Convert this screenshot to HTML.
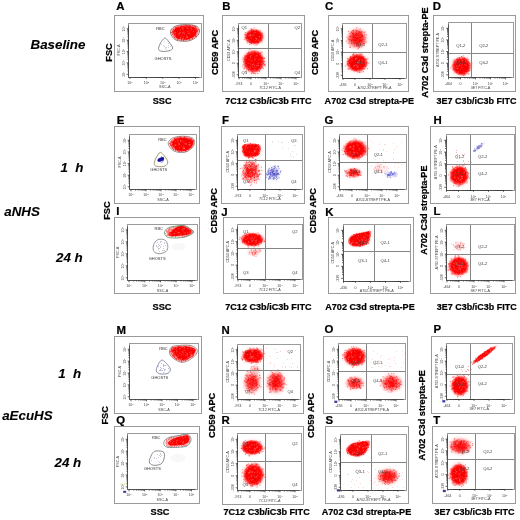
<!DOCTYPE html>
<html><head><meta charset="utf-8"><style>
html,body{margin:0;padding:0;background:#fff;width:520px;height:520px;overflow:hidden}
svg{display:block;font-family:"Liberation Sans",sans-serif;will-change:transform}
</style></head><body>
<svg width="520" height="520" viewBox="0 0 520 520">
<defs><radialGradient id="gr"><stop offset="0" stop-color="#f00"/><stop offset="0.66" stop-color="#f00"/><stop offset="0.82" stop-color="#f00" stop-opacity="0.6"/><stop offset="0.93" stop-color="#f00" stop-opacity="0.2"/><stop offset="1" stop-color="#f00" stop-opacity="0"/></radialGradient><radialGradient id="gs"><stop offset="0" stop-color="#f00"/><stop offset="0.35" stop-color="#f00" stop-opacity="0.95"/><stop offset="0.65" stop-color="#f00" stop-opacity="0.55"/><stop offset="0.85" stop-color="#f00" stop-opacity="0.2"/><stop offset="1" stop-color="#f00" stop-opacity="0"/></radialGradient><radialGradient id="gb"><stop offset="0" stop-color="#2a2ac0"/><stop offset="0.5" stop-color="#2a2ac0"/><stop offset="0.75" stop-color="#2a2ac0" stop-opacity="0.6"/><stop offset="1" stop-color="#2a2ac0" stop-opacity="0"/></radialGradient></defs>
<rect width="520" height="520" fill="#fff"/>
<rect x="114.5" y="15.5" width="89.0" height="76.0" fill="#fff" stroke="#9a9a9a" stroke-width="1"/>
<rect x="114.5" y="126.5" width="85.0" height="77.0" fill="#fff" stroke="#9a9a9a" stroke-width="1"/>
<rect x="114.5" y="217.5" width="85.0" height="76.0" fill="#fff" stroke="#9a9a9a" stroke-width="1"/>
<rect x="114.5" y="336.5" width="87.0" height="77.0" fill="#fff" stroke="#9a9a9a" stroke-width="1"/>
<rect x="114.5" y="426.5" width="85.0" height="77.0" fill="#fff" stroke="#9a9a9a" stroke-width="1"/>
<rect x="222.5" y="15.5" width="82.0" height="76.0" fill="#fff" stroke="#9a9a9a" stroke-width="1"/>
<rect x="328.5" y="15.5" width="80.0" height="76.0" fill="#fff" stroke="#9a9a9a" stroke-width="1"/>
<rect x="433.5" y="15.5" width="82.0" height="76.0" fill="#fff" stroke="#9a9a9a" stroke-width="1"/>
<rect x="221.5" y="126.5" width="83.0" height="77.0" fill="#fff" stroke="#9a9a9a" stroke-width="1"/>
<rect x="323.5" y="126.5" width="85.0" height="77.0" fill="#fff" stroke="#9a9a9a" stroke-width="1"/>
<rect x="430.5" y="126.5" width="85.0" height="77.0" fill="#fff" stroke="#9a9a9a" stroke-width="1"/>
<rect x="223.5" y="217.5" width="80.0" height="76.0" fill="#fff" stroke="#9a9a9a" stroke-width="1"/>
<rect x="328.5" y="217.5" width="85.0" height="76.0" fill="#fff" stroke="#9a9a9a" stroke-width="1"/>
<rect x="430.5" y="217.5" width="85.0" height="76.0" fill="#fff" stroke="#9a9a9a" stroke-width="1"/>
<rect x="222.5" y="336.5" width="81.0" height="77.0" fill="#fff" stroke="#9a9a9a" stroke-width="1"/>
<rect x="323.5" y="336.5" width="84.0" height="77.0" fill="#fff" stroke="#9a9a9a" stroke-width="1"/>
<rect x="431.5" y="336.5" width="83.0" height="77.0" fill="#fff" stroke="#9a9a9a" stroke-width="1"/>
<rect x="222.5" y="426.5" width="81.0" height="78.0" fill="#fff" stroke="#9a9a9a" stroke-width="1"/>
<rect x="325.5" y="426.5" width="83.0" height="77.0" fill="#fff" stroke="#9a9a9a" stroke-width="1"/>
<rect x="432.5" y="426.5" width="83.0" height="77.0" fill="#fff" stroke="#9a9a9a" stroke-width="1"/>
<ellipse cx="178.5" cy="246.8" rx="7" ry="3.8" fill="#f8f8f8"/>
<ellipse cx="178" cy="458" rx="8" ry="4" fill="#f8f8f8"/>
<rect x="123.2" y="490.8" width="3" height="2" fill="#24248c" fill-opacity="0.9"/>
<rect x="120" y="483.5" width="7" height="1.6" fill="#f0f0c8"/>
<g>
<path d="M171.4 32.97C171.09 31.09 172.26 29.05 173.75 27.8C175.24 26.55 177.67 25.87 180.33 25.45C182.99 25.03 187.07 25.04 189.73 25.27C192.39 25.50 194.82 25.89 196.31 26.86C197.80 27.83 198.66 29.52 198.66 31.09C198.66 32.66 197.80 34.77 196.31 36.26C194.82 37.75 191.92 39.28 189.73 40.02C187.54 40.76 185.50 40.84 183.15 40.68C180.80 40.52 177.59 40.36 175.63 39.08C173.67 37.80 171.71 34.85 171.4 32.97Z" fill="#f00" fill-opacity="0.50"/>
<path d="M173.5 32.91C173.23 31.31 174.23 29.58 175.5 28.51C176.77 27.44 178.83 26.87 181.1 26.51C183.37 26.15 186.83 26.15 189.1 26.35C191.37 26.55 193.43 26.88 194.7 27.71C195.97 28.54 196.70 29.98 196.7 31.31C196.70 32.64 195.97 34.44 194.7 35.71C193.43 36.98 190.97 38.28 189.1 38.91C187.23 39.54 185.50 39.60 183.5 39.47C181.50 39.34 178.77 39.20 177.1 38.11C175.43 37.02 173.77 34.51 173.5 32.91Z" fill="#f00" fill-opacity="1.0"/>
<path d="M169.46 144.0C169.15 142.20 170.56 140.46 172.09 139.3C173.62 138.14 176.16 137.43 178.67 137.04C181.18 136.65 184.78 136.65 187.13 136.95C189.48 137.25 191.58 137.89 192.77 138.83C193.96 139.77 194.36 141.18 194.28 142.59C194.20 144.00 193.49 145.88 192.3 147.29C191.11 148.70 188.93 150.25 187.13 151.05C185.33 151.85 183.68 152.24 181.49 152.08C179.30 151.92 175.97 151.46 173.97 150.11C171.97 148.76 169.77 145.80 169.46 144.0Z" fill="#f00" fill-opacity="0.50"/>
<path d="M171.87 143.98C171.60 142.45 172.80 140.97 174.11 139.98C175.42 138.99 177.58 138.39 179.71 138.06C181.84 137.73 184.91 137.73 186.91 137.98C188.91 138.23 190.70 138.78 191.71 139.58C192.72 140.38 193.06 141.58 192.99 142.78C192.92 143.98 192.32 145.58 191.31 146.78C190.30 147.98 188.44 149.30 186.91 149.98C185.38 150.66 183.98 150.99 182.11 150.86C180.24 150.73 177.42 150.33 175.71 149.18C174.00 148.03 172.14 145.51 171.87 143.98Z" fill="#f00" fill-opacity="1.0"/>
<ellipse cx="160.8" cy="159.4" rx="3.6" ry="1.9" fill="#1414a0" fill-opacity="1.0" transform="rotate(-25 160.8 159.4)"/>
<path d="M166.05 232.41C165.97 231.17 166.90 229.62 167.91 228.69C168.92 227.76 170.31 227.33 172.09 226.83C173.87 226.33 176.58 225.93 178.6 225.71C180.62 225.49 182.47 225.19 184.18 225.53C185.89 225.87 187.34 226.77 188.83 227.76C190.32 228.75 193.11 230.32 193.11 231.48C193.11 232.64 190.63 233.88 188.83 234.73C187.03 235.58 184.64 236.20 182.32 236.59C180.00 236.98 177.20 237.14 174.88 237.06C172.56 236.98 169.84 236.91 168.37 236.13C166.90 235.35 166.13 233.65 166.05 232.41Z" fill="#f00" fill-opacity="0.30"/>
<path d="M168.5 234C168.67 233.08 170.58 231.67 172 230.5C173.42 229.33 175.42 227.77 177 227C178.58 226.23 180.00 225.85 181.5 225.9C183.00 225.95 184.33 226.37 186 227.3C187.67 228.23 191.17 230.30 191.5 231.5C191.83 232.70 189.92 233.78 188 234.5C186.08 235.22 182.83 235.55 180 235.8C177.17 236.05 172.92 236.30 171 236C169.08 235.70 168.33 234.92 168.5 234Z" fill="#f00" fill-opacity="1.0"/>
<path d="M170.18 351.16C170.41 349.80 170.87 348.03 172.5 347.16C174.13 346.29 177.15 346.15 179.94 345.95C182.73 345.75 186.71 345.47 189.24 345.95C191.77 346.43 194.04 347.66 195.1 348.84C196.16 350.02 196.08 351.62 195.57 353.02C195.06 354.41 193.70 355.89 192.03 357.21C190.36 358.53 187.38 360.20 185.52 360.93C183.66 361.66 182.58 361.89 180.87 361.58C179.16 361.27 176.92 360.11 175.29 359.07C173.66 358.03 171.96 356.67 171.11 355.35C170.26 354.03 169.95 352.53 170.18 351.16Z" fill="#f00" fill-opacity="0.50"/>
<path d="M172 349.2C172.95 348.35 175.33 347.57 178 347.2C180.67 346.83 185.28 346.77 188 347C190.72 347.23 193.17 347.77 194.3 348.6C195.43 349.43 195.43 350.80 194.8 352C194.17 353.20 192.22 354.50 190.5 355.8C188.78 357.10 186.25 359.22 184.5 359.8C182.75 360.38 181.50 360.02 180 359.3C178.50 358.58 176.78 356.67 175.5 355.5C174.22 354.33 172.88 353.35 172.3 352.3C171.72 351.25 171.05 350.05 172 349.2Z" fill="#f00" fill-opacity="1.0"/>
<path d="M165.28 442.91C165.05 441.72 165.82 440.20 166.86 439.19C167.90 438.18 169.42 437.48 171.51 436.86C173.60 436.24 176.94 435.90 179.42 435.47C181.90 435.04 184.65 434.11 186.39 434.26C188.12 434.41 189.16 435.35 189.83 436.4C190.50 437.45 190.88 439.11 190.39 440.58C189.89 442.05 188.84 444.25 186.86 445.23C184.88 446.21 181.59 446.25 178.49 446.44C175.39 446.63 170.46 446.94 168.26 446.35C166.06 445.76 165.51 444.10 165.28 442.91Z" fill="#f00" fill-opacity="0.30"/>
<path d="M168 443C168.25 442.00 170.00 440.37 172 439.3C174.00 438.23 177.58 437.28 180 436.6C182.42 435.92 184.95 435.05 186.5 435.2C188.05 435.35 188.92 436.48 189.3 437.5C189.68 438.52 189.52 440.17 188.8 441.3C188.08 442.43 186.80 443.63 185 444.3C183.20 444.97 180.42 445.13 178 445.3C175.58 445.47 172.17 445.68 170.5 445.3C168.83 444.92 167.75 444.00 168 443Z" fill="#f00" fill-opacity="1.0"/>
<ellipse cx="254.2" cy="36.8" rx="12.48" ry="10.14" fill="url(#gs)" fill-opacity="0.28" transform="rotate(0.0 254.2 36.8)"/>
<ellipse cx="254.2" cy="36.8" rx="10.08" ry="8.19" fill="url(#gr)" fill-opacity="1.00" transform="rotate(0.0 254.2 36.8)"/>
<ellipse cx="253.8" cy="61.5" rx="14.04" ry="14.95" fill="url(#gs)" fill-opacity="0.28" transform="rotate(0.0 253.8 61.5)"/>
<ellipse cx="253.8" cy="61.5" rx="11.34" ry="12.08" fill="url(#gr)" fill-opacity="1.00" transform="rotate(0.0 253.8 61.5)"/>
<ellipse cx="357" cy="38.5" rx="13.0" ry="13.0" fill="url(#gs)" fill-opacity="0.28" transform="rotate(0.0 357 38.5)"/>
<ellipse cx="357" cy="38.5" rx="10.5" ry="10.5" fill="url(#gs)" fill-opacity="0.85" transform="rotate(0.0 357 38.5)"/>
<ellipse cx="357.2" cy="63" rx="13.91" ry="11.7" fill="url(#gs)" fill-opacity="0.28" transform="rotate(0.0 357.2 63)"/>
<ellipse cx="357.2" cy="63" rx="11.23" ry="9.45" fill="url(#gr)" fill-opacity="1.00" transform="rotate(0.0 357.2 63)"/>
<ellipse cx="461.5" cy="66.2" rx="12.48" ry="12.22" fill="url(#gs)" fill-opacity="0.28" transform="rotate(0.0 461.5 66.2)"/>
<ellipse cx="461.5" cy="66.2" rx="10.08" ry="9.87" fill="url(#gr)" fill-opacity="1.00" transform="rotate(0.0 461.5 66.2)"/>
<path d="M242.0 146.19C242.47 144.73 243.82 144.53 245.32 144.1C246.82 143.67 249.12 143.65 251.02 143.62C252.92 143.59 255.14 143.56 256.72 143.91C258.30 144.26 259.89 144.54 260.52 145.71C261.15 146.88 260.92 149.28 260.52 150.94C260.12 152.60 259.56 154.58 258.14 155.69C256.71 156.80 254.11 157.38 251.97 157.59C249.83 157.80 246.90 157.71 245.32 156.92C243.74 156.13 243.02 154.63 242.47 152.84C241.92 151.05 241.53 147.65 242.0 146.19Z" fill="#f00" fill-opacity="0.50"/>
<path d="M243.28 146.68C243.69 145.42 244.85 145.24 246.15 144.87C247.45 144.50 249.43 144.49 251.07 144.46C252.71 144.43 254.62 144.41 255.99 144.71C257.36 145.01 258.72 145.25 259.27 146.26C259.82 147.27 259.61 149.34 259.27 150.78C258.93 152.22 258.45 153.93 257.22 154.88C255.99 155.83 253.73 156.33 251.89 156.51C250.04 156.69 247.52 156.62 246.15 155.94C244.78 155.26 244.17 153.95 243.69 152.41C243.21 150.87 242.87 147.94 243.28 146.68Z" fill="#f00" fill-opacity="1.0"/>
<ellipse cx="251.3" cy="151" rx="13.0" ry="9.36" fill="url(#gs)" fill-opacity="0.18" transform="rotate(0.0 251.3 151)"/>
<ellipse cx="251" cy="171.5" rx="9.97" ry="12.6" fill="url(#gs)" fill-opacity="0.60" transform="rotate(0.0 251 171.5)"/>
<ellipse cx="273.5" cy="173.3" rx="7.88" ry="8.4" fill="url(#gb)" fill-opacity="0.18" transform="rotate(0.0 273.5 173.3)"/>
<ellipse cx="355.3" cy="149.5" rx="15.21" ry="12.35" fill="url(#gs)" fill-opacity="0.28" transform="rotate(0.0 355.3 149.5)"/>
<ellipse cx="355.3" cy="149.5" rx="12.29" ry="9.97" fill="url(#gr)" fill-opacity="1.00" transform="rotate(0.0 355.3 149.5)"/>
<ellipse cx="353.5" cy="172.8" rx="11.05" ry="6.76" fill="url(#gs)" fill-opacity="0.15" transform="rotate(0.0 353.5 172.8)"/>
<ellipse cx="353.5" cy="172.8" rx="8.93" ry="5.46" fill="url(#gs)" fill-opacity="0.70" transform="rotate(0.0 353.5 172.8)"/>
<ellipse cx="390.5" cy="174.5" rx="6.83" ry="3.68" fill="url(#gb)" fill-opacity="0.12" transform="rotate(0.0 390.5 174.5)"/>
<ellipse cx="380" cy="168" rx="9.45" ry="5.25" fill="url(#gs)" fill-opacity="0.06" transform="rotate(0.0 380 168)"/>
<ellipse cx="459.2" cy="175.7" rx="12.35" ry="13.0" fill="url(#gs)" fill-opacity="0.28" transform="rotate(0.0 459.2 175.7)"/>
<ellipse cx="459.2" cy="175.7" rx="9.97" ry="10.5" fill="url(#gr)" fill-opacity="1.00" transform="rotate(0.0 459.2 175.7)"/>
<ellipse cx="479" cy="147" rx="8.4" ry="2.1" fill="url(#gb)" fill-opacity="0.15" transform="rotate(-38 479 147)"/>
<ellipse cx="252.4" cy="239.6" rx="14.82" ry="8.97" fill="url(#gs)" fill-opacity="0.28" transform="rotate(0.0 252.4 239.6)"/>
<ellipse cx="252.4" cy="239.6" rx="11.97" ry="7.25" fill="url(#gr)" fill-opacity="1.00" transform="rotate(0.0 252.4 239.6)"/>
<ellipse cx="254" cy="252" rx="8.4" ry="5.25" fill="url(#gs)" fill-opacity="0.15" transform="rotate(0.0 254 252)"/>
<path d="M348.07 240.43C348.31 239.16 349.10 237.26 350.44 236.15C351.78 235.04 353.92 234.49 356.14 233.78C358.36 233.07 361.30 232.35 363.75 231.88C366.20 231.41 369.76 230.06 370.87 230.93C371.98 231.80 370.87 234.96 370.39 237.1C369.91 239.24 369.76 242.17 368.02 243.75C366.28 245.33 362.55 246.20 359.94 246.6C357.33 247.00 354.17 246.60 352.35 246.13C350.53 245.66 349.73 244.70 349.02 243.75C348.31 242.80 347.83 241.70 348.07 240.43Z" fill="#f00" fill-opacity="0.50"/>
<path d="M349.55 240.24C349.75 239.15 350.44 237.51 351.6 236.55C352.76 235.59 354.61 235.12 356.52 234.5C358.43 233.88 360.96 233.27 363.08 232.86C365.20 232.45 368.27 231.29 369.23 232.04C370.19 232.79 369.23 235.53 368.82 237.37C368.41 239.22 368.27 241.74 366.77 243.11C365.27 244.48 362.06 245.23 359.8 245.57C357.55 245.91 354.81 245.57 353.24 245.16C351.67 244.75 350.99 243.93 350.37 243.11C349.75 242.29 349.35 241.33 349.55 240.24Z" fill="#f00" fill-opacity="1.0"/>
<ellipse cx="359.5" cy="239.5" rx="14.3" ry="9.1" fill="url(#gs)" fill-opacity="0.20" transform="rotate(-15 359.5 239.5)"/>
<ellipse cx="458.7" cy="266.2" rx="13.0" ry="12.48" fill="url(#gs)" fill-opacity="0.28" transform="rotate(0.0 458.7 266.2)"/>
<ellipse cx="458.7" cy="266.2" rx="10.5" ry="10.08" fill="url(#gr)" fill-opacity="0.95" transform="rotate(0.0 458.7 266.2)"/>
<ellipse cx="459" cy="246" rx="7.35" ry="6.3" fill="url(#gs)" fill-opacity="0.08" transform="rotate(0.0 459 246)"/>
<ellipse cx="253" cy="355.7" rx="14.3" ry="9.49" fill="url(#gs)" fill-opacity="0.28" transform="rotate(0.0 253 355.7)"/>
<ellipse cx="253" cy="355.7" rx="11.55" ry="7.67" fill="url(#gr)" fill-opacity="1.00" transform="rotate(0.0 253 355.7)"/>
<ellipse cx="252" cy="382.3" rx="11.05" ry="14.04" fill="url(#gs)" fill-opacity="0.28" transform="rotate(0.0 252 382.3)"/>
<ellipse cx="252" cy="382.3" rx="8.93" ry="11.34" fill="url(#gs)" fill-opacity="0.60" transform="rotate(0.0 252 382.3)"/>
<ellipse cx="276" cy="382.3" rx="12.35" ry="14.04" fill="url(#gs)" fill-opacity="0.28" transform="rotate(0.0 276 382.3)"/>
<ellipse cx="276" cy="382.3" rx="9.97" ry="11.34" fill="url(#gs)" fill-opacity="0.80" transform="rotate(0.0 276 382.3)"/>
<ellipse cx="255" cy="369" rx="6.3" ry="5.25" fill="url(#gs)" fill-opacity="0.20" transform="rotate(0.0 255 369)"/>
<ellipse cx="354.8" cy="356.8" rx="14.56" ry="11.96" fill="url(#gs)" fill-opacity="0.28" transform="rotate(0.0 354.8 356.8)"/>
<ellipse cx="354.8" cy="356.8" rx="11.76" ry="9.66" fill="url(#gr)" fill-opacity="1.00" transform="rotate(0.0 354.8 356.8)"/>
<ellipse cx="354.7" cy="383" rx="11.7" ry="8.45" fill="url(#gs)" fill-opacity="0.28" transform="rotate(0.0 354.7 383)"/>
<ellipse cx="354.7" cy="383" rx="9.45" ry="6.83" fill="url(#gs)" fill-opacity="0.60" transform="rotate(0.0 354.7 383)"/>
<ellipse cx="391.6" cy="383" rx="13.65" ry="11.05" fill="url(#gs)" fill-opacity="0.28" transform="rotate(0.0 391.6 383)"/>
<ellipse cx="391.6" cy="383" rx="11.03" ry="8.93" fill="url(#gs)" fill-opacity="0.70" transform="rotate(0.0 391.6 383)"/>
<ellipse cx="459.8" cy="385.7" rx="11.44" ry="13.26" fill="url(#gs)" fill-opacity="0.28" transform="rotate(0.0 459.8 385.7)"/>
<ellipse cx="459.8" cy="385.7" rx="9.24" ry="10.71" fill="url(#gr)" fill-opacity="1.00" transform="rotate(0.0 459.8 385.7)"/>
<ellipse cx="484.3" cy="354.7" rx="19.5" ry="3.38" fill="url(#gs)" fill-opacity="0.15" transform="rotate(-36 484.3 354.7)"/>
<ellipse cx="484.3" cy="354.7" rx="15.75" ry="2.73" fill="url(#gr)" fill-opacity="0.85" transform="rotate(-36 484.3 354.7)"/>
<ellipse cx="252.2" cy="447.5" rx="14.04" ry="9.75" fill="url(#gs)" fill-opacity="0.28" transform="rotate(0.0 252.2 447.5)"/>
<ellipse cx="252.2" cy="447.5" rx="11.34" ry="7.88" fill="url(#gr)" fill-opacity="1.00" transform="rotate(0.0 252.2 447.5)"/>
<ellipse cx="253.5" cy="474.8" rx="13.65" ry="14.56" fill="url(#gs)" fill-opacity="0.28" transform="rotate(0.0 253.5 474.8)"/>
<ellipse cx="253.5" cy="474.8" rx="11.03" ry="11.76" fill="url(#gr)" fill-opacity="1.00" transform="rotate(0.0 253.5 474.8)"/>
<path d="M346.12 448.96C346.67 447.53 348.41 445.40 350.39 444.21C352.37 443.02 355.46 442.42 358.0 441.84C360.54 441.25 363.62 440.78 365.6 440.7C367.58 440.62 369.32 440.30 369.87 441.36C370.42 442.42 369.79 445.00 368.92 447.06C368.05 449.12 366.46 452.08 364.64 453.71C362.82 455.34 360.38 456.61 358.0 456.85C355.62 457.09 352.21 455.82 350.39 455.14C348.57 454.46 347.78 453.79 347.07 452.76C346.36 451.73 345.57 450.38 346.12 448.96Z" fill="#f00" fill-opacity="0.50"/>
<path d="M347.73 448.87C348.21 447.64 349.71 445.79 351.42 444.77C353.13 443.75 355.79 443.23 357.98 442.72C360.17 442.21 362.83 441.80 364.54 441.73C366.25 441.66 367.75 441.39 368.23 442.31C368.71 443.23 368.16 445.45 367.41 447.23C366.66 449.01 365.29 451.56 363.72 452.97C362.15 454.38 360.03 455.47 357.98 455.67C355.93 455.88 352.99 454.79 351.42 454.2C349.85 453.61 349.17 453.04 348.55 452.15C347.94 451.26 347.25 450.10 347.73 448.87Z" fill="#f00" fill-opacity="1.0"/>
<ellipse cx="358" cy="448.8" rx="14.95" ry="9.75" fill="url(#gs)" fill-opacity="0.20" transform="rotate(-15 358 448.8)"/>
<ellipse cx="388" cy="476.5" rx="13.65" ry="10.4" fill="url(#gs)" fill-opacity="0.28" transform="rotate(0.0 388 476.5)"/>
<ellipse cx="388" cy="476.5" rx="11.03" ry="8.4" fill="url(#gs)" fill-opacity="0.80" transform="rotate(0.0 388 476.5)"/>
<ellipse cx="460.3" cy="446.2" rx="14.3" ry="10.66" fill="url(#gs)" fill-opacity="0.28" transform="rotate(0.0 460.3 446.2)"/>
<ellipse cx="460.3" cy="446.2" rx="11.55" ry="8.61" fill="url(#gs)" fill-opacity="0.75" transform="rotate(0.0 460.3 446.2)"/>
<ellipse cx="458.8" cy="474.5" rx="11.96" ry="14.3" fill="url(#gs)" fill-opacity="0.28" transform="rotate(0.0 458.8 474.5)"/>
<ellipse cx="458.8" cy="474.5" rx="9.66" ry="11.55" fill="url(#gr)" fill-opacity="1.00" transform="rotate(0.0 458.8 474.5)"/>
<path d="M169 143h1M170 143h1M170 144h1M170 145h1M170 351h1M171 32h1M171 141h1M171 142h1M171 145h1M171 146h1M171 348h1M171 349h1M171 350h1M171 351h1M172 31h1M172 32h1M172 34h1M172 143h1M172 144h1M172 145h1M172 147h1M172 148h1M172 347h1M172 349h1M172 350h1M172 355h1M173 29h1M173 30h1M173 31h1M173 32h1M173 33h1M173 142h1M173 143h1M173 145h1M173 146h1M173 149h1M173 347h1M173 351h1M173 352h1M173 353h1M173 354h1M173 355h1M173 356h1M174 31h1M174 32h1M174 33h1M174 34h1M174 35h1M174 37h1M174 138h1M174 139h1M174 140h1M174 141h1M174 142h1M174 143h1M174 144h1M174 347h1M174 349h1M174 350h1M174 351h1M174 352h1M174 353h1M174 354h1M174 355h1M174 356h1M174 357h1M175 27h1M175 28h1M175 29h1M175 30h1M175 32h1M175 33h1M175 34h1M175 138h1M175 139h1M175 142h1M175 143h1M175 144h1M175 145h1M175 147h1M175 148h1M175 149h1M175 150h1M175 347h1M175 349h1M175 350h1M175 353h1M175 358h1M176 27h1M176 29h1M176 30h1M176 31h1M176 32h1M176 33h1M176 34h1M176 36h1M176 37h1M176 138h1M176 140h1M176 141h1M176 147h1M176 148h1M176 149h1M176 348h1M176 350h1M176 351h1M176 352h1M176 354h1M176 355h1M176 358h1M176 359h1M177 27h1M177 28h1M177 30h1M177 32h1M177 33h1M177 35h1M177 36h1M177 37h1M177 38h1M177 39h1M177 137h1M177 140h1M177 141h1M177 142h1M177 148h1M177 150h1M177 346h1M177 348h1M177 349h1M177 350h1M177 351h1M177 352h1M177 353h1M177 355h1M177 357h1M178 27h1M178 34h1M178 35h1M178 36h1M178 37h1M178 38h1M178 138h1M178 140h1M178 141h1M178 142h1M178 144h1M178 146h1M178 149h1M178 150h1M178 151h1M178 346h1M178 347h1M178 350h1M178 351h1M178 352h1M178 354h1M178 356h1M178 358h1M178 359h1M179 30h1M179 31h1M179 33h1M179 34h1M179 35h1M179 37h1M179 38h1M179 137h1M179 138h1M179 140h1M179 141h1M179 142h1M179 143h1M179 144h1M179 147h1M179 148h1M179 151h1M179 346h1M179 347h1M179 348h1M179 351h1M179 353h1M179 354h1M179 356h1M179 358h1M180 26h1M180 27h1M180 30h1M180 31h1M180 32h1M180 34h1M180 35h1M180 36h1M180 37h1M180 38h1M180 136h1M180 137h1M180 138h1M180 139h1M180 142h1M180 144h1M180 145h1M180 146h1M180 147h1M180 150h1M180 348h1M180 350h1M180 352h1M180 353h1M180 354h1M180 357h1M180 359h1M181 25h1M181 26h1M181 27h1M181 30h1M181 33h1M181 36h1M181 37h1M181 39h1M181 40h1M181 138h1M181 140h1M181 141h1M181 145h1M181 146h1M181 147h1M181 148h1M181 149h1M181 151h1M181 347h1M181 348h1M181 349h1M181 351h1M181 354h1M181 355h1M181 356h1M181 357h1M181 359h1M181 360h1M181 361h1M182 26h1M182 27h1M182 31h1M182 33h1M182 36h1M182 37h1M182 38h1M182 138h1M182 139h1M182 140h1M182 141h1M182 145h1M182 146h1M182 148h1M182 348h1M182 349h1M182 352h1M182 353h1M182 354h1M182 356h1M182 357h1M182 358h1M183 26h1M183 28h1M183 29h1M183 30h1M183 32h1M183 33h1M183 34h1M183 35h1M183 36h1M183 39h1M183 40h1M183 139h1M183 140h1M183 141h1M183 142h1M183 147h1M183 148h1M183 149h1M183 348h1M183 350h1M183 351h1M183 355h1M183 356h1M183 358h1M183 360h1M184 26h1M184 29h1M184 30h1M184 31h1M184 32h1M184 33h1M184 36h1M184 38h1M184 39h1M184 136h1M184 137h1M184 142h1M184 143h1M184 145h1M184 146h1M184 149h1M184 150h1M184 346h1M184 347h1M184 350h1M184 351h1M184 353h1M184 354h1M184 356h1M184 357h1M185 25h1M185 38h1M185 141h1M185 142h1M185 145h1M185 146h1M185 147h1M185 148h1M185 149h1M185 150h1M185 151h1M185 346h1M185 347h1M185 348h1M185 349h1M185 351h1M185 352h1M185 353h1M185 354h1M185 355h1M185 359h1M185 360h1M186 25h1M186 27h1M186 29h1M186 30h1M186 32h1M186 33h1M186 35h1M186 36h1M186 38h1M186 39h1M186 138h1M186 139h1M186 140h1M186 143h1M186 146h1M186 147h1M186 151h1M186 346h1M186 347h1M186 348h1M186 349h1M186 350h1M186 353h1M186 355h1M186 356h1M186 358h1M186 359h1M187 25h1M187 26h1M187 28h1M187 32h1M187 33h1M187 35h1M187 36h1M187 37h1M187 38h1M187 138h1M187 140h1M187 141h1M187 142h1M187 144h1M187 147h1M187 148h1M187 149h1M187 347h1M187 348h1M187 349h1M187 350h1M187 352h1M187 353h1M187 355h1M187 357h1M187 358h1M187 359h1M188 25h1M188 27h1M188 28h1M188 29h1M188 31h1M188 32h1M188 33h1M188 34h1M188 35h1M188 36h1M188 141h1M188 143h1M188 144h1M188 146h1M188 149h1M188 349h1M188 353h1M188 354h1M188 355h1M188 356h1M188 357h1M188 358h1M189 25h1M189 27h1M189 29h1M189 30h1M189 33h1M189 36h1M189 39h1M189 138h1M189 139h1M189 140h1M189 141h1M189 142h1M189 143h1M189 144h1M189 145h1M189 146h1M189 147h1M189 148h1M189 345h1M189 347h1M189 349h1M189 350h1M189 352h1M189 353h1M189 354h1M189 355h1M189 356h1M189 357h1M190 25h1M190 26h1M190 27h1M190 28h1M190 29h1M190 30h1M190 31h1M190 33h1M190 37h1M190 142h1M190 145h1M190 146h1M190 147h1M190 348h1M190 350h1M190 351h1M190 354h1M190 357h1M191 28h1M191 30h1M191 32h1M191 37h1M191 138h1M191 142h1M191 144h1M191 147h1M191 347h1M191 351h1M191 353h1M191 356h1M192 25h1M192 29h1M192 30h1M192 31h1M192 33h1M192 34h1M192 36h1M192 37h1M192 38h1M192 140h1M192 141h1M192 142h1M192 143h1M192 144h1M192 351h1M192 352h1M192 353h1M192 354h1M192 355h1M192 356h1M193 27h1M193 28h1M193 32h1M193 33h1M193 34h1M193 35h1M193 36h1M193 140h1M193 141h1M193 348h1M193 349h1M193 350h1M193 351h1M193 353h1M193 354h1M193 355h1M194 26h1M194 33h1M194 351h1M195 26h1M195 27h1M195 28h1M195 30h1M195 31h1M195 34h1M195 35h1M195 36h1M195 349h1M195 350h1M196 28h1M196 29h1M196 30h1M196 36h1M197 30h1M197 31h1M198 29h1M239.8 168.1h1M241.3 175.3h1M241.5 173.6h1M241.6 167.5h1M241.7 177.6h1M242 146h1M242 147h1M242 151h1M242.1 171.2h1M242.5 172.3h1M242.5 178.2h1M242.6 179.1h1M242.8 173.4h1M242.9 169.5h1M242.9 169.9h1M242.9 177.9h1M243 145h1M243 147h1M243 149h1M243 152h1M243.1 171.4h1M243.2 164.8h1M243.2 173.3h1M243.3 175.2h1M243.4 177.4h1M243.6 167.1h1M243.8 168.2h1M243.8 177.1h1M243.8 179.1h1M244 144h1M244 147h1M244 155h1M244 173.9h1M244.1 175.8h1M244.2 167.5h1M244.2 173.5h1M244.5 175.2h1M244.7 162.4h1M244.7 165.6h1M244.7 172.1h1M244.8 172.7h1M244.8 176.7h1M245 144h1M245 145h1M245 146h1M245 148h1M245 152h1M245 155h1M245 166.5h1M245 166.8h1M245 170.7h1M245 176.8h1M245.1 173h1M245.1 175.3h1M245.2 168.9h1M245.3 164h1M245.5 169.2h1M245.5 172.1h1M245.5 176.3h1M245.6 164.6h1M245.6 173.8h1M245.6 174h1M245.6 175h1M245.7 171.2h1M245.8 174.1h1M245.8 179h1M246 145h1M246 149h1M246 150h1M246 151h1M246 154h1M246 159.8h1M246 165.8h1M246 170.9h1M246.1 160.9h1M246.1 162.6h1M246.1 164.7h1M246.1 169.3h1M246.1 171h1M246.2 167.8h1M246.2 168.1h1M246.2 174.4h1M246.3 162.3h1M246.3 170.1h1M246.3 174.6h1M246.3 176.7h1M246.3 177.7h1M246.4 165.5h1M246.4 174h1M246.5 169.2h1M246.5 172.9h1M246.6 167h1M246.6 167.2h1M246.6 170.6h1M246.6 173h1M246.8 168.9h1M246.8 172h1M246.8 172.7h1M246.8 173.1h1M246.8 176.6h1M246.9 164.7h1M246.9 169.5h1M247 147h1M247 148h1M247 149h1M247 152h1M247 153h1M247 168.1h1M247 179h1M247.1 167h1M247.1 167.5h1M247.1 168.6h1M247.1 170h1M247.1 175.2h1M247.2 167.6h1M247.2 170.6h1M247.2 171.5h1M247.2 175.2h1M247.3 168.7h1M247.3 169.4h1M247.3 175.3h1M247.4 171.9h1M247.5 170.3h1M247.5 173.2h1M247.6 171.2h1M247.8 162.2h1M247.8 173.3h1M247.9 169.1h1M247.9 172.2h1M247.9 173.1h1M248 146h1M248 147h1M248 148h1M248 153h1M248 154h1M248 157h1M248 175.2h1M248 178.8h1M248.1 169.2h1M248.1 170h1M248.1 171.4h1M248.1 181.8h1M248.2 166.1h1M248.2 171h1M248.2 175.8h1M248.3 158.2h1M248.3 168.1h1M248.3 168.5h1M248.3 172.7h1M248.3 172.8h1M248.3 175.1h1M248.3 175.3h1M248.4 166h1M248.4 168.7h1M248.4 175.7h1M248.4 176.2h1M248.4 181.1h1M248.5 170.8h1M248.5 173.5h1M248.7 181h1M248.8 160.5h1M248.8 160.8h1M248.8 171.1h1M248.8 175.1h1M248.9 166.8h1M248.9 173.2h1M248.9 182.3h1M249 148h1M249 150h1M249 155h1M249 157h1M249 163.9h1M249 164.9h1M249 165.6h1M249 175.9h1M249 180.2h1M249.1 163.9h1M249.1 170.2h1M249.1 173.2h1M249.2 167.1h1M249.2 175.7h1M249.3 168h1M249.3 168.2h1M249.3 169.4h1M249.3 171.4h1M249.4 169.1h1M249.4 169.9h1M249.5 171.5h1M249.6 160.5h1M249.6 166.3h1M249.6 169.9h1M249.6 176.2h1M249.8 169.3h1M249.8 175.2h1M249.9 165.8h1M250 143h1M250 147h1M250 149h1M250 153h1M250 176.6h1M250.1 162.5h1M250.1 165.9h1M250.1 167.8h1M250.1 174.1h1M250.1 184.8h1M250.2 166.6h1M250.2 169.6h1M250.2 169.8h1M250.2 170.2h1M250.2 176.2h1M250.2 177.9h1M250.3 165.7h1M250.3 172.1h1M250.3 173.4h1M250.3 176.6h1M250.3 181.9h1M250.4 172.9h1M250.4 177.1h1M250.5 162.8h1M250.5 165.3h1M250.5 168.1h1M250.5 168.8h1M250.6 168.7h1M250.6 169h1M250.7 161.8h1M250.7 169.7h1M250.7 170.8h1M250.8 178.7h1M250.9 167.7h1M250.9 170.6h1M250.9 172.4h1M251 146h1M251 147h1M251 150h1M251 151h1M251 152h1M251 154h1M251 164.5h1M251 170.1h1M251 170.8h1M251 171.8h1M251 183.6h1M251.2 166.1h1M251.2 169.3h1M251.3 171.7h1M251.3 171.8h1M251.3 175.8h1M251.4 164.2h1M251.4 167.2h1M251.4 174.8h1M251.5 163h1M251.5 167.8h1M251.5 174.5h1M251.6 160.7h1M251.6 165h1M251.6 165.4h1M251.6 169h1M251.6 172.3h1M251.7 173.4h1M251.8 171.5h1M251.8 172h1M251.8 174.4h1M251.8 176.1h1M251.9 163.7h1M251.9 167.9h1M251.9 171.9h1M251.9 175h1M252 144h1M252 145h1M252 147h1M252 148h1M252 154h1M252 157h1M252 172.1h1M252 173.7h1M252.2 162.7h1M252.2 163.1h1M252.2 166.5h1M252.4 163.8h1M252.4 168.9h1M252.4 170.6h1M252.4 174.4h1M252.5 164.3h1M252.6 158h1M252.6 166.3h1M252.6 169.2h1M252.6 170.1h1M252.6 172.2h1M252.6 174.2h1M252.7 162.1h1M252.7 169.2h1M252.7 171.3h1M252.7 173.6h1M252.8 173.3h1M253 145h1M253 147h1M253 148h1M253 149h1M253 151h1M253 155h1M253.1 169.4h1M253.2 166.7h1M253.3 161.7h1M253.3 166.3h1M253.3 167.8h1M253.3 175.1h1M253.4 168.3h1M253.4 169.7h1M253.4 170.1h1M253.4 176.8h1M253.6 164.6h1M253.6 169.3h1M253.6 177h1M253.8 163.7h1M253.8 169.2h1M253.8 170.5h1M253.8 176.9h1M253.9 174.7h1M253.9 174.8h1M253.9 182.3h1M254 145h1M254 147h1M254 150h1M254 173.9h1M254 177.6h1M254.1 173.1h1M254.1 175.6h1M254.1 179.9h1M254.2 180.4h1M254.3 165.7h1M254.3 166.9h1M254.3 170.9h1M254.3 173h1M254.3 176.6h1M254.3 179.9h1M254.4 169.2h1M254.5 164.8h1M254.5 167.8h1M254.5 174.2h1M254.7 159.3h1M254.7 166.5h1M254.7 170.1h1M254.8 169h1M255 144h1M255 145h1M255 146h1M255 148h1M255 149h1M255 151h1M255 152h1M255 155h1M255 170.8h1M255.1 171.6h1M255.1 172h1M255.1 172.7h1M255.2 158.9h1M255.2 165.8h1M255.2 170.1h1M255.2 173.5h1M255.2 173.7h1M255.3 161h1M255.3 179.3h1M255.4 166.6h1M255.4 167.8h1M255.4 169.9h1M255.4 173.6h1M255.5 170.1h1M255.6 159.4h1M255.6 173.4h1M255.7 171.7h1M255.8 166.3h1M255.8 167.3h1M255.8 168.8h1M255.8 179.1h1M255.9 165.5h1M255.9 182.4h1M256 144h1M256 147h1M256 148h1M256 149h1M256 150h1M256 151h1M256 154h1M256 176.3h1M256.1 171.4h1M256.2 165.2h1M256.2 174.4h1M256.3 166.1h1M256.3 168h1M256.4 180.5h1M256.5 172.9h1M256.5 175.5h1M256.6 177h1M257 145h1M257 146h1M257 147h1M257 148h1M257 150h1M257 154h1M257 155h1M257.2 175.2h1M257.3 175.9h1M257.4 178.8h1M257.5 166.7h1M257.5 176.1h1M257.6 178h1M257.7 164.8h1M257.8 164.3h1M257.8 176.3h1M258 144h1M258 147h1M258 148h1M258 153h1M258 154h1M258.1 175.2h1M258.2 170h1M258.4 174.2h1M258.7 170.7h1M258.7 174.1h1M258.7 179.2h1M259 148h1M259 151h1M259 153h1M259.3 170.2h1M259.3 172.9h1M259.3 173.9h1M260 149h1M260.5 173.7h1M260.8 166.7h1M261.3 169.9h1M344.3 170.1h1M344.6 171h1M345.4 171.3h1M345.6 172.5h1M345.7 175.5h1M345.9 170.3h1M346.4 175h1M346.9 176.1h1M347 172.7h1M347 448h1M347 450h1M347 452h1M347 453h1M347.3 172.4h1M347.8 171.7h1M347.9 173.2h1M348 448h1M348 449h1M348 451h1M348.5 172.1h1M348.7 175.4h1M349 173h1M349 243h1M349 450h1M349 452h1M349.2 171.9h1M349.4 177.2h1M349.5 171.7h1M349.5 173.4h1M349.7 172.7h1M349.9 168.8h1M350 169.9h1M350 174.5h1M350 238h1M350 240h1M350 243h1M350 445h1M350 446h1M350 447h1M350 449h1M350 450h1M350 454h1M350.1 174.3h1M350.1 175h1M350.2 169.8h1M350.3 172.1h1M350.5 168.8h1M350.5 172.2h1M350.5 173h1M350.6 170.5h1M350.6 171.6h1M350.6 174.6h1M350.7 173.8h1M350.7 174.8h1M350.8 169.7h1M350.9 174.3h1M351 169.7h1M351 238h1M351 239h1M351 240h1M351 242h1M351 444h1M351 447h1M351 449h1M351 450h1M351 451h1M351 453h1M351 454h1M351.1 170.5h1M351.2 173.3h1M351.2 175.1h1M351.3 170.9h1M351.6 170.6h1M351.8 170.9h1M351.8 172.4h1M351.8 172.7h1M351.8 173.7h1M352 169.6h1M352 238h1M352 240h1M352 243h1M352 245h1M352 447h1M352 449h1M352 450h1M352 452h1M352.2 172.9h1M352.3 172.4h1M352.4 172h1M352.6 176.3h1M352.7 170.8h1M352.7 174.6h1M352.7 174.8h1M352.9 169.4h1M352.9 174.2h1M353 171.7h1M353 172.6h1M353 234h1M353 236h1M353 238h1M353 240h1M353 242h1M353 245h1M353 443h1M353 444h1M353 445h1M353 447h1M353 448h1M353 451h1M353 453h1M353 454h1M353 455h1M353.2 168.8h1M353.2 170.8h1M353.3 172.3h1M353.4 172h1M353.5 172.7h1M353.8 172.2h1M353.9 171.3h1M354 167.9h1M354 171.7h1M354 171.9h1M354 234h1M354 238h1M354 241h1M354 244h1M354 443h1M354 446h1M354 448h1M354 449h1M354 451h1M354 452h1M354.1 176.2h1M354.2 173.8h1M354.3 172.5h1M354.4 171.7h1M354.4 173.1h1M354.7 169.2h1M354.9 171.1h1M355 169.1h1M355 171.4h1M355 173h1M355 234h1M355 238h1M355 239h1M355 445h1M355 448h1M355 449h1M355 450h1M355 452h1M355 453h1M355 454h1M355 455h1M355.4 171.6h1M355.4 174.8h1M355.6 173.1h1M355.7 170.5h1M355.8 169.9h1M355.9 170.4h1M355.9 172.2h1M356 171.6h1M356 171.7h1M356 173.8h1M356 233h1M356 234h1M356 236h1M356 238h1M356 240h1M356 242h1M356 244h1M356 245h1M356 444h1M356 448h1M356 449h1M356 451h1M356 452h1M356 453h1M356.1 173.4h1M356.1 174.3h1M356.2 172.6h1M356.3 171.1h1M356.3 172.7h1M356.5 169.5h1M356.6 173h1M356.8 174.3h1M357 174.4h1M357 234h1M357 239h1M357 240h1M357 241h1M357 242h1M357 243h1M357 442h1M357 445h1M357 447h1M357 448h1M357 452h1M357 454h1M357 455h1M357.2 172h1M357.2 174.1h1M357.5 173.7h1M357.9 173.3h1M358 234h1M358 240h1M358 242h1M358 245h1M358 443h1M358 445h1M358 447h1M358 451h1M358 452h1M358 453h1M358 454h1M358 455h1M358.2 174.8h1M358.2 174.9h1M358.3 171.2h1M358.3 171.9h1M358.7 173.9h1M358.8 174.1h1M359 233h1M359 237h1M359 239h1M359 242h1M359 243h1M359 244h1M359 245h1M359 246h1M359 443h1M359 445h1M359 451h1M359 452h1M360 174.5h1M360 237h1M360 238h1M360 239h1M360 240h1M360 241h1M360 245h1M360 246h1M360 444h1M360 445h1M360 446h1M360 449h1M360 454h1M360.6 175h1M361 233h1M361 234h1M361 235h1M361 236h1M361 238h1M361 242h1M361 244h1M361 442h1M361 448h1M361 449h1M361 450h1M361 451h1M361 452h1M362 234h1M362 235h1M362 237h1M362 238h1M362 241h1M362 243h1M362 245h1M362 441h1M362 443h1M362 444h1M362 446h1M362 450h1M363 233h1M363 234h1M363 236h1M363 244h1M363 441h1M363 443h1M363 445h1M363 446h1M363 449h1M363 450h1M363 451h1M364 233h1M364 234h1M364 236h1M364 237h1M364 240h1M364 242h1M364 447h1M364 450h1M364 452h1M365 232h1M365 235h1M365 237h1M365 238h1M365 239h1M365 241h1M365 242h1M365 243h1M365 441h1M365 442h1M365 443h1M365 445h1M365 446h1M365 451h1M365 452h1M366 235h1M366 239h1M366 242h1M366 243h1M366 244h1M366 442h1M366 443h1M366 444h1M366 447h1M366 448h1M366 450h1M367 233h1M367 234h1M367 236h1M367 238h1M367 242h1M367 442h1M368 231h1M368 232h1M368 234h1M368 238h1M368 240h1M368 243h1M368 444h1M368 445h1M368 447h1M369 233h1M369 234h1M369 236h1M369 239h1M370 235h1" stroke="#f00" stroke-opacity="0.55" stroke-width="1" transform="translate(0,0.5)"/>
<path d="M168.3 233.8h1M168.3 443.2h1M169.5 233.1h1M169.6 233.3h1M169.7 441.1h1M169.7 442.5h1M170.6 233.9h1M170.9 234.3h1M171.3 231h1M171.6 143.1h1M171.6 442.9h1M171.7 350.6h1M171.7 439.6h1M171.9 442.3h1M172.3 348.7h1M172.8 351.9h1M173 440.9h1M173.4 233.7h1M173.5 229.3h1M173.7 32.3h1M173.7 351.1h1M173.7 352.9h1M173.8 146.2h1M174.1 233.1h1M174.1 439.2h1M174.4 33.7h1M174.4 144.9h1M174.5 348.6h1M174.8 31.3h1M174.9 32.1h1M174.9 144.3h1M175 141.2h1M175 230.8h1M175.1 34.8h1M175.3 144.8h1M175.9 350.4h1M175.9 441.8h1M176 440.6h1M176.1 348.4h1M176.2 442.5h1M176.3 351.3h1M176.4 231.5h1M176.6 140.2h1M176.9 439.5h1M176.9 439.8h1M177 444.4h1M177.4 139.4h1M177.5 232.4h1M177.5 356.1h1M177.6 141.8h1M177.6 354.6h1M177.8 228.3h1M178.2 33.7h1M178.2 143.7h1M178.4 34.5h1M178.5 232h1M178.5 232.1h1M178.6 143.2h1M178.8 233.6h1M179 147.2h1M179.1 143.5h1M179.2 27.1h1M179.4 33h1M179.4 348h1M179.4 352.8h1M179.6 437.4h1M179.7 32h1M179.7 348.5h1M180 37.3h1M180 234.4h1M180.1 29.4h1M180.1 140.8h1M180.3 140h1M180.4 37.4h1M180.4 140.9h1M180.4 358.4h1M180.5 440.7h1M180.6 355.5h1M180.9 34.8h1M181 353.7h1M181 358.3h1M181.2 145.3h1M181.3 233.9h1M181.4 27.2h1M181.5 350.9h1M181.6 436.6h1M181.6 443.3h1M181.7 32.9h1M181.8 441.8h1M182 435.7h1M182.1 27.5h1M182.1 38.2h1M182.1 347h1M182.2 139.8h1M182.2 228.6h1M182.3 229.1h1M182.3 352h1M182.4 27.4h1M182.4 36.2h1M182.4 230.4h1M182.5 32.5h1M182.6 148h1M182.6 438.1h1M182.6 443.5h1M182.7 29.3h1M182.7 38.2h1M182.7 228h1M182.8 441.1h1M183.1 442.5h1M183.2 141.6h1M183.2 146.2h1M183.2 350.3h1M183.2 353.7h1M183.4 31.8h1M183.4 147.2h1M183.4 148.1h1M183.6 147.8h1M183.6 232h1M183.6 347.6h1M183.7 227.9h1M184 33.5h1M184 148.2h1M184 228.3h1M184.2 347.1h1M184.3 143.4h1M184.4 226.7h1M184.4 349.6h1M184.4 435.5h1M184.6 233.4h1M184.6 437.2h1M185 436.7h1M185.1 37.9h1M185.1 232.4h1M185.2 443.2h1M185.3 354.9h1M185.4 352.3h1M185.6 143.3h1M185.6 439.4h1M185.8 26.2h1M185.8 143.6h1M186.2 34.6h1M186.5 36.5h1M186.5 36.7h1M186.6 138.1h1M186.7 36.6h1M186.7 353h1M186.7 354.5h1M186.8 27.3h1M186.9 353.8h1M187.1 31.3h1M187.1 356.3h1M187.3 348.1h1M187.4 228.9h1M187.5 27.9h1M187.5 232.1h1M187.6 33.1h1M188.2 138.6h1M188.3 144.2h1M188.4 437.1h1M188.6 138.4h1M188.7 142h1M188.8 31.5h1M188.8 33h1M189 351.9h1M189.2 231h1M189.4 144.2h1M189.4 145.4h1M189.4 232.2h1M189.5 143.8h1M190.4 27.5h1M190.4 347.5h1M190.4 348.5h1M190.5 28.2h1M190.5 354.1h1M190.6 351.6h1M190.7 29.5h1M190.7 139.6h1M190.7 353.7h1M192.8 349h1M193 31.2h1M194.6 28.7h1M243 237.3h1M243 447.7h1M243.2 168.7h1M243.7 353.6h1M244.1 149.4h1M244.1 166.7h1M244.2 236.3h1M244.5 168.9h1M244.5 352.5h1M244.6 242.6h1M244.7 146.5h1M244.8 170.8h1M244.9 444.6h1M245 472.3h1M245.1 148.4h1M245.2 145.3h1M245.2 146.5h1M245.3 239h1M245.3 450.9h1M245.5 172.5h1M245.6 57.9h1M245.6 443.6h1M245.7 64.1h1M246 145.1h1M246 179.2h1M246 443.4h1M246.3 151.1h1M246.3 447h1M246.3 448.9h1M246.3 451.2h1M246.7 67.6h1M246.8 66.5h1M246.8 388.3h1M246.9 243.2h1M246.9 354.2h1M246.9 374.9h1M246.9 468.2h1M247 147.4h1M247 234.6h1M247.2 237.5h1M247.5 38.9h1M247.5 147.3h1M247.6 62.8h1M247.6 179.1h1M247.6 358.2h1M247.6 467.1h1M247.6 479.4h1M247.7 36h1M247.8 477.7h1M248 67.9h1M248 242.1h1M248 472.3h1M248.1 40.4h1M248.1 241.1h1M248.2 35.2h1M248.2 162.9h1M248.2 167h1M248.3 235.4h1M248.3 443h1M248.4 163.6h1M248.5 388.2h1M248.6 376.5h1M248.6 452.4h1M248.7 59.3h1M248.7 163.2h1M248.7 472.7h1M248.8 161.1h1M248.8 167.6h1M248.8 168h1M248.8 378.4h1M248.8 479.8h1M248.9 165.8h1M248.9 177.6h1M248.9 374.7h1M248.9 446.4h1M249 34.6h1M249 151.5h1M249 470.2h1M249 480.4h1M249.1 379h1M249.1 450.2h1M249.2 40.5h1M249.2 68.6h1M249.3 67.2h1M249.3 178h1M249.3 179.3h1M249.3 180.7h1M249.3 373.1h1M249.3 376.6h1M249.3 384.8h1M249.3 471.9h1M249.3 476.7h1M249.4 69.6h1M249.4 178.2h1M249.5 40h1M249.5 357.5h1M249.5 446.7h1M249.6 381.1h1M249.7 63.6h1M249.7 65.9h1M249.7 384.4h1M249.7 390h1M249.8 145.5h1M249.8 162.8h1M249.8 352.3h1M249.8 355.6h1M249.9 55.3h1M249.9 55.9h1M249.9 354h1M250 31.5h1M250 34.5h1M250 67.3h1M250 481.8h1M250.1 35.3h1M250.1 57.8h1M250.1 167.3h1M250.1 388.6h1M250.1 467h1M250.2 33.7h1M250.2 166.3h1M250.2 238.2h1M250.2 471.2h1M250.3 30.5h1M250.3 53.2h1M250.3 356.3h1M250.5 170.4h1M250.5 470.6h1M250.6 36.8h1M250.6 357.5h1M250.6 450.8h1M250.6 475h1M250.7 154.9h1M250.7 372.8h1M250.7 378h1M250.7 387.4h1M250.7 444.3h1M250.8 38.1h1M250.8 60.4h1M250.8 161.1h1M250.8 356.2h1M250.8 357.5h1M250.9 162h1M251 476h1M251.1 480h1M251.2 52.6h1M251.2 55.2h1M251.2 240.5h1M251.3 471.9h1M251.4 238.5h1M251.4 479.3h1M251.5 65.5h1M251.5 167.1h1M251.5 235.5h1M251.6 60.3h1M251.6 152.1h1M251.6 349.9h1M251.6 350.8h1M251.7 52.7h1M251.7 356.1h1M251.8 42.7h1M251.8 169.7h1M251.9 164.9h1M251.9 351.4h1M251.9 444.4h1M252 63.8h1M252 237.1h1M252.1 390.6h1M252.1 471.4h1M252.2 240.9h1M252.2 356.9h1M252.3 35h1M252.3 154.2h1M252.3 180h1M252.3 351.1h1M252.3 388.2h1M252.3 474.7h1M252.4 177h1M252.4 244.5h1M252.4 383.7h1M252.4 388.1h1M252.5 166.3h1M252.5 239.8h1M252.5 240.1h1M252.5 386.9h1M252.5 478.8h1M252.6 67.2h1M252.6 169.3h1M252.7 63.9h1M252.7 162.3h1M252.7 349.2h1M252.7 450.2h1M252.8 389.4h1M252.9 152.8h1M252.9 171.4h1M252.9 359.4h1M253.1 53.6h1M253.2 238.7h1M253.2 355.6h1M253.2 358.5h1M253.4 33.7h1M253.4 63.5h1M253.4 69.3h1M253.4 147.3h1M253.4 234.3h1M253.4 481.1h1M253.6 70.4h1M253.6 174.9h1M253.6 176.1h1M253.7 150.5h1M253.7 170.5h1M253.7 176.8h1M253.7 373.7h1M253.9 379.2h1M253.9 444.4h1M253.9 467.9h1M254 65.4h1M254 390h1M254 448.4h1M254 451.5h1M254.1 452.7h1M254.1 472.1h1M254.1 476.5h1M254.2 69h1M254.2 69.4h1M254.2 237.1h1M254.2 357.5h1M254.3 30.1h1M254.3 31.9h1M254.3 150.4h1M254.3 167.4h1M254.3 375.3h1M254.3 449.9h1M254.3 451.8h1M254.3 476.3h1M254.4 56.4h1M254.4 150.6h1M254.4 151.5h1M254.5 58.7h1M254.5 59.6h1M254.5 382.3h1M254.6 52h1M254.6 162.5h1M254.6 389.2h1M254.7 31.9h1M254.7 242.4h1M254.8 447.9h1M254.9 37.8h1M254.9 40.1h1M254.9 174.3h1M254.9 448.8h1M255 178.7h1M255.1 68.2h1M255.1 381.2h1M255.2 482.6h1M255.3 67.1h1M255.3 148h1M255.3 240h1M255.3 240.7h1M255.4 173.5h1M255.4 235.4h1M255.4 360.2h1M255.4 467.9h1M255.4 476.9h1M255.5 150.2h1M255.5 358.7h1M255.5 468.2h1M255.6 170.7h1M255.7 176h1M255.7 387h1M255.8 242.2h1M255.8 351h1M255.8 388.7h1M255.9 65.2h1M256 444h1M256.1 38.2h1M256.1 447.4h1M256.2 38.5h1M256.2 55.3h1M256.2 239.5h1M256.2 380.6h1M256.2 476.3h1M256.3 172.5h1M256.4 147.3h1M256.4 442.9h1M256.6 381.4h1M256.6 446.2h1M256.6 471.8h1M256.7 167.5h1M256.7 376.9h1M256.7 377.5h1M256.8 54.6h1M256.8 377.1h1M257 146.4h1M257 176.3h1M257 234.2h1M257 355.1h1M257 474.8h1M257.1 65.7h1M257.1 471.4h1M257.2 384.9h1M257.2 446.6h1M257.3 376.9h1M257.4 40.3h1M257.4 352.7h1M257.5 39.7h1M257.5 63.1h1M257.5 151.2h1M257.5 350.3h1M257.5 383.9h1M257.5 470.1h1M257.6 167.3h1M257.7 64.9h1M257.7 380.7h1M257.9 62.5h1M257.9 166.9h1M258 39.5h1M258 449.9h1M258 480.9h1M258.1 64.9h1M258.2 148.1h1M258.2 351.5h1M258.2 468.4h1M258.3 359.9h1M258.3 444.8h1M258.5 443.4h1M258.6 59.2h1M258.7 36h1M258.7 40.6h1M258.7 356.6h1M258.7 445.1h1M258.8 240.8h1M258.9 36.6h1M258.9 242.6h1M258.9 352.7h1M258.9 449.2h1M259.1 31.4h1M259.1 475.6h1M259.2 472.2h1M259.2 478.9h1M259.4 446.2h1M259.4 472.9h1M259.5 58.3h1M259.5 238.8h1M259.5 242.8h1M259.6 479.2h1M259.8 468.2h1M259.9 39.7h1M260.2 65.8h1M260.3 353.1h1M260.4 236.4h1M260.4 477.2h1M260.5 469.1h1M260.5 475.7h1M260.7 58.7h1M260.7 354.8h1M260.7 473.6h1M260.8 237h1M260.9 63.3h1M261.1 36.1h1M261.1 56.2h1M261.1 60.9h1M261.3 354.2h1M261.3 474.5h1M261.6 63.1h1M261.7 473.3h1M268.1 381.8h1M268.4 378.8h1M268.7 380.9h1M269.1 383.1h1M269.9 386.6h1M270 380.8h1M270.6 383.7h1M271 387.4h1M271.1 375.6h1M271.3 376.9h1M271.5 383.3h1M271.5 387.6h1M271.7 381.5h1M271.9 379h1M272 389.2h1M272.5 385.3h1M272.6 378.8h1M272.8 384.8h1M272.8 389.1h1M272.9 383.9h1M272.9 388.7h1M273 376h1M273.2 387.3h1M273.6 385.3h1M273.8 382.1h1M274.5 383.6h1M275.4 374.8h1M275.7 372.9h1M275.7 373.6h1M276.3 387.1h1M277 382.4h1M277.1 377h1M277.5 381.9h1M277.8 381.4h1M277.8 384h1M277.9 389.1h1M279.3 387.9h1M279.6 386.6h1M279.8 387.8h1M280.1 375.8h1M280.1 376.4h1M280.1 381.4h1M280.9 380.9h1M281.6 385.9h1M282.3 378.6h1M282.8 381.8h1M345.2 354.9h1M346 354.4h1M346.1 151.5h1M346.3 152.3h1M346.5 170.6h1M346.5 174.2h1M346.8 148.2h1M346.8 358.1h1M347.1 170.6h1M347.5 170h1M347.6 150.2h1M347.6 153.1h1M347.7 447.9h1M347.8 172.4h1M348 356.8h1M348 359h1M348.1 361.6h1M348.2 147.2h1M348.2 152h1M348.2 173.4h1M348.3 170.2h1M348.3 175.2h1M348.5 174h1M348.8 35.4h1M348.8 350.5h1M348.9 64h1M349.1 356.6h1M349.2 66.5h1M349.2 151.4h1M349.3 40.2h1M349.3 64.9h1M349.3 240.3h1M349.5 146.2h1M349.6 153.5h1M349.8 41h1M349.8 146.7h1M349.8 173.6h1M349.8 350.9h1M349.9 40.8h1M350.1 350.3h1M350.1 446.2h1M350.2 151.5h1M350.3 61.2h1M350.3 146.5h1M350.3 362.9h1M350.4 153.5h1M350.4 154.7h1M350.5 38.2h1M350.5 361.9h1M350.5 379.2h1M350.7 32.2h1M350.7 351.9h1M350.8 57.4h1M350.8 146.2h1M350.8 352.6h1M350.8 387.1h1M350.9 355.2h1M350.9 377.7h1M351 142.2h1M351 242.4h1M351.1 243.2h1M351.1 351.2h1M351.1 356.3h1M351.1 383.5h1M351.2 59.5h1M351.3 67.6h1M351.3 143.3h1M351.4 57.9h1M351.4 379.3h1M351.6 59.6h1M351.6 171.4h1M351.8 148.3h1M351.8 173.9h1M351.8 349.5h1M351.8 378.8h1M351.9 242.1h1M351.9 386.7h1M352 33.5h1M352 141.3h1M352.1 380h1M352.1 451.5h1M352.1 453h1M352.2 37.3h1M352.2 156.4h1M352.2 356.5h1M352.3 240.5h1M352.4 44.5h1M352.4 56.2h1M352.4 379.4h1M352.5 154.1h1M352.5 361.4h1M352.6 151.8h1M352.7 357.1h1M352.8 242.2h1M352.9 146.3h1M353 145.6h1M353 149.2h1M353.1 37.8h1M353.1 360.4h1M353.2 65.8h1M353.3 147.8h1M353.3 452.1h1M353.6 145.3h1M353.7 43.9h1M353.8 64.9h1M353.8 152.2h1M353.8 154.1h1M354 452.2h1M354.1 69.6h1M354.1 350.8h1M354.2 37.7h1M354.2 65.7h1M354.2 151.9h1M354.2 362.8h1M354.3 444.4h1M354.4 32.1h1M354.4 355.5h1M354.6 30.8h1M354.6 354.7h1M354.6 386.8h1M354.6 443.9h1M354.7 44.1h1M354.7 377.2h1M354.8 30.2h1M354.8 377.5h1M354.8 444.4h1M355 361.1h1M355.1 58.6h1M355.1 141.2h1M355.2 36h1M355.2 44.3h1M355.2 58.3h1M355.3 383.3h1M355.5 64.5h1M355.5 175h1M355.5 359.6h1M355.5 377.8h1M355.6 34.6h1M355.6 39.7h1M355.6 360.9h1M355.7 242.3h1M355.7 380h1M355.7 451.9h1M355.8 45.7h1M355.8 69.5h1M355.9 242.9h1M355.9 363.2h1M356 173.4h1M356 381.2h1M356.1 58.3h1M356.2 37.2h1M356.2 443.7h1M356.3 57.5h1M356.3 64.8h1M356.4 40.6h1M356.4 169.6h1M356.4 445.1h1M356.4 453.3h1M356.6 384.9h1M356.7 143.6h1M356.7 448.3h1M356.7 453.1h1M356.8 42.9h1M356.8 66.8h1M356.8 151.9h1M356.9 175h1M356.9 378.9h1M357 237.6h1M357.1 36h1M357.1 69.8h1M357.1 175.7h1M357.2 62.2h1M357.2 380.4h1M357.2 446.3h1M357.3 145.1h1M357.3 153.3h1M357.3 449.4h1M357.4 61.9h1M357.4 65.6h1M357.4 66.8h1M357.4 242.8h1M357.4 450.7h1M357.5 448.8h1M357.8 60.6h1M357.8 68.9h1M357.8 172.7h1M357.9 442.2h1M358 34.4h1M358 235.1h1M358.2 62.8h1M358.2 445.9h1M358.3 149.6h1M358.5 32.5h1M358.6 147.8h1M358.7 42.7h1M358.7 244.5h1M358.8 61.7h1M358.9 361.7h1M359 60h1M359 244h1M359 446.9h1M359.1 240.2h1M359.1 356.4h1M359.1 445.8h1M359.2 384.2h1M359.3 32.6h1M359.3 148.7h1M359.3 361h1M359.5 44.7h1M359.5 155.1h1M359.5 155.4h1M359.5 451.4h1M359.6 35.8h1M359.6 171.3h1M359.6 356.4h1M359.6 381.2h1M359.7 380.3h1M359.7 385.5h1M359.7 445.7h1M359.8 38.2h1M359.8 154.5h1M359.8 236.9h1M359.8 357.5h1M359.9 234.7h1M359.9 353.2h1M359.9 383.5h1M360.1 34.8h1M360.1 356.3h1M360.2 155.4h1M360.3 44.2h1M360.3 381.1h1M360.4 69h1M360.4 443.9h1M360.5 66.5h1M360.5 384.5h1M360.6 353.8h1M360.7 354.9h1M361 155.2h1M361.1 32.7h1M361.1 36.5h1M361.2 31.9h1M361.2 239.6h1M361.4 62.6h1M361.4 242.9h1M361.5 239h1M361.6 353.1h1M361.8 59.2h1M361.8 240.8h1M361.8 445.3h1M361.9 144.2h1M361.9 358.2h1M361.9 359.5h1M362 238.3h1M362 352.2h1M362.1 60h1M362.1 152.7h1M362.1 447.3h1M362.2 36.8h1M362.4 42.9h1M362.4 146h1M362.4 240.3h1M362.5 239h1M362.5 353h1M362.5 447h1M362.6 42.4h1M362.6 356.2h1M362.7 451.1h1M362.8 67h1M362.8 449.4h1M363.1 33.8h1M363.1 35h1M363.1 65.2h1M363.1 152.8h1M363.2 235.9h1M363.3 33.8h1M363.3 149.4h1M363.3 237.2h1M363.3 443.4h1M363.4 41.1h1M363.4 357.9h1M363.5 63h1M363.6 447.3h1M363.8 39.5h1M363.8 443h1M363.9 60.8h1M364 66.9h1M364.1 242.1h1M364.2 148.3h1M364.3 237.5h1M364.7 61.7h1M364.8 239.7h1M365 233.8h1M365.2 446.8h1M365.3 242.6h1M365.3 446.1h1M365.4 236.5h1M365.6 240.4h1M365.7 239.4h1M365.7 239.8h1M365.9 242.2h1M365.9 446.1h1M366.2 239.2h1M366.7 446.3h1M367.3 441.8h1M367.4 234.8h1M380.2 473.3h1M381.4 477.9h1M381.6 478.9h1M381.6 480.6h1M382.2 472.2h1M383.5 481.1h1M384.1 378.4h1M384.3 385.9h1M384.4 381.5h1M384.9 475h1M385.2 379.7h1M385.2 381.1h1M385.3 378.7h1M385.3 476.5h1M385.6 377h1M385.7 470.4h1M385.9 385.8h1M385.9 480h1M386 471.6h1M386.3 478h1M386.7 470.1h1M386.8 474.2h1M386.9 388.2h1M386.9 473.4h1M386.9 473.6h1M387.4 379.7h1M387.9 385.9h1M388.4 383.1h1M388.7 469.5h1M389.4 378.3h1M389.4 381.5h1M389.5 481h1M389.8 380.3h1M389.9 382.5h1M390.2 379.9h1M390.5 480.7h1M390.6 378.3h1M390.7 376.9h1M390.9 470.5h1M391.2 473.1h1M391.3 476.9h1M391.5 379h1M391.5 471.1h1M391.7 477.5h1M392 475.7h1M392.3 470.3h1M392.6 472.1h1M392.7 471.9h1M393 471.7h1M393.1 387.7h1M393.1 471h1M393.2 472.7h1M393.3 386.8h1M393.4 478.3h1M393.6 378.3h1M393.9 479.3h1M394.3 384.4h1M394.4 378.7h1M394.4 388.1h1M394.8 474.7h1M394.9 474.5h1M395.3 384.6h1M395.6 386.3h1M396 377.8h1M396.1 476.9h1M396.2 384.4h1M396.3 388h1M396.3 475.6h1M396.6 387.4h1M396.8 377.6h1M396.9 385.3h1M397 379.3h1M397.6 382.3h1M397.7 378h1M398.1 380.6h1M399.3 380h1M399.6 383.5h1M450.5 267h1M450.7 269.2h1M451.1 475.8h1M451.4 475.9h1M451.5 264.6h1M451.5 474.4h1M451.6 177.2h1M452.3 174.5h1M452.4 386.1h1M452.7 447.7h1M452.9 266.9h1M453.2 380.8h1M453.2 475.2h1M453.3 263.1h1M453.3 266.1h1M453.4 380.1h1M453.4 471.9h1M453.4 478.9h1M453.5 66.7h1M453.5 385.8h1M453.5 478.5h1M453.7 66.4h1M453.7 181h1M453.8 68.9h1M453.8 169.2h1M453.8 268.6h1M453.9 450.7h1M454.2 174.4h1M454.2 176.5h1M454.3 65.3h1M454.3 171.2h1M454.4 177h1M454.5 62.6h1M454.7 62h1M454.7 448.6h1M454.8 261.4h1M454.9 67.7h1M454.9 469.9h1M454.9 472.6h1M455 168.3h1M455.1 172.7h1M455.1 468.4h1M455.2 62.4h1M455.2 270.1h1M455.2 477.9h1M455.3 390.1h1M455.4 60.6h1M455.5 263h1M455.6 182.5h1M455.6 439.7h1M455.6 441.7h1M455.7 392.4h1M455.7 449.9h1M455.7 472.5h1M455.7 478h1M455.8 167.9h1M455.8 168.6h1M455.8 263.7h1M455.9 62.9h1M456 60.5h1M456 65.5h1M456 452h1M456.1 68.1h1M456.1 441.3h1M456.1 471h1M456.3 179.8h1M456.4 442h1M456.5 262.1h1M456.5 381h1M456.5 391.9h1M456.6 182.4h1M456.6 182.8h1M456.6 443h1M456.6 447.5h1M456.6 466.8h1M456.7 379h1M456.8 68.1h1M456.8 264.6h1M456.8 446h1M456.8 478.6h1M456.9 258.6h1M456.9 263.9h1M456.9 382.2h1M456.9 442.8h1M457 71.7h1M457.1 177.1h1M457.2 66.2h1M457.2 393h1M457.2 441h1M457.3 68.1h1M457.3 270.2h1M457.4 442.8h1M457.5 482.8h1M457.6 450h1M457.7 443.2h1M457.7 447.8h1M457.8 171.7h1M457.8 384h1M457.8 466.8h1M457.9 182.8h1M458 71.3h1M458.1 178.2h1M458.2 177.6h1M458.2 265.5h1M458.4 65.4h1M458.4 268.6h1M458.4 377.8h1M458.4 473.3h1M458.4 477.3h1M458.5 61h1M458.6 181.4h1M458.6 452.3h1M458.6 469.7h1M458.7 260.3h1M458.8 170.3h1M458.8 478.2h1M458.9 257.9h1M458.9 266.7h1M458.9 467.9h1M458.9 473.8h1M459 387.2h1M459 480.2h1M459 480.5h1M459.1 265h1M459.2 180.5h1M459.2 442.4h1M459.2 479.1h1M459.4 64.7h1M459.5 268.7h1M459.5 381.8h1M459.5 447.4h1M459.5 479.5h1M459.6 439.8h1M459.7 469.2h1M459.8 270.6h1M459.8 377.2h1M459.9 268.4h1M459.9 465h1M459.9 475.5h1M460 69.3h1M460 179.4h1M460 448.2h1M460.1 175.6h1M460.2 272.6h1M460.2 385.4h1M460.2 392.6h1M460.2 480.8h1M460.2 481.9h1M460.3 63.1h1M460.3 264.4h1M460.3 379.1h1M460.3 472.7h1M460.4 179h1M460.4 271.8h1M460.4 389.6h1M460.6 58.1h1M460.6 58.3h1M460.8 265.3h1M460.8 383.4h1M460.8 478.3h1M460.9 182.5h1M461 66.3h1M461 439.4h1M461.1 176.1h1M461.1 267.2h1M461.1 448.8h1M461.2 180.9h1M461.3 177.5h1M461.4 58.2h1M461.4 64.2h1M461.4 388.8h1M461.5 441.2h1M461.5 476.8h1M461.6 59.6h1M461.6 445h1M461.7 178h1M461.7 381.3h1M461.8 67.5h1M461.8 469.5h1M461.9 446.1h1M462 176.2h1M462 263.3h1M462 386.7h1M462 391.3h1M462 442.6h1M462.1 60.1h1M462.2 262.1h1M462.2 264.6h1M462.2 384h1M462.2 444.1h1M462.3 377.9h1M462.3 378.3h1M462.4 266.4h1M462.4 470.7h1M462.5 470.9h1M462.6 382.1h1M462.6 452.1h1M462.8 172.3h1M462.9 270.2h1M463 380.9h1M463.1 449h1M463.2 71.7h1M463.2 444.7h1M463.4 271.6h1M463.5 169.2h1M463.5 172.2h1M463.5 386h1M463.6 477.7h1M463.8 171.5h1M463.8 389.3h1M463.9 267h1M463.9 451.8h1M464.1 479h1M464.2 268.2h1M464.2 381.9h1M464.3 64.3h1M464.3 266.4h1M464.3 379h1M464.5 387.1h1M464.6 384.7h1M464.6 450.3h1M464.6 474.1h1M464.7 72h1M464.8 388.2h1M464.8 477h1M464.9 386.8h1M464.9 475h1M465 262h1M465.1 61.1h1M465.1 477.7h1M465.3 60.2h1M465.3 170.5h1M465.3 175.7h1M465.3 265.5h1M465.5 59.3h1M465.5 448.6h1M465.6 64.9h1M465.8 175h1M466 262.5h1M466.2 173.2h1M466.3 383.4h1M466.4 173.6h1M466.4 383.6h1M466.6 264.9h1M466.6 446.7h1M466.9 444.9h1M467.6 443.8h1M468 443.3h1M468.4 66.6h1M468.7 66.6h1M477.1 359.1h1M477.5 360.3h1M479.5 357.7h1M481.6 353.7h1M483 357.2h1M483.2 356.8h1M483.8 351.7h1M485.6 352.5h1M487.2 351.6h1M489.3 348.5h1M489.7 350h1M490.3 349.5h1M490.5 351.3h1M491.1 348.1h1M492.4 348.1h1M493.3 346.8h1M493.4 348.6h1" stroke="#fff" stroke-opacity="0.3" stroke-width="1" transform="translate(0,0.5)"/>
<path d="M168.6 442.7h1M168.8 233.2h1M170 444.7h1M170.9 232.8h1M171 233.8h1M172 351.3h1M172.1 234.8h1M172.1 441.4h1M172.4 439.6h1M172.8 141.8h1M172.9 229.2h1M172.9 234h1M173.5 350h1M173.6 439.5h1M173.7 232.6h1M174 439.6h1M174.1 230.1h1M174.3 145.8h1M174.4 351.2h1M174.6 231.1h1M174.7 31.7h1M174.9 28.9h1M174.9 228.1h1M175 348h1M175.1 143.3h1M175.2 31h1M175.3 441h1M175.4 31h1M175.4 141.3h1M175.7 350.7h1M175.7 353.5h1M175.8 140.1h1M175.9 29.7h1M175.9 30.9h1M175.9 233.8h1M176.3 233.2h1M176.5 35.5h1M176.6 438.4h1M176.7 439.9h1M176.8 354.7h1M177.2 143.3h1M177.5 438h1M177.7 355.3h1M177.7 357h1M177.8 29.4h1M178.1 226.5h1M178.1 349.9h1M178.3 33.9h1M178.3 35h1M178.4 437.6h1M178.7 142.3h1M178.8 230.5h1M178.9 30.1h1M178.9 356.8h1M179.1 233.1h1M179.2 442.6h1M179.2 442.9h1M179.3 30.2h1M179.4 437.1h1M179.6 146.3h1M179.6 229.3h1M179.7 227.6h1M179.8 149.1h1M180 440.1h1M180.1 35.5h1M180.1 148.4h1M180.1 226.3h1M180.2 27.1h1M180.2 149.5h1M180.2 234.3h1M180.3 350.1h1M180.3 351.9h1M180.3 356.4h1M180.4 142.4h1M180.4 355.6h1M180.8 34.3h1M180.9 28.2h1M180.9 140.3h1M180.9 357.4h1M181 33.4h1M181 137.6h1M181 141.1h1M181 350.1h1M181.1 227.9h1M181.1 230.1h1M181.1 436.6h1M181.1 442.5h1M181.2 30h1M181.2 33.1h1M181.2 35.5h1M181.2 144.8h1M181.2 228h1M181.3 38.2h1M181.3 230.5h1M181.5 442.9h1M181.6 227.1h1M181.9 138.1h1M181.9 228.1h1M181.9 438.5h1M182.1 233.4h1M182.1 353.8h1M182.3 140h1M182.3 234.4h1M182.3 353.2h1M182.4 357.3h1M182.4 438.9h1M182.5 144.5h1M182.5 442.9h1M183.1 33.9h1M183.2 147.6h1M183.2 348.3h1M183.2 350.1h1M183.3 139h1M183.4 141.9h1M183.4 227.3h1M183.5 28.6h1M184.1 29.2h1M184.2 435.3h1M184.2 437.7h1M184.3 36.8h1M184.5 439.7h1M184.7 437.6h1M184.8 353.6h1M184.9 233.4h1M185 34.9h1M185 146.1h1M185.1 29.1h1M185.1 346.6h1M185.1 350.7h1M185.2 38.7h1M185.5 37.8h1M185.5 439.3h1M185.7 28.1h1M185.9 347.8h1M186 25.9h1M186 233.4h1M186.2 33.4h1M186.2 232.6h1M186.2 353.2h1M186.3 438.9h1M186.4 32.6h1M186.4 139h1M186.4 145.5h1M186.4 349h1M186.4 356.5h1M186.5 351.8h1M186.6 140.4h1M186.8 142.8h1M186.9 34.9h1M187.3 141.2h1M187.3 436.2h1M187.4 141.3h1M187.6 31.7h1M187.8 138.8h1M187.8 140.3h1M187.9 350.2h1M188 143h1M188 353.2h1M188.1 26.7h1M188.6 347.9h1M188.8 437h1M189.1 348.9h1M189.6 355.5h1M189.9 31.4h1M190 145.5h1M190.2 28.9h1M190.4 139.5h1M190.4 348.9h1M190.5 35.6h1M190.7 140.7h1M191.2 350.2h1M191.3 144.6h1M191.5 142.8h1M191.7 31.5h1M192.6 352.8h1M192.7 348.1h1M193.1 34.7h1M193.5 352h1M242.8 241h1M243.7 355.5h1M244 166h1M244.1 443.5h1M244.2 146.8h1M244.2 165h1M244.2 241.7h1M244.3 164.4h1M244.3 447.4h1M244.3 475.5h1M244.5 147.9h1M244.8 165.1h1M244.8 235.3h1M245 353.8h1M245 473.5h1M245 476.6h1M245.2 177.6h1M245.2 450.6h1M245.4 63.1h1M245.4 167.7h1M245.4 176h1M245.5 469.4h1M245.6 64.7h1M245.6 358.5h1M245.6 449.5h1M245.7 151.5h1M245.7 178.7h1M245.7 377.9h1M245.7 447.8h1M245.8 352.4h1M245.8 354.9h1M246.1 449.7h1M246.1 478.3h1M246.2 355.2h1M246.3 357.5h1M246.4 148.6h1M246.4 385h1M246.5 473.3h1M246.6 54.7h1M246.6 384.7h1M246.6 388.1h1M246.7 150.7h1M246.7 172h1M246.7 239.7h1M246.7 378.9h1M246.8 148h1M246.8 150.4h1M246.8 153.2h1M246.8 351.5h1M246.8 357.4h1M246.9 172.7h1M246.9 381.6h1M246.9 479.6h1M247 56.5h1M247 67.3h1M247 445.2h1M247.1 153.9h1M247.2 352.7h1M247.2 379.7h1M247.2 450.8h1M247.3 445.8h1M247.4 60.7h1M247.4 169.6h1M247.5 445.7h1M247.6 37h1M247.6 55.1h1M247.6 162.7h1M247.6 470.4h1M247.7 35.4h1M247.8 355.3h1M247.8 382.6h1M247.8 449.4h1M247.9 64.5h1M247.9 167.6h1M248 66.4h1M248 147.7h1M248 154.1h1M248 154.7h1M248 384.1h1M248.1 164.2h1M248.2 56.5h1M248.2 164.5h1M248.2 173.7h1M248.2 177h1M248.3 148.6h1M248.3 153.9h1M248.5 67.2h1M248.5 359.8h1M248.6 443.4h1M248.7 57.4h1M248.7 172.4h1M248.8 380.5h1M248.8 469.4h1M248.9 352.3h1M248.9 475.7h1M249 64.1h1M249 68.9h1M249 374.7h1M249 386.5h1M249.1 64.3h1M249.1 389h1M249.1 467.9h1M249.2 37.1h1M249.2 61.6h1M249.2 482.5h1M249.3 162.1h1M249.3 383.1h1M249.3 386.8h1M249.3 465.8h1M249.3 468.6h1M249.4 39.3h1M249.4 170.5h1M249.4 441.4h1M249.5 146h1M249.5 173.8h1M249.5 234h1M249.5 441.1h1M249.6 169.6h1M249.6 239.4h1M249.6 476.7h1M249.7 176.1h1M249.8 381.1h1M249.9 66.4h1M249.9 179h1M249.9 179.1h1M249.9 482.3h1M250 356.7h1M250.1 39.5h1M250.1 65.3h1M250.1 166h1M250.1 479.7h1M250.2 42h1M250.2 60h1M250.2 356.1h1M250.2 386.9h1M250.2 474.7h1M250.3 166.6h1M250.3 349.3h1M250.3 382.7h1M250.3 451.3h1M250.4 57.6h1M250.4 442.4h1M250.5 150.1h1M250.5 448.2h1M250.6 59.1h1M250.6 471h1M250.7 33h1M250.7 162.1h1M250.7 235h1M250.7 351.8h1M250.7 444.5h1M250.7 480.1h1M250.8 42.3h1M250.8 54h1M250.8 62.1h1M250.8 244.3h1M250.8 373.2h1M250.8 386.7h1M250.9 148.6h1M250.9 468.3h1M250.9 481.2h1M251 38.3h1M251 59.7h1M251 147.7h1M251 239.6h1M251.1 52.4h1M251.1 155.8h1M251.3 37.5h1M251.3 40h1M251.3 155.4h1M251.3 452.9h1M251.4 443.1h1M251.5 176.2h1M251.5 352.9h1M251.5 383.9h1M251.6 51.6h1M251.6 61.1h1M251.6 67.8h1M251.6 150.9h1M251.6 180.6h1M251.6 446.5h1M251.6 483.3h1M251.7 169.8h1M251.7 170.2h1M251.7 386.8h1M251.8 55.6h1M251.8 358.3h1M251.8 389.5h1M251.9 37h1M251.9 169.5h1M251.9 237h1M251.9 241.6h1M252 58.8h1M252 62.8h1M252 376.2h1M252.1 475.6h1M252.1 476h1M252.2 238.9h1M252.2 378.7h1M252.2 475.6h1M252.3 63.6h1M252.3 239.9h1M252.4 169.2h1M252.4 233.9h1M252.4 244.9h1M252.4 381.3h1M252.4 387.8h1M252.5 242.4h1M252.5 351.2h1M252.5 445.4h1M252.5 466.2h1M252.6 55.4h1M252.6 170h1M252.6 240.4h1M252.7 481.5h1M252.8 477.1h1M252.9 375.7h1M253 450.9h1M253.1 29.9h1M253.1 36.8h1M253.1 446.3h1M253.1 470.3h1M253.2 56.4h1M253.2 63.6h1M253.3 358.6h1M253.3 387.9h1M253.5 172.8h1M253.6 147.1h1M253.6 176.3h1M253.7 445.9h1M253.7 476.3h1M253.7 480.2h1M253.8 153.3h1M253.8 162.8h1M253.8 174.5h1M253.8 441.8h1M253.8 445.5h1M253.8 477.8h1M253.9 146.2h1M253.9 167.1h1M253.9 478.4h1M254 360.6h1M254.1 33.9h1M254.2 32.7h1M254.2 69.7h1M254.2 359.2h1M254.2 373.4h1M254.3 42.3h1M254.3 240.8h1M254.3 478.2h1M254.4 39.1h1M254.4 39.6h1M254.4 376.9h1M254.4 476.9h1M254.5 162.3h1M254.5 234.6h1M254.5 236.5h1M254.5 239.7h1M254.5 476.3h1M254.6 37.6h1M254.6 449.5h1M254.6 471h1M254.7 51.8h1M254.7 55.8h1M254.7 61.7h1M254.8 55.8h1M254.8 355.2h1M254.8 375h1M254.8 378.6h1M254.9 145.7h1M254.9 168h1M254.9 243.1h1M254.9 244.7h1M255 35.9h1M255 360.9h1M255 442.1h1M255 482.1h1M255.1 53.1h1M255.1 59.7h1M255.1 64h1M255.1 379.6h1M255.2 175.8h1M255.2 238.9h1M255.2 352.8h1M255.3 36.9h1M255.4 62.5h1M255.4 166h1M255.5 34h1M255.5 244.4h1M255.5 352.1h1M255.5 379.6h1M255.6 171.9h1M255.6 381.2h1M255.7 34h1M255.7 350.7h1M255.7 483.4h1M255.8 69h1M255.8 471.9h1M255.9 354.4h1M255.9 381.9h1M255.9 382h1M256 482.8h1M256.1 480.8h1M256.3 375.7h1M256.5 176.1h1M256.5 473.5h1M256.6 41.4h1M256.6 443.8h1M256.7 36.1h1M256.7 59.4h1M256.7 174.1h1M256.8 444.6h1M256.9 173.8h1M257 34.5h1M257.1 238.5h1M257.1 351.3h1M257.1 471.2h1M257.1 475.4h1M257.2 382h1M257.2 385.2h1M257.4 61.5h1M257.4 62.9h1M257.4 65.4h1M257.4 150.3h1M257.5 66.1h1M257.5 175.5h1M257.5 239.1h1M257.5 469.4h1M257.6 37h1M257.6 444.4h1M257.9 36.4h1M257.9 171h1M257.9 238.2h1M257.9 450.6h1M258.1 350.5h1M258.2 59.4h1M258.2 236h1M258.2 241.7h1M258.3 236h1M258.4 33.5h1M258.4 350.4h1M258.5 170h1M258.5 235.5h1M258.5 351h1M258.7 39.2h1M258.7 353.6h1M258.8 53.2h1M258.9 64.4h1M259 63.8h1M259.1 40.3h1M259.1 468.9h1M259.2 31.8h1M259.5 356h1M259.5 446h1M259.6 235.9h1M259.7 468.3h1M259.7 478.1h1M260.1 477.9h1M260.2 238.4h1M260.6 238.2h1M260.6 445.7h1M260.6 447.3h1M260.7 34.3h1M261.1 474.6h1M261.2 57.9h1M261.2 355.9h1M261.4 472.2h1M261.9 63.7h1M268.2 382.8h1M268.4 377.7h1M268.4 383.7h1M268.4 384.5h1M269.4 376h1M269.5 384.5h1M269.8 387.7h1M270.4 379.4h1M270.4 384.1h1M271.5 380.9h1M271.6 383.3h1M271.6 384.3h1M272.1 376.6h1M272.7 376.6h1M272.7 385.9h1M272.9 384.2h1M272.9 389h1M273 383.3h1M273.4 374.6h1M273.6 378.2h1M273.7 385.2h1M274 382.3h1M274.3 373.1h1M274.6 382.1h1M274.9 384.7h1M275 384.7h1M275.1 379.7h1M275.2 377.7h1M275.2 388.6h1M275.9 377h1M276 376h1M277.4 373.8h1M277.9 373.5h1M277.9 375.5h1M278.2 378.9h1M278.3 375.8h1M278.5 381.3h1M278.5 385.7h1M279.8 376.3h1M280.2 386h1M280.5 387.1h1M280.6 377.9h1M280.9 375.4h1M281.6 383.3h1M282.6 380.5h1M282.7 383.2h1M346 357.7h1M346.1 357.2h1M346.3 147.8h1M346.6 145.4h1M347.1 359.7h1M347.2 360.7h1M347.6 143.6h1M347.6 379.8h1M348 149.4h1M348 448.6h1M348.2 152.2h1M348.8 59.3h1M348.8 154.7h1M348.9 60.1h1M349 150.7h1M349 174.7h1M349 350.5h1M349.1 62.6h1M349.1 174.4h1M349.3 239.6h1M349.4 38.7h1M349.4 150.1h1M349.5 239.7h1M349.6 385.2h1M349.7 362.3h1M349.7 449h1M349.8 173.9h1M350.1 35.5h1M350.1 452.2h1M350.2 149.6h1M350.2 173.9h1M350.3 40.3h1M350.3 145.2h1M350.3 237.9h1M350.4 142.6h1M350.4 452.4h1M350.5 61.6h1M350.5 152.5h1M350.5 170.1h1M350.5 384.1h1M350.6 65.8h1M350.6 168.6h1M350.6 172.3h1M350.6 447.1h1M350.7 356.1h1M350.8 169.9h1M350.8 378.4h1M350.9 150.9h1M350.9 353.4h1M351 146.5h1M351 358.4h1M351.3 31.6h1M351.4 382.3h1M351.5 40.2h1M351.5 43.2h1M351.6 141.8h1M351.6 239.2h1M351.6 446.3h1M351.8 65.3h1M351.8 146.3h1M351.8 385.7h1M351.8 451.1h1M351.9 34.3h1M351.9 56.5h1M352 149.7h1M352 242.7h1M352.1 170.4h1M352.2 151.7h1M352.3 36.3h1M352.3 64h1M352.3 236.6h1M352.3 452.1h1M352.4 62.8h1M352.4 65h1M352.4 353h1M352.4 449.6h1M352.5 349.1h1M352.5 360.9h1M352.6 36.4h1M352.7 32.9h1M352.7 448.3h1M352.8 362.4h1M353.1 36.5h1M353.2 42.5h1M353.2 356.4h1M353.2 445h1M353.3 43.6h1M353.3 61.6h1M353.3 387.8h1M353.4 384.2h1M353.5 31.2h1M353.6 55.7h1M353.6 58h1M353.6 155.3h1M353.8 169.6h1M353.8 170.9h1M353.8 355.5h1M353.8 356.3h1M353.8 357.8h1M353.8 380.5h1M354 66.3h1M354 352.9h1M354.1 61.7h1M354.1 350.9h1M354.1 386h1M354.1 387.2h1M354.2 154.7h1M354.4 168.2h1M354.4 362.1h1M354.5 362.8h1M354.6 68.8h1M354.6 355.4h1M354.6 379.7h1M354.7 65h1M354.7 446.6h1M354.8 141.6h1M355 378.6h1M355.1 148.6h1M355.2 235.4h1M355.3 30.3h1M355.3 143.6h1M355.3 144.9h1M355.4 35.6h1M355.4 362.9h1M355.5 39.5h1M355.5 360.1h1M355.6 42.8h1M355.6 235.1h1M355.7 171.4h1M355.7 355.2h1M355.8 43.3h1M355.9 153.4h1M355.9 154h1M355.9 354.3h1M356 42.5h1M356.1 56.3h1M356.1 63.5h1M356.1 148.5h1M356.1 453.1h1M356.2 56h1M356.2 68.4h1M356.2 170.6h1M356.3 59.3h1M356.3 59.6h1M356.3 236.3h1M356.4 172.2h1M356.5 243.6h1M356.6 35.2h1M356.6 57.6h1M356.7 45.4h1M356.7 173.1h1M356.7 450.2h1M356.8 153.9h1M356.8 385.8h1M357 150.5h1M357 151.6h1M357 174.5h1M357 357.3h1M357 357.9h1M357.2 150.9h1M357.2 351.6h1M357.3 30.2h1M357.3 175.5h1M357.3 244.4h1M357.3 360.2h1M357.3 446.2h1M357.4 149h1M357.5 353.1h1M357.6 60.1h1M357.7 233.6h1M357.8 379.8h1M357.8 454.5h1M357.9 40.8h1M357.9 145.6h1M357.9 359h1M358 44.2h1M358 356.3h1M358 362h1M358 443h1M358.1 35h1M358.1 152.2h1M358.1 453.5h1M358.2 237.5h1M358.2 379h1M358.3 59.1h1M358.3 378.4h1M358.4 149.7h1M358.5 143h1M358.5 233.9h1M358.5 453.5h1M358.6 58.4h1M358.7 155.1h1M358.7 361.8h1M358.7 386.9h1M358.8 146.4h1M358.8 361h1M358.9 40.5h1M358.9 242.6h1M358.9 349.5h1M359 42.2h1M359 383.4h1M359 447.5h1M359 454h1M359.1 351.7h1M359.1 381.2h1M359.2 147.5h1M359.3 45.3h1M359.4 145.4h1M359.4 172.5h1M359.4 234.9h1M359.4 244.1h1M359.4 360.3h1M359.4 380.2h1M359.4 382.2h1M359.5 171h1M359.6 35.7h1M359.6 37.7h1M359.6 39.7h1M359.6 68.3h1M359.6 236.3h1M359.6 353.9h1M359.6 357.5h1M359.6 360.1h1M359.6 361.4h1M359.7 31.6h1M359.7 57.2h1M359.7 244.8h1M359.7 362.3h1M359.7 446.5h1M359.8 351.2h1M359.8 448.3h1M359.9 61.8h1M359.9 67.3h1M359.9 149.8h1M360 43.4h1M360 147.9h1M360.1 384.4h1M360.1 449.6h1M360.2 44.1h1M360.2 65.9h1M360.4 61.3h1M360.4 243.7h1M360.5 39.6h1M360.5 142.7h1M360.6 30.9h1M360.6 35.7h1M360.6 444h1M360.7 145.5h1M360.7 385.2h1M360.7 450.7h1M361 451.6h1M361.1 43.4h1M361.3 148.3h1M361.5 64.6h1M361.5 447.2h1M361.6 382.7h1M361.7 57.1h1M361.9 65.5h1M362 34.6h1M362 65.4h1M362 151.4h1M362.1 243.9h1M362.3 236.2h1M362.4 242.5h1M362.5 147.4h1M362.6 446.1h1M362.7 67h1M362.7 441.8h1M362.8 153.1h1M362.8 443.4h1M362.9 38.7h1M362.9 64.5h1M362.9 451h1M363.1 41h1M363.2 441.4h1M363.3 239.6h1M363.4 150.9h1M363.4 354h1M363.6 237.8h1M363.7 41.4h1M363.9 58.6h1M364 34.3h1M364.1 235.7h1M364.3 150.3h1M364.5 59.2h1M364.8 65.9h1M364.8 447.7h1M364.9 37.3h1M364.9 236.1h1M365.3 447h1M365.4 238.9h1M365.4 446h1M365.8 448h1M366.1 233.3h1M366.3 445h1M366.4 239.1h1M366.6 446.7h1M366.7 237h1M367 232.1h1M367.8 232.8h1M367.9 237.1h1M367.9 237.3h1M368.2 232.9h1M380 476.6h1M381.6 473.4h1M382.9 380h1M383.4 477.8h1M383.9 381h1M383.9 478.2h1M384.1 383.4h1M384.2 478.5h1M384.3 386.6h1M384.4 480.4h1M384.5 470.6h1M384.6 473.6h1M384.6 476.9h1M385.3 471.7h1M385.4 472.9h1M385.4 481.4h1M385.6 474.2h1M385.9 382.9h1M385.9 472.3h1M386.3 381h1M386.7 388.5h1M386.8 472h1M387 388.6h1M387 472.6h1M387.2 482.4h1M387.7 379.5h1M387.7 471.3h1M387.8 478.3h1M388.1 380.8h1M388.2 472.6h1M388.2 476.6h1M388.7 481.8h1M388.8 475.2h1M388.9 375.5h1M389 480.3h1M389.3 387.1h1M389.4 471.5h1M389.7 477.5h1M389.8 476.1h1M389.9 385.4h1M390 375.8h1M390.1 377.9h1M390.1 381.8h1M390.4 386.4h1M390.6 375.7h1M390.8 376.5h1M390.8 471.5h1M390.9 380.9h1M391.5 386.2h1M391.6 377.3h1M391.6 481.5h1M391.8 378.7h1M391.8 384.7h1M391.8 473.5h1M391.8 479.6h1M391.9 386.5h1M392.2 377.5h1M392.3 376.5h1M392.4 471.9h1M392.6 377h1M392.6 477.8h1M393 380.8h1M393.2 386.5h1M393.7 379.5h1M393.9 475.1h1M394.1 474.7h1M394.3 475.5h1M394.7 474.5h1M395.3 388.7h1M395.6 387.2h1M396 379.7h1M396.1 474.1h1M396.3 384.6h1M396.9 386.5h1M398.1 379.3h1M398.2 382.8h1M398.6 383.2h1M398.9 382.3h1M450.7 446.6h1M450.9 446.3h1M451.2 267.4h1M451.5 177.5h1M451.5 471h1M451.8 266.7h1M451.9 179h1M451.9 265.8h1M452.3 468.9h1M452.6 174.4h1M452.6 264h1M452.6 469.4h1M452.7 384.9h1M452.7 449.7h1M452.7 469.3h1M452.9 175.8h1M452.9 267.1h1M453 173.6h1M453 386.8h1M453.2 174.9h1M453.3 177.5h1M453.3 449.2h1M453.5 63.6h1M453.5 270.6h1M453.5 475.5h1M453.6 170.8h1M453.6 170.9h1M453.7 440.8h1M453.7 474.7h1M453.7 476.1h1M453.8 445.8h1M453.8 480h1M453.8 480.2h1M454 180.1h1M454 470.5h1M454.1 477.5h1M454.2 441.6h1M454.4 170.8h1M454.5 390.7h1M454.5 391.8h1M454.6 270.6h1M454.6 472h1M454.9 385.7h1M455 270h1M455 391h1M455.1 385.6h1M455.2 68.9h1M455.2 174.7h1M455.2 175.5h1M455.2 265.4h1M455.3 473.8h1M455.4 450.7h1M455.6 169.5h1M455.6 265.6h1M455.7 378.2h1M455.7 385.9h1M455.7 440.9h1M455.8 441.6h1M455.9 265h1M455.9 476.2h1M456.1 172.1h1M456.2 68.2h1M456.2 170.5h1M456.2 268.4h1M456.3 178h1M456.4 63.7h1M456.5 167.5h1M456.5 168.9h1M456.5 479.1h1M456.5 482.9h1M456.6 445.5h1M456.7 171.6h1M456.7 175.5h1M456.8 179.8h1M456.8 388.5h1M456.9 66.1h1M456.9 176.8h1M457 265.6h1M457 385h1M457.1 178.1h1M457.1 262.4h1M457.1 269.4h1M457.1 450.1h1M457.2 468.4h1M457.3 271.8h1M457.3 384.9h1M457.3 386.3h1M457.3 388.6h1M457.3 451.1h1M457.4 270h1M457.5 257.9h1M457.5 478.8h1M457.6 70.3h1M457.6 441.8h1M457.6 480.4h1M457.7 381.4h1M457.8 265.8h1M457.8 446.9h1M457.9 169.2h1M457.9 380.8h1M457.9 482.2h1M458 63.9h1M458 69.1h1M458 257.9h1M458 262.4h1M458.1 176.8h1M458.2 273.1h1M458.2 381.8h1M458.3 175.6h1M458.3 269.2h1M458.3 378.1h1M458.3 444.4h1M458.3 452.3h1M458.3 470h1M458.4 379h1M458.4 482.2h1M458.6 180.1h1M458.7 443.7h1M458.7 450h1M458.7 482.1h1M458.8 181.4h1M458.8 269.5h1M458.9 72.7h1M459 389h1M459.1 266.3h1M459.2 72.4h1M459.2 260.3h1M459.3 66.6h1M459.4 465.3h1M459.4 477.8h1M459.5 176.4h1M459.6 447.2h1M459.6 473.2h1M459.7 467h1M459.7 468.6h1M459.8 63h1M459.8 69.5h1M459.8 73.3h1M459.8 392.2h1M459.9 60.2h1M459.9 443h1M459.9 464.9h1M459.9 473.4h1M459.9 474.5h1M460 382.9h1M460 446.7h1M460.1 167.4h1M460.1 170.4h1M460.1 171.1h1M460.2 442.5h1M460.4 390.8h1M460.5 64.1h1M460.5 66.2h1M460.5 442.8h1M460.5 474.1h1M460.6 72h1M460.6 171.8h1M460.7 467.9h1M460.8 64.2h1M460.8 70h1M460.8 73.1h1M460.8 388.7h1M460.8 465.7h1M460.9 476.5h1M461 270.1h1M461.1 69.6h1M461.1 268.9h1M461.2 67.9h1M461.2 448.1h1M461.3 441.1h1M461.3 478.4h1M461.3 481.6h1M461.4 62.5h1M461.4 65.5h1M461.4 268.6h1M461.5 268.3h1M461.5 271.7h1M461.5 480.5h1M461.6 58.9h1M461.6 170.2h1M461.6 379.1h1M461.7 181.6h1M461.8 72.1h1M461.8 475.7h1M461.9 263.1h1M461.9 384.2h1M461.9 385h1M461.9 445.1h1M462 470h1M462.2 171.9h1M462.2 264h1M462.2 390.2h1M462.2 451.3h1M462.3 172.1h1M462.3 265.5h1M462.6 449.9h1M462.8 270.6h1M462.9 441.8h1M463 265.7h1M463 472.4h1M463.1 260.7h1M463.1 268h1M463.1 440.2h1M463.2 440.9h1M463.3 58.8h1M463.3 65.4h1M463.3 170.8h1M463.3 262.5h1M463.3 471.6h1M463.4 60.9h1M463.4 66.4h1M463.4 70.4h1M463.5 387.8h1M463.5 447.3h1M463.7 63h1M463.7 72.4h1M463.7 262.4h1M463.7 390.8h1M463.8 59.6h1M463.9 469.8h1M464 472.7h1M464.1 63.5h1M464.1 388.3h1M464.2 173.8h1M464.2 264.6h1M464.4 384.9h1M464.6 65.5h1M464.6 262.3h1M464.7 383.4h1M464.8 169.8h1M464.9 444.1h1M465 474.8h1M465.1 446.3h1M465.2 386.9h1M465.3 382h1M465.4 381.8h1M465.7 172h1M465.7 262.2h1M465.7 386.7h1M465.7 449.7h1M465.7 472h1M465.8 171.9h1M465.8 447.3h1M466.3 383.9h1M466.5 382.8h1M466.6 386.4h1M466.9 450.1h1M467.4 446.3h1M467.6 69.9h1M468.3 65.1h1M468.3 444.8h1M468.4 444.6h1M468.7 67.3h1M468.8 67.7h1M473.9 360.6h1M474.7 360.5h1M475.3 361.4h1M478.2 359.6h1M478.5 356h1M478.6 356.1h1M478.8 357.5h1M479.7 358.2h1M479.9 358.1h1M482.6 354.1h1M484.4 352.9h1M485.1 354.8h1M487.3 354.3h1M487.4 349.2h1M487.4 350.5h1M487.9 350.2h1M488.4 350.9h1M489.4 350.8h1" stroke="#b00" stroke-opacity="0.35" stroke-width="1" transform="translate(0,0.5)"/>
<path d="M161 44h1M163 45h1M164 41h1M164 46h1M165 47h1M165 48h1M166 47h1M166 49h1M168 43h1M168 45h1M168 47h1M170 46h1" stroke="#aab" stroke-opacity="0.5" stroke-width="1" transform="translate(0,0.5)"/>
<path d="M158.3 158.6h1M159 160.5h1M159.2 160.4h1M159.7 159.4h1M159.8 160.5h1M160.1 158.8h1M160.1 160.1h1M160.2 158.4h1M160.2 159.8h1M160.7 161.8h1M161 158.5h1M161 159.7h1M161.1 156.1h1M161.1 159.3h1M161.2 159.2h1M161.2 159.7h1M161.5 159.3h1M161.5 161.6h1M161.8 159.8h1M161.9 158.9h1M162.1 157h1M162.3 160.6h1M162.5 157.8h1M162.8 157.8h1M162.9 160.1h1" stroke="#1a1aa8" stroke-opacity="0.5" stroke-width="1" transform="translate(0,0.5)"/>
<path d="M165 233h1M166 230h1M166 231h1M166 235h1M166 439h1M166 440h1M166 441h1M166 443h1M166 445h1M167 231h1M167 232h1M167 234h1M167 235h1M167 442h1M167 446h1M168 229h1M168 230h1M168 231h1M168 232h1M168 233h1M168 234h1M168 235h1M168 439h1M168 442h1M168 443h1M168 446h1M169 228h1M169 229h1M169 230h1M169 231h1M169 232h1M169 234h1M169 235h1M169 438h1M169 439h1M169 441h1M169 442h1M169 443h1M169 446h1M170 229h1M170 232h1M170 437h1M170 442h1M170 443h1M170 444h1M170 445h1M170 446h1M171 229h1M171 230h1M171 232h1M171 233h1M171 234h1M171 235h1M171 236h1M171 437h1M171 438h1M171 442h1M171 443h1M171 445h1M171 446h1M172 229h1M172 230h1M172 236h1M172 439h1M172 441h1M172 443h1M172 444h1M172 446h1M173 226h1M173 227h1M173 229h1M173 234h1M173 437h1M173 438h1M173 439h1M173 440h1M173 441h1M173 442h1M174 229h1M174 230h1M174 231h1M174 232h1M174 438h1M174 442h1M174 443h1M174 445h1M174 446h1M175 227h1M175 230h1M175 231h1M175 234h1M175 235h1M175 236h1M175 237h1M175 440h1M175 443h1M176 231h1M176 232h1M176 233h1M176 234h1M176 437h1M176 439h1M176 441h1M176 442h1M176 444h1M176 446h1M177 226h1M177 228h1M177 229h1M177 231h1M177 232h1M177 234h1M177 437h1M177 438h1M177 439h1M177 440h1M177 441h1M177 442h1M177 443h1M177 445h1M178 226h1M178 231h1M178 234h1M178 235h1M178 237h1M178 440h1M178 443h1M178 446h1M179 226h1M179 227h1M179 233h1M179 234h1M179 235h1M179 437h1M179 438h1M179 441h1M179 442h1M179 445h1M180 227h1M180 229h1M180 230h1M180 234h1M180 436h1M180 438h1M180 439h1M180 440h1M180 441h1M180 442h1M181 226h1M181 228h1M181 229h1M181 230h1M181 233h1M181 235h1M181 435h1M181 438h1M181 439h1M181 441h1M181 442h1M181 445h1M181 446h1M182 227h1M182 230h1M182 232h1M182 234h1M182 235h1M182 236h1M182 437h1M182 438h1M182 439h1M182 440h1M182 441h1M182 444h1M182 446h1M183 227h1M183 228h1M183 229h1M183 232h1M183 234h1M183 436h1M183 437h1M183 439h1M183 443h1M183 444h1M183 445h1M184 226h1M184 228h1M184 230h1M184 232h1M184 234h1M184 236h1M184 437h1M184 439h1M184 445h1M185 229h1M185 230h1M185 232h1M185 236h1M185 435h1M185 437h1M185 439h1M185 441h1M185 443h1M185 445h1M186 231h1M186 233h1M186 235h1M186 434h1M186 435h1M186 436h1M186 439h1M186 445h1M187 228h1M187 229h1M187 230h1M187 435h1M187 436h1M187 437h1M187 439h1M187 441h1M188 228h1M188 229h1M188 232h1M188 233h1M188 234h1M188 439h1M188 442h1M189 231h1M189 232h1M189 233h1M189 436h1M189 441h1M189 442h1M190 229h1M190 230h1M190 233h1M191 230h1M191 232h1" stroke="#f00" stroke-opacity="0.33" stroke-width="1" transform="translate(0,0.5)"/>
<path d="M151 460h1M154 457h1M154 458h1M156 245h1M156 246h1M156 458h1M157 242h1M157 247h1M157 454h1M158 244h1M158 246h1M158 248h1M158 249h1M158 457h1M158 461h1M159 245h1M159 248h1M159 251h1M159 455h1M159 462h1M160 241h1M160 242h1M160 246h1M160 247h1M160 453h1M160 454h1M160 456h1M161 241h1M161 244h1M161 455h1M162 250h1M163 246h1M163 248h1M163 250h1M164 242h1M164 243h1M164 250h1M165 245h1" stroke="#99b" stroke-opacity="0.5" stroke-width="1" transform="translate(0,0.5)"/>
<path d="M158 366h1M159 370h1M160 367h1M160 369h1M160 370h1M161 363h1M161 368h1M161 370h1M162 370h1M163 364h1M163 365h1M163 366h1M163 368h1M163 372h1M164 365h1M164 369h1M164 370h1M165 365h1M165 369h1M168 368h1" stroke="#88c" stroke-opacity="0.55" stroke-width="1" transform="translate(0,0.5)"/>
<path d="M238.8 238.9h1M239.3 236.9h1M240.6 236.6h1M240.6 238.4h1M240.8 448h1M240.9 358.1h1M241 238.1h1M241.3 445.2h1M241.3 475.7h1M241.4 356.4h1M241.5 447.5h1M241.5 448.2h1M241.7 472.7h1M241.8 359.4h1M241.8 471.6h1M241.9 242.3h1M242 241.3h1M242.1 236.4h1M242.1 239.8h1M242.1 358.4h1M242.1 359.4h1M242.2 65.8h1M242.2 351.5h1M242.2 469.2h1M242.3 59.2h1M242.3 358.9h1M242.4 235.4h1M242.4 239.4h1M242.6 57.1h1M242.6 442.6h1M242.7 447.2h1M242.8 63.9h1M242.8 441.9h1M242.8 445.2h1M242.8 449.1h1M242.9 61.2h1M242.9 450.3h1M243 239.3h1M243 445.2h1M243 447.5h1M243.1 351.7h1M243.1 443.7h1M243.1 447.8h1M243.2 240.4h1M243.2 446.3h1M243.3 479.2h1M243.3 481.4h1M243.4 57.7h1M243.4 240.6h1M243.4 357.1h1M243.5 239.5h1M243.5 240.1h1M243.6 68.6h1M243.6 234.2h1M243.6 441.1h1M243.7 67.3h1M243.7 236.5h1M243.7 441.7h1M243.7 447.9h1M243.7 448.5h1M243.8 242.3h1M243.8 357.1h1M243.8 448.7h1M243.9 67.6h1M243.9 447.8h1M243.9 476.1h1M244 59.1h1M244.1 38.8h1M244.1 58.5h1M244.1 58.7h1M244.1 380.4h1M244.1 445.3h1M244.1 449.3h1M244.2 447.3h1M244.3 33.8h1M244.3 55.1h1M244.3 353.9h1M244.3 380.5h1M244.4 60.8h1M244.4 353.2h1M244.4 448.3h1M244.4 479.5h1M244.5 56.7h1M244.5 233.1h1M244.5 356.9h1M244.5 470.8h1M244.6 37.1h1M244.6 55.7h1M244.6 65.4h1M244.6 239.9h1M244.6 352h1M244.6 354.9h1M244.6 356.6h1M244.7 56.1h1M244.7 237.8h1M244.7 238.3h1M244.7 351h1M244.7 450.8h1M244.7 451.1h1M244.8 33.8h1M244.8 35h1M244.8 62.1h1M244.8 235h1M244.8 358.6h1M244.8 377.2h1M244.8 390.1h1M244.8 481.5h1M244.9 58.4h1M244.9 60.6h1M244.9 238.2h1M244.9 240h1M244.9 439.9h1M244.9 448h1M244.9 474.7h1M245 32h1M245 360.1h1M245 446.2h1M245 453.8h1M245 472.7h1M245.1 64.4h1M245.1 449.8h1M245.2 353.9h1M245.2 357.2h1M245.3 37.6h1M245.3 241h1M245.3 374.8h1M245.3 378.7h1M245.3 469.4h1M245.4 57.6h1M245.4 66.1h1M245.4 70.7h1M245.4 352.5h1M245.4 353.1h1M245.4 353.9h1M245.4 374.8h1M245.4 381.6h1M245.4 442.3h1M245.4 483.4h1M245.5 355.4h1M245.5 452.7h1M245.6 59.1h1M245.6 60.2h1M245.6 237.4h1M245.6 241h1M245.6 355.8h1M245.6 357.7h1M245.6 361.4h1M245.7 358.8h1M245.7 381.8h1M245.7 450.1h1M245.8 56.8h1M245.8 233.3h1M245.8 351.5h1M245.8 354.7h1M245.8 354.9h1M245.9 37.3h1M245.9 58.8h1M245.9 64.4h1M245.9 444.8h1M245.9 450.9h1M246 354.4h1M246 381.1h1M246 452.2h1M246 464.7h1M246 464.9h1M246 475.6h1M246.1 37.7h1M246.1 55.7h1M246.1 242h1M246.1 352.3h1M246.2 55.3h1M246.2 68.5h1M246.2 442.7h1M246.2 450.1h1M246.2 474.6h1M246.2 475.4h1M246.3 236.6h1M246.3 353.1h1M246.3 471.6h1M246.4 243.9h1M246.4 381.7h1M246.4 465.2h1M246.4 469.8h1M246.5 55.3h1M246.5 234.1h1M246.5 242h1M246.5 358h1M246.5 373.6h1M246.5 441.4h1M246.5 450.4h1M246.6 66.9h1M246.6 375.5h1M246.6 467.6h1M246.6 472h1M246.7 42.2h1M246.7 59.7h1M246.7 243.1h1M246.7 358.2h1M246.7 375.6h1M246.7 442h1M246.7 478.8h1M246.8 40.2h1M246.8 53h1M246.8 62.4h1M246.8 360.4h1M246.8 360.9h1M246.8 371h1M246.8 375.4h1M246.8 472.8h1M246.9 33.9h1M246.9 34.2h1M246.9 58.1h1M246.9 65.9h1M246.9 379.4h1M246.9 380.6h1M246.9 466.8h1M246.9 473h1M247 32.8h1M247 35.4h1M247 441.8h1M247 464.1h1M247.1 62.7h1M247.1 64.9h1M247.1 382.7h1M247.1 470.5h1M247.1 479.1h1M247.2 36.1h1M247.2 389.9h1M247.2 478.1h1M247.3 477.7h1M247.4 36.4h1M247.4 380h1M247.4 383.6h1M247.4 385.2h1M247.4 452.3h1M247.5 36.2h1M247.5 53.3h1M247.5 244.2h1M247.5 352.1h1M247.5 386.4h1M247.5 441.7h1M247.5 451.7h1M247.5 477.8h1M247.6 36.4h1M247.6 245.3h1M247.6 245.5h1M247.6 379.9h1M247.6 388h1M247.7 37h1M247.7 244.1h1M247.7 371.5h1M247.7 386h1M247.7 466.9h1M247.7 470.4h1M247.7 482.3h1M247.8 36h1M247.8 37.8h1M247.8 40.5h1M247.8 56.4h1M247.8 442.9h1M247.9 37.9h1M247.9 65.6h1M247.9 68.4h1M247.9 70.1h1M247.9 243.3h1M247.9 377h1M247.9 467.6h1M247.9 478.6h1M248 36.8h1M248 52.9h1M248 234.7h1M248 242.7h1M248 379.1h1M248 387.6h1M248.1 37.6h1M248.1 51.6h1M248.1 361.1h1M248.1 377.6h1M248.1 378.7h1M248.1 379.6h1M248.1 463.5h1M248.1 466.5h1M248.1 478.7h1M248.2 358.9h1M248.2 390.6h1M248.2 480.2h1M248.3 65.6h1M248.3 350.2h1M248.3 379h1M248.3 380.5h1M248.3 385.4h1M248.3 442.5h1M248.4 38.4h1M248.4 66.7h1M248.4 351.6h1M248.4 360.8h1M248.4 379.4h1M248.5 40.1h1M248.5 52.3h1M248.5 56.1h1M248.5 389.4h1M248.5 464.7h1M248.6 232.8h1M248.6 375.1h1M248.6 379h1M248.6 393.5h1M248.6 469.4h1M248.6 479.4h1M248.7 31.8h1M248.7 68.9h1M248.7 360.6h1M248.7 378.7h1M248.7 382.2h1M248.7 455.1h1M248.8 376.2h1M248.8 382.9h1M248.8 389.6h1M248.8 451.6h1M248.8 455.4h1M248.8 467.1h1M248.9 41.9h1M248.9 55.8h1M248.9 234.3h1M248.9 235.3h1M248.9 347.7h1M248.9 387h1M248.9 468.8h1M249 451h1M249 466.4h1M249.1 69.5h1M249.1 360h1M249.1 386.7h1M249.1 451.4h1M249.1 481.7h1M249.2 53.7h1M249.2 235h1M249.2 351.2h1M249.2 384.5h1M249.2 468.5h1M249.3 49.1h1M249.3 234.3h1M249.3 442.5h1M249.3 465.7h1M249.3 480.5h1M249.4 41.3h1M249.4 41.6h1M249.4 44h1M249.4 54.9h1M249.4 67.5h1M249.4 234h1M249.4 360.7h1M249.4 378.1h1M249.5 32.8h1M249.5 243.3h1M249.5 378.4h1M249.5 482.8h1M249.6 29.9h1M249.6 379h1M249.6 381.3h1M249.6 383.5h1M249.7 350h1M249.7 377.5h1M249.7 377.9h1M249.7 384.6h1M249.7 483h1M249.8 39.8h1M249.8 67.6h1M249.8 371.2h1M249.8 382.1h1M249.8 383.6h1M249.8 388.7h1M249.8 464.7h1M249.8 482.5h1M249.9 68.2h1M249.9 347.8h1M249.9 375.1h1M250 54.7h1M250 243.6h1M250 243.8h1M250 379.7h1M250 380.3h1M250 465.5h1M250 468.1h1M250.1 31.4h1M250.1 32.6h1M250.1 382.3h1M250.1 383.3h1M250.1 387h1M250.1 452.4h1M250.2 32.3h1M250.2 32.4h1M250.2 481.4h1M250.3 371.8h1M250.3 388.6h1M250.3 441.6h1M250.3 466.9h1M250.3 485.2h1M250.4 383.4h1M250.4 384.1h1M250.4 385.2h1M250.4 465.7h1M250.5 383.6h1M250.5 442h1M250.5 485h1M250.6 30.1h1M250.6 53.3h1M250.6 363h1M250.6 440.1h1M250.6 452.7h1M250.7 28h1M250.7 52.9h1M250.7 378.9h1M250.7 379.5h1M250.7 380.1h1M250.7 386.7h1M250.7 387.5h1M250.7 442h1M250.7 467.7h1M250.7 485.8h1M250.8 30.4h1M250.8 243.9h1M250.8 466.8h1M250.9 53.7h1M250.9 73.1h1M250.9 244h1M250.9 376.8h1M250.9 468h1M251 28.9h1M251 42.6h1M251 381.4h1M251 384.7h1M251.1 31h1M251.1 42.7h1M251.1 234.6h1M251.1 378.5h1M251.1 391.8h1M251.1 463.3h1M251.1 480.8h1M251.2 69.6h1M251.2 376.8h1M251.2 392.8h1M251.2 451.5h1M251.3 68.3h1M251.3 362.1h1M251.3 375.8h1M251.3 379.2h1M251.3 464.5h1M251.3 465.1h1M251.3 482.2h1M251.4 234.2h1M251.4 384.2h1M251.4 388.3h1M251.4 388.5h1M251.5 381.6h1M251.5 386.8h1M251.5 466.4h1M251.6 29h1M251.6 40.6h1M251.6 69h1M251.6 71h1M251.6 72.4h1M251.6 244.6h1M251.6 374h1M251.7 30.1h1M251.7 41.3h1M251.7 378.7h1M251.7 381.2h1M251.7 463.8h1M251.8 31.6h1M251.8 51.8h1M251.8 234.7h1M251.8 384.6h1M251.8 388.5h1M251.8 453h1M251.8 484.6h1M251.8 485.4h1M251.9 53.8h1M251.9 377.9h1M251.9 380.4h1M251.9 382.7h1M252 378.7h1M252 384.3h1M252 384.9h1M252 386.5h1M252 441.1h1M252 467.5h1M252.1 31.3h1M252.1 234h1M252.1 377.9h1M252.2 41.3h1M252.2 68.1h1M252.2 233.7h1M252.2 380.1h1M252.2 383.1h1M252.2 466.3h1M252.2 467.6h1M252.2 485.7h1M252.3 31.5h1M252.3 68.5h1M252.4 71.2h1M252.4 384h1M252.5 71.7h1M252.5 375.4h1M252.5 379.5h1M252.5 382.2h1M252.5 391.9h1M252.6 41h1M252.6 362.2h1M252.6 376.9h1M252.6 378h1M252.6 381.9h1M252.6 385h1M252.7 233.9h1M252.7 382.2h1M252.7 390.2h1M252.7 482.3h1M252.8 31.1h1M252.8 68h1M252.8 68.9h1M252.8 234.7h1M252.8 347.8h1M252.8 384.2h1M252.8 467.2h1M253 31.4h1M253 377.9h1M253 481.8h1M253.1 40.9h1M253.1 53.7h1M253.1 73h1M253.1 243.3h1M253.1 376.1h1M253.1 378.5h1M253.1 387.6h1M253.1 441.7h1M253.2 359.8h1M253.2 360.2h1M253.2 381.7h1M253.3 31.7h1M253.3 378.1h1M253.3 379.8h1M253.3 380.1h1M253.3 382.7h1M253.3 385.2h1M253.3 466.1h1M253.4 53h1M253.4 377.9h1M253.4 379.7h1M253.4 379.9h1M253.4 380.6h1M253.4 381.3h1M253.4 385.3h1M253.4 463.2h1M253.5 70.2h1M253.5 379h1M253.5 382.6h1M253.6 27.5h1M253.6 68h1M253.6 234.8h1M253.6 359.9h1M253.6 481.6h1M253.7 31.7h1M253.7 69.2h1M253.7 441.5h1M253.7 483.5h1M253.8 73h1M253.8 246.2h1M253.8 380.6h1M253.8 385.7h1M253.8 451.2h1M253.9 53h1M253.9 53.3h1M253.9 234.8h1M253.9 390h1M253.9 467.7h1M254 51.9h1M254 53.2h1M254 380.3h1M254 393.5h1M254.1 50.9h1M254.1 375.9h1M254.1 376.3h1M254.1 383.5h1M254.2 52.3h1M254.2 233.8h1M254.2 243.5h1M254.2 359.9h1M254.2 382.4h1M254.2 453.3h1M254.3 349.5h1M254.3 386.9h1M254.4 233.9h1M254.4 376.4h1M254.4 466.5h1M254.4 481.3h1M254.4 481.7h1M254.5 31.4h1M254.5 40.9h1M254.5 381.5h1M254.5 384.3h1M254.6 234.1h1M254.6 350.3h1M254.6 383h1M254.6 386.1h1M254.7 52h1M254.7 375.9h1M254.7 379.6h1M254.7 452h1M254.7 452.2h1M254.8 70.5h1M254.8 244.3h1M254.8 441.2h1M254.8 451.2h1M254.8 453h1M254.8 462.5h1M254.9 53.8h1M254.9 73.3h1M254.9 451.4h1M254.9 464.6h1M255 359.2h1M255 379.8h1M255 381.4h1M255.1 67.6h1M255.1 68.4h1M255.1 389h1M255.1 451.1h1M255.1 482.6h1M255.2 52.6h1M255.2 67.8h1M255.2 67.9h1M255.2 379.9h1M255.2 382.7h1M255.2 384.8h1M255.2 442.2h1M255.2 443h1M255.3 443.2h1M255.3 480.6h1M255.4 31.7h1M255.4 41.9h1M255.4 53.1h1M255.4 361.7h1M255.4 361.8h1M255.4 483.3h1M255.5 40.9h1M255.5 244.8h1M255.5 350.3h1M255.5 360.9h1M255.5 377.1h1M255.5 379.4h1M255.5 381.7h1M255.5 383.6h1M255.5 383.9h1M255.5 465.7h1M255.6 44.5h1M255.6 382.7h1M255.6 383h1M255.6 383.7h1M255.6 450.5h1M255.6 464.2h1M255.6 480.6h1M255.6 482.7h1M255.7 347.6h1M255.7 350.5h1M255.8 29.7h1M255.8 360.6h1M255.8 389.6h1M255.8 442.2h1M255.8 463.5h1M255.8 467.1h1M255.9 68h1M255.9 234.8h1M255.9 350.4h1M255.9 359.2h1M255.9 380.7h1M255.9 385.2h1M255.9 386.2h1M255.9 388.1h1M256 30.5h1M256 68.9h1M256 69.8h1M256 235h1M256 383.7h1M256 384.3h1M256 480.9h1M256.1 359.1h1M256.1 384.8h1M256.1 481.3h1M256.1 483.7h1M256.2 31.8h1M256.2 243h1M256.2 362h1M256.2 379.8h1M256.2 451.4h1M256.2 464.4h1M256.2 481.1h1M256.3 41.2h1M256.3 375.4h1M256.3 380.2h1M256.3 381.5h1M256.3 440.7h1M256.3 464.6h1M256.4 347.6h1M256.4 349h1M256.4 468h1M256.5 31h1M256.5 70.2h1M256.5 382h1M256.5 384h1M256.5 451.1h1M256.5 463.3h1M256.5 486.6h1M256.6 360.3h1M256.6 373.1h1M256.7 30.9h1M256.7 44.4h1M256.7 54.8h1M256.7 378.7h1M256.7 387.2h1M256.7 449.9h1M256.7 463.6h1M256.8 349.1h1M256.8 484.7h1M256.9 30.3h1M256.9 40.2h1M256.9 66.6h1M256.9 67h1M256.9 350.5h1M256.9 483.3h1M257 31.9h1M257 236.1h1M257 236.2h1M257 241.9h1M257 348.1h1M257 361.7h1M257 383.4h1M257 442.8h1M257 449.7h1M257.1 52h1M257.1 358.8h1M257.1 359.3h1M257.1 361.1h1M257.2 55.1h1M257.2 66.6h1M257.2 236.1h1M257.2 241.9h1M257.2 386.9h1M257.2 480.9h1M257.2 483.4h1M257.3 40.7h1M257.3 41.5h1M257.3 42.9h1M257.3 54h1M257.3 68.8h1M257.3 69.9h1M257.3 73h1M257.3 377.8h1M257.3 380.6h1M257.3 449.2h1M257.4 384.1h1M257.5 53.5h1M257.5 232.4h1M257.5 351.3h1M257.5 444.1h1M257.5 450.4h1M257.6 30.7h1M257.6 42h1M257.6 53.2h1M257.6 361.6h1M257.6 444.5h1M257.7 40.7h1M257.7 51.4h1M257.7 349.2h1M257.7 387.3h1M257.7 452h1M257.8 468.3h1M257.8 468.9h1M257.8 481.4h1M257.9 33h1M257.9 352h1M257.9 467.1h1M257.9 483h1M258 245.5h1M258.1 39.4h1M258.1 41h1M258.1 52.8h1M258.1 53.2h1M258.1 54.4h1M258.1 351.7h1M258.1 362.2h1M258.1 448.2h1M258.1 470h1M258.2 41.6h1M258.2 42.6h1M258.2 242h1M258.2 352.2h1M258.2 358.4h1M258.2 466h1M258.2 467.6h1M258.2 468.4h1M258.3 31.5h1M258.3 237.5h1M258.3 357.4h1M258.3 357.5h1M258.3 378.3h1M258.3 445.5h1M258.3 448.7h1M258.3 464.1h1M258.4 39.2h1M258.4 67.4h1M258.4 244.1h1M258.4 348.7h1M258.4 451.4h1M258.4 479h1M258.5 40.2h1M258.5 445.3h1M258.5 467.5h1M258.5 467.6h1M258.6 66.5h1M258.6 238.2h1M258.6 471.1h1M258.7 55.7h1M258.7 234.7h1M258.7 351.9h1M258.7 447.2h1M258.8 70.2h1M258.8 235.5h1M258.8 359.4h1M258.8 442.9h1M258.8 444.5h1M258.8 452.3h1M258.9 38.5h1M258.9 234.5h1M258.9 239.5h1M258.9 239.9h1M258.9 375.1h1M258.9 446.4h1M259 55.8h1M259 66.1h1M259 238.4h1M259 357.5h1M259 384.8h1M259 450.1h1M259 452.8h1M259.1 33.9h1M259.1 71.1h1M259.1 354.6h1M259.1 466.2h1M259.1 471.5h1M259.2 52.8h1M259.2 242.1h1M259.2 355.4h1M259.2 445.4h1M259.2 475.3h1M259.2 479.3h1M259.3 37.2h1M259.3 37.4h1M259.3 38h1M259.3 57.7h1M259.3 66h1M259.3 350.1h1M259.3 357.9h1M259.3 374.8h1M259.3 377h1M259.3 468.8h1M259.3 474.6h1M259.3 475.1h1M259.3 477.4h1M259.3 478.7h1M259.3 480.5h1M259.4 31.8h1M259.4 66.4h1M259.4 239.6h1M259.4 385.7h1M259.4 468.9h1M259.4 476.5h1M259.4 477h1M259.4 477.7h1M259.5 33.4h1M259.5 63h1M259.5 64.1h1M259.5 238.8h1M259.5 238.9h1M259.5 472.5h1M259.5 484.5h1M259.6 63.3h1M259.6 236.7h1M259.6 240.3h1M259.6 240.6h1M259.6 470.8h1M259.6 471h1M259.7 61.6h1M259.7 441h1M259.7 477.8h1M259.8 38.2h1M259.8 52.5h1M259.8 53h1M259.8 55.4h1M259.8 65.4h1M259.8 67.8h1M259.8 67.9h1M259.8 234.7h1M259.8 237.2h1M259.8 354.1h1M259.8 446h1M259.8 449.8h1M259.8 475.3h1M259.8 476.4h1M259.9 30.4h1M259.9 55.3h1M259.9 350.6h1M259.9 357.3h1M259.9 479.8h1M260 239.5h1M260 361.1h1M260 446.1h1M260 474.5h1M260.1 39.6h1M260.1 57.6h1M260.1 58.1h1M260.1 64.6h1M260.1 377.4h1M260.1 474.5h1M260.1 475.2h1M260.1 481.4h1M260.2 57.5h1M260.2 62.2h1M260.2 62.3h1M260.2 448.5h1M260.2 448.7h1M260.3 60.5h1M260.3 446.9h1M260.3 447.5h1M260.3 478.9h1M260.3 482.1h1M260.4 64h1M260.4 236h1M260.4 241.2h1M260.4 241.6h1M260.4 445.6h1M260.4 473h1M260.4 473.7h1M260.5 40.1h1M260.5 66.8h1M260.5 354.1h1M260.5 355.6h1M260.5 386.4h1M260.6 38.8h1M260.6 51.6h1M260.6 61.1h1M260.6 348.7h1M260.7 238.4h1M260.7 354.4h1M260.7 359.1h1M260.7 447.6h1M260.7 451.5h1M260.8 37h1M260.8 469.2h1M260.9 35.4h1M260.9 66.3h1M260.9 242.6h1M261 56h1M261 61.4h1M261 65.2h1M261 240.2h1M261 241.1h1M261 472.7h1M261.1 36.6h1M261.1 61.5h1M261.1 354.2h1M261.2 40h1M261.2 59.3h1M261.2 62.1h1M261.2 241h1M261.3 57.3h1M261.3 240.3h1M261.3 358h1M261.4 61.2h1M261.4 355.5h1M261.4 470.9h1M261.5 33.3h1M261.5 41.6h1M261.5 58h1M261.5 355.4h1M261.6 34.6h1M261.6 349.6h1M261.6 353.5h1M261.6 474.1h1M261.6 474.9h1M261.7 449.2h1M261.8 32.7h1M261.8 51.8h1M261.8 446.3h1M261.8 474.1h1M261.9 448.2h1M261.9 475h1M262 57h1M262 66.9h1M262 239.1h1M262.1 475.6h1M262.2 58.1h1M262.2 63.2h1M262.2 468.3h1M262.2 475h1M262.5 451h1M262.5 468.9h1M262.7 473.3h1M262.9 67.8h1M262.9 474.9h1M263 60.9h1M263 63.2h1M263.3 351.2h1M263.3 448.3h1M263.4 63.2h1M263.6 57.7h1M263.6 58.3h1M263.6 473.9h1M263.7 240.7h1M263.8 353h1M263.9 64.6h1M263.9 241.2h1M264.1 61h1M264.1 447.4h1M264.1 476.6h1M264.2 64.2h1M264.2 64.3h1M264.3 57.4h1M264.3 240.5h1M264.7 239h1M264.8 63.7h1M265 65.5h1M266.7 385.8h1M267.1 377.2h1M267.1 380.8h1M267.2 383h1M268.7 379.6h1M268.8 384.4h1M268.8 388.5h1M268.9 384.3h1M269 382.9h1M269 391.7h1M269.1 379.3h1M269.5 382.3h1M269.5 383.6h1M269.5 383.7h1M269.5 389.6h1M269.6 392.2h1M269.7 382h1M269.7 385.5h1M269.8 387.1h1M269.8 390.9h1M269.9 389h1M270 376.6h1M270.4 375.5h1M270.4 385.5h1M270.6 381.8h1M270.7 371.2h1M271 376.5h1M271.1 375.2h1M271.1 391.5h1M271.7 382h1M271.7 388.3h1M271.8 386.9h1M271.9 373.5h1M271.9 374.3h1M271.9 388.6h1M271.9 389.2h1M272 372h1M272 381.7h1M272.1 382.5h1M272.2 376.7h1M272.2 377.7h1M272.2 382.9h1M272.2 387.1h1M272.3 382.7h1M272.3 385.8h1M272.4 378.4h1M272.4 383h1M272.5 375h1M272.5 382.9h1M272.6 385.2h1M272.7 376.9h1M272.7 384.5h1M272.7 384.8h1M272.8 385.3h1M272.8 387.5h1M272.9 373.8h1M272.9 375.9h1M272.9 384.5h1M273 380.8h1M273 381h1M273.2 377.9h1M273.2 380.4h1M273.4 373.5h1M273.4 376.5h1M273.4 379.3h1M273.4 385.9h1M273.5 383.6h1M273.5 384.4h1M273.5 386.5h1M273.6 375.3h1M273.6 380.4h1M273.6 386.1h1M273.7 379.2h1M273.8 385.1h1M273.9 380.4h1M273.9 384.2h1M273.9 385.3h1M273.9 386.6h1M274 380.9h1M274 382.8h1M274.1 382.3h1M274.1 385.3h1M274.2 376h1M274.2 380.5h1M274.2 384.2h1M274.2 384.9h1M274.3 379.4h1M274.4 382.6h1M274.5 374.3h1M274.6 380.2h1M274.6 383.7h1M274.7 376.2h1M274.7 382.6h1M274.7 383.9h1M274.8 377.9h1M274.9 377.4h1M274.9 379.9h1M274.9 386h1M275 375.7h1M275 380h1M275 380.6h1M275 381.3h1M275 382.1h1M275.1 386.8h1M275.1 388.4h1M275.1 391.5h1M275.2 388.2h1M275.3 377.8h1M275.3 378.4h1M275.3 389.1h1M275.4 375.6h1M275.4 383.9h1M275.4 384h1M275.4 384.4h1M275.6 376.5h1M275.6 384.1h1M275.7 380.8h1M275.7 388.2h1M275.8 377.9h1M275.8 380.3h1M275.8 381.5h1M275.8 384.8h1M275.9 381h1M275.9 381.1h1M275.9 385.7h1M275.9 389.8h1M276.1 381.5h1M276.1 385.4h1M276.2 384.5h1M276.3 377.7h1M276.3 386.3h1M276.4 373.7h1M276.4 379.3h1M276.4 381.8h1M276.4 384.3h1M276.6 378.2h1M276.6 382.1h1M276.6 382.5h1M276.6 383.9h1M276.6 385.5h1M276.8 376.2h1M276.8 376.4h1M276.8 379.7h1M276.8 387.8h1M276.9 374.7h1M276.9 376.3h1M276.9 378.6h1M276.9 379.7h1M277 377.2h1M277 378.1h1M277 383.3h1M277 385.6h1M277.1 378.7h1M277.2 386h1M277.3 369.5h1M277.3 377.2h1M277.3 379.3h1M277.3 380.9h1M277.3 383.3h1M277.4 379.4h1M277.4 384.4h1M277.5 382.6h1M277.5 384.7h1M277.6 370.5h1M277.6 378.7h1M277.7 379.6h1M277.7 380.3h1M277.8 382.9h1M278 379.4h1M278.1 374.9h1M278.1 385.3h1M278.3 381.5h1M278.3 381.6h1M278.4 375.1h1M278.5 374.9h1M278.6 382.5h1M278.7 386.2h1M278.8 381.8h1M278.9 378.9h1M279 383.9h1M279.1 381.2h1M279.2 371.9h1M279.2 384.2h1M279.3 376.2h1M279.3 381h1M279.3 381.9h1M279.4 373.7h1M279.4 379h1M279.4 381.2h1M279.4 387.6h1M279.5 377.3h1M279.5 389.1h1M279.7 382.4h1M279.7 389.2h1M279.8 375.8h1M279.9 377.3h1M280 385.9h1M280.2 382.6h1M280.2 384.8h1M280.2 390.2h1M280.4 372.7h1M280.4 374.6h1M280.4 389.3h1M280.5 375.2h1M280.6 382.3h1M280.7 381.4h1M280.9 386.2h1M281.1 380.3h1M281.1 384h1M281.1 385h1M281.2 380.4h1M281.6 390.4h1M281.7 375.7h1M281.7 387.7h1M281.8 386.9h1M282.2 384h1M282.6 386.6h1M283.1 387.3h1M283.4 378.2h1M283.4 383.3h1M283.8 376.9h1M283.9 378.7h1M284.3 383.4h1M285.6 384.2h1M341.7 149.6h1M342 354.6h1M342 358.1h1M342.7 154h1M342.8 353.8h1M342.9 147.5h1M343.3 355.4h1M343.5 145.6h1M343.8 151h1M344 352.1h1M344 356.7h1M344.1 150.5h1M344.1 353.7h1M344.2 151.1h1M344.6 152.8h1M344.6 349.9h1M344.9 65.5h1M344.9 147.7h1M345 151.7h1M345.2 153.8h1M345.2 356.7h1M345.4 146.7h1M345.5 149.1h1M345.6 149.2h1M345.6 153.4h1M345.7 151.8h1M345.7 352h1M345.8 356h1M345.9 40.7h1M346 352.1h1M346 354.6h1M346.1 355.4h1M346.3 151.1h1M346.4 151h1M346.4 350.2h1M346.5 63.7h1M346.5 143.3h1M346.6 147.7h1M346.6 151.2h1M346.6 153.9h1M346.7 36.8h1M346.7 355.7h1M346.8 145.4h1M346.8 146.4h1M346.8 146.6h1M346.8 386.2h1M346.9 358.8h1M347 57.9h1M347 63.3h1M347 148.6h1M347 149.2h1M347 359.2h1M347.1 152.8h1M347.2 61.1h1M347.2 146.5h1M347.2 150.2h1M347.2 354.4h1M347.2 359.5h1M347.3 144.8h1M347.3 145.8h1M347.3 146.5h1M347.3 153.8h1M347.4 146h1M347.4 148h1M347.4 353.3h1M347.5 42.4h1M347.5 60.6h1M347.5 155.6h1M347.5 351.1h1M347.5 379.8h1M347.6 64.5h1M347.6 68.6h1M347.6 355.1h1M347.6 359.5h1M347.7 147.2h1M347.7 379.9h1M347.8 39.2h1M347.8 143.2h1M347.8 149.3h1M347.8 150.9h1M347.8 152.8h1M347.9 64.7h1M347.9 68.3h1M347.9 145.7h1M347.9 146.8h1M347.9 152.5h1M347.9 354h1M348 61.1h1M348.1 31h1M348.1 38.3h1M348.1 144.1h1M348.1 146.7h1M348.1 353.7h1M348.2 153.1h1M348.2 353.4h1M348.2 379.1h1M348.3 381h1M348.3 381.7h1M348.5 348.5h1M348.5 380.2h1M348.6 43.1h1M348.6 143.9h1M348.6 350.9h1M348.6 352.6h1M348.6 353.1h1M348.7 62.4h1M348.7 64.5h1M348.7 141.2h1M348.7 145.7h1M348.7 383.4h1M348.7 384.1h1M348.8 36.2h1M348.8 59h1M348.8 63h1M348.8 152.9h1M348.8 383h1M348.9 39.7h1M348.9 60.2h1M348.9 143.5h1M348.9 143.9h1M349 352.7h1M349 362.5h1M349.1 68.2h1M349.1 351.7h1M349.2 142.7h1M349.2 360.2h1M349.2 363h1M349.2 363.2h1M349.3 41.2h1M349.3 143.5h1M349.3 377.5h1M349.3 382.8h1M349.4 153.8h1M349.5 33h1M349.5 39.2h1M349.5 144h1M349.6 45.5h1M349.6 46.6h1M349.6 61.7h1M349.6 62.9h1M349.6 141.7h1M349.6 155.8h1M349.6 351.5h1M349.6 352.2h1M349.6 362h1M349.6 381.2h1M349.7 35.7h1M349.7 154h1M349.8 36.7h1M349.8 47h1M349.9 56.3h1M349.9 62.1h1M349.9 63.8h1M349.9 64.4h1M349.9 377.5h1M349.9 385h1M350 380.9h1M350 388.3h1M350.1 56.7h1M350.1 154.2h1M350.1 383.7h1M350.2 57.7h1M350.2 60.1h1M350.2 360.7h1M350.3 35.7h1M350.3 140.5h1M350.3 362h1M350.3 389.2h1M350.4 57.2h1M350.4 58.3h1M350.4 144.1h1M350.4 144.6h1M350.4 350.9h1M350.4 386.2h1M350.5 38.7h1M350.5 349.4h1M350.5 385.2h1M350.6 31.7h1M350.6 41.5h1M350.6 58.1h1M350.6 154.5h1M350.6 155.2h1M350.6 380.8h1M350.7 59.1h1M350.7 66h1M350.7 155.4h1M350.7 350.1h1M350.7 361.7h1M350.7 386.7h1M350.8 39.8h1M350.8 376.8h1M350.9 40.1h1M350.9 60h1M350.9 67.1h1M350.9 380.5h1M351 383.2h1M351.1 42.9h1M351.1 346.5h1M351.1 363h1M351.2 31.6h1M351.2 40.8h1M351.2 143.3h1M351.3 57.9h1M351.3 58.5h1M351.3 69.2h1M351.3 361.4h1M351.3 362.2h1M351.4 32.4h1M351.4 350.9h1M351.4 365h1M351.4 382.4h1M351.5 380.9h1M351.6 379.1h1M351.7 143.8h1M351.7 156.9h1M351.7 378.7h1M351.8 58.7h1M351.8 158.2h1M351.8 361.5h1M351.8 385.1h1M351.8 386.8h1M351.9 33h1M351.9 38.4h1M351.9 58.9h1M351.9 379.2h1M351.9 382h1M351.9 385.7h1M352 30.3h1M352 54.1h1M352 67.4h1M352 156.2h1M352 347.9h1M352 350.9h1M352 366.8h1M352 383.3h1M352.1 33.4h1M352.1 363.4h1M352.1 381.6h1M352.2 156.6h1M352.2 388h1M352.3 32.6h1M352.3 58.6h1M352.3 66.5h1M352.3 68.3h1M352.3 349.9h1M352.4 38.7h1M352.4 68.6h1M352.4 143.4h1M352.4 157h1M352.4 350.9h1M352.4 361.5h1M352.4 383h1M352.5 58.4h1M352.6 36.3h1M352.6 143.5h1M352.6 155.9h1M352.6 381.2h1M352.6 382.2h1M352.6 384.2h1M352.6 384.5h1M352.7 33.5h1M352.7 36.3h1M352.7 54.2h1M352.7 348.8h1M352.8 30.4h1M352.8 32.9h1M352.8 36.7h1M352.8 38.4h1M352.8 39.7h1M352.8 139.5h1M352.8 158h1M352.8 348.2h1M352.8 365h1M352.8 387.3h1M352.9 34h1M352.9 365.8h1M352.9 383.3h1M353 34.9h1M353 57.4h1M353 346.4h1M353 363.8h1M353.1 29.7h1M353.1 36.8h1M353.1 385.3h1M353.2 40.6h1M353.2 53.5h1M353.2 362h1M353.2 380.8h1M353.3 32.8h1M353.3 53.1h1M353.3 57.6h1M353.3 379h1M353.3 380.7h1M353.3 382h1M353.4 70.3h1M353.4 381.8h1M353.4 382.2h1M353.4 385.5h1M353.5 55.5h1M353.5 382.9h1M353.5 383.4h1M353.5 385.5h1M353.6 56.2h1M353.6 157.5h1M353.6 383.3h1M353.7 38.4h1M353.7 45.6h1M353.7 156.7h1M353.8 55.4h1M353.8 364.5h1M353.8 364.6h1M353.9 37.8h1M353.9 68.8h1M353.9 347.8h1M353.9 363.8h1M354 39.7h1M354 67.6h1M354 141.7h1M354 156.1h1M354 362.3h1M354 380.3h1M354 380.5h1M354 382.4h1M354.1 379h1M354.2 37.2h1M354.2 40h1M354.2 69.9h1M354.3 34.3h1M354.3 37.3h1M354.3 37.4h1M354.3 40.8h1M354.3 42.7h1M354.3 68.6h1M354.3 138.2h1M354.3 155.4h1M354.3 364.1h1M354.3 379h1M354.4 43.4h1M354.4 154.9h1M354.4 382.1h1M354.4 386.3h1M354.5 43.9h1M354.5 158.4h1M354.5 381h1M354.6 143.3h1M354.6 155.2h1M354.6 376.5h1M354.6 378.2h1M354.6 385.1h1M354.7 41h1M354.7 143.3h1M354.8 34h1M354.8 39.7h1M354.8 381.1h1M354.8 381.9h1M354.9 35h1M354.9 39.7h1M354.9 384.5h1M355 32h1M355 57.3h1M355 69.2h1M355 69.6h1M355 141.2h1M355 349.7h1M355.1 40.2h1M355.1 41.8h1M355.1 68.1h1M355.1 382.2h1M355.2 68.1h1M355.2 142.4h1M355.3 33.9h1M355.3 37h1M355.3 37.1h1M355.3 39.6h1M355.3 361.8h1M355.3 378.8h1M355.3 382.9h1M355.4 33.6h1M355.4 57.1h1M355.5 29.8h1M355.5 30.3h1M355.5 40.2h1M355.5 54.9h1M355.5 362.9h1M355.6 35.8h1M355.6 36.8h1M355.6 39.8h1M355.6 139.1h1M355.6 139.9h1M355.6 155.9h1M355.6 378.3h1M355.6 383.2h1M355.6 384.7h1M355.6 388.1h1M355.7 37.1h1M355.7 38.1h1M355.7 38.4h1M355.7 378.2h1M355.7 380.1h1M355.8 346.8h1M355.8 362.5h1M355.9 33.7h1M355.9 36.1h1M355.9 41h1M355.9 52.5h1M355.9 55.7h1M355.9 141.3h1M355.9 350.6h1M355.9 383.8h1M356 39h1M356 39.9h1M356 54.4h1M356 143.2h1M356 362.4h1M356 364.9h1M356 385.3h1M356.1 33.3h1M356.1 45.6h1M356.1 68.7h1M356.1 70.3h1M356.1 378.4h1M356.1 386.8h1M356.2 27.2h1M356.2 37.6h1M356.2 43.6h1M356.2 45h1M356.2 143.4h1M356.2 362.1h1M356.2 384.2h1M356.3 32.6h1M356.3 37.9h1M356.3 68.2h1M356.3 154.5h1M356.3 154.9h1M356.3 382.3h1M356.3 383.9h1M356.3 384.8h1M356.4 30.8h1M356.4 38.2h1M356.4 70.1h1M356.4 155.9h1M356.4 362.3h1M356.4 385.6h1M356.5 34.8h1M356.5 38h1M356.5 68.9h1M356.5 361.5h1M356.5 380.8h1M356.6 34.6h1M356.6 70.2h1M356.6 156.2h1M356.6 382h1M356.7 155.8h1M356.7 156.4h1M356.7 381.3h1M356.8 37h1M356.8 37.1h1M356.8 42.7h1M356.8 382.4h1M356.8 383.5h1M356.9 39.6h1M356.9 41.5h1M356.9 157.7h1M356.9 387.3h1M357 349.9h1M357 351.2h1M357 363h1M357.1 42.6h1M357.1 55.1h1M357.1 379.2h1M357.2 37.9h1M357.2 39.6h1M357.2 349.6h1M357.3 37.3h1M357.3 68.8h1M357.3 143.4h1M357.3 351.4h1M357.3 361.5h1M357.3 379.1h1M357.3 381.5h1M357.4 42.6h1M357.4 43.7h1M357.4 43.8h1M357.5 33h1M357.5 33.4h1M357.5 34h1M357.5 45.6h1M357.5 48.3h1M357.5 68.2h1M357.5 71.9h1M357.5 155.6h1M357.5 158.8h1M357.5 350.4h1M357.6 54.1h1M357.6 349.1h1M357.6 363.4h1M357.7 347.9h1M357.7 350.1h1M357.7 381.2h1M357.7 384.2h1M357.8 142.4h1M357.8 383.8h1M357.9 33.2h1M357.9 39.8h1M357.9 68.4h1M357.9 364.6h1M357.9 385.5h1M358 47.5h1M358.1 31.3h1M358.1 32.8h1M358.1 40.9h1M358.1 154.1h1M358.1 361.9h1M358.2 44.5h1M358.2 155.6h1M358.2 361.5h1M358.2 362h1M358.2 384.5h1M358.3 32.6h1M358.3 35h1M358.3 142.5h1M358.3 361.4h1M358.4 35.8h1M358.4 42.6h1M358.5 41.8h1M358.5 44h1M358.5 46.3h1M358.5 57h1M358.5 362.2h1M358.5 385.9h1M358.6 32.2h1M358.6 37.7h1M358.6 158.6h1M358.6 363.1h1M358.6 387.4h1M358.7 381.2h1M358.8 32h1M358.8 37h1M358.8 45.5h1M358.8 380.3h1M358.8 385.4h1M358.8 386.1h1M358.9 39.7h1M358.9 42h1M358.9 47h1M358.9 53.5h1M358.9 348.8h1M358.9 360.9h1M358.9 381.4h1M358.9 386.9h1M359 34.2h1M359 381h1M359 384.3h1M359 384.8h1M359 385.1h1M359.1 31.5h1M359.1 39.2h1M359.1 71.5h1M359.1 385.1h1M359.2 31h1M359.2 360.4h1M359.3 55.5h1M359.3 56.6h1M359.3 57.2h1M359.3 71.8h1M359.3 157.2h1M359.4 386h1M359.5 37.1h1M359.5 44.5h1M359.5 45.3h1M359.5 140.4h1M359.6 33.3h1M359.6 33.8h1M359.6 34.7h1M359.6 55.5h1M359.6 71.6h1M359.6 154h1M359.7 28.4h1M359.7 33.8h1M359.7 40.4h1M359.7 54.3h1M359.7 381.7h1M359.8 143.9h1M359.8 348.7h1M359.8 349.9h1M359.8 387.2h1M359.9 32.9h1M359.9 348.9h1M360 37.7h1M360 40.4h1M360 387.9h1M360.1 40.3h1M360.1 153h1M360.1 362.1h1M360.1 380.8h1M360.2 35.3h1M360.2 37h1M360.2 38.7h1M360.2 43.7h1M360.2 145.1h1M360.2 362.1h1M360.3 359.7h1M360.3 383.1h1M360.4 39.9h1M360.4 68.8h1M360.4 157h1M360.4 353h1M360.4 361.3h1M360.4 378.7h1M360.5 32.2h1M360.5 40.1h1M360.5 52.9h1M360.5 54.1h1M360.5 56.1h1M360.5 352.3h1M360.6 145.2h1M360.6 153.7h1M360.6 387.3h1M360.7 32.2h1M360.7 33.9h1M360.7 36.7h1M360.7 41h1M360.8 33.3h1M360.8 56.9h1M360.8 145.7h1M360.9 41.6h1M360.9 351.9h1M361 35.3h1M361 40h1M361 67.2h1M361 69.6h1M361 145.6h1M361 145.7h1M361 146h1M361.1 46.3h1M361.1 57.2h1M361.1 152.2h1M361.1 354.8h1M361.1 357.2h1M361.1 359.1h1M361.2 32.1h1M361.2 35.2h1M361.2 54.2h1M361.2 56.1h1M361.2 351.2h1M361.2 351.5h1M361.2 354.2h1M361.2 356.5h1M361.3 35.8h1M361.3 142.5h1M361.3 155.4h1M361.3 360.6h1M361.4 35h1M361.4 40.3h1M361.4 58.1h1M361.4 141.5h1M361.4 363.9h1M361.5 31.2h1M361.5 34.5h1M361.5 35.5h1M361.5 36h1M361.5 39h1M361.5 151.1h1M361.5 154.9h1M361.5 356.6h1M361.5 359.7h1M361.5 360.5h1M361.5 364.3h1M361.5 383h1M361.6 57.8h1M361.6 66.4h1M361.6 146.7h1M361.6 362.8h1M361.7 66.2h1M361.7 71.4h1M361.7 143.4h1M361.7 152h1M361.7 355.5h1M361.8 35.7h1M361.8 37.1h1M361.8 40.7h1M361.8 42.5h1M361.8 56.4h1M361.8 58.5h1M361.9 35.3h1M361.9 54.3h1M361.9 141.6h1M361.9 151.1h1M361.9 151.9h1M361.9 355.7h1M361.9 356h1M361.9 357.7h1M362 35.9h1M362 57.7h1M362 147h1M362 155.4h1M362 352.9h1M362 360.4h1M362.1 68.3h1M362.1 146.4h1M362.1 361.7h1M362.2 43.6h1M362.2 144.5h1M362.2 147.4h1M362.2 358.1h1M362.3 59.1h1M362.4 146.6h1M362.4 153h1M362.4 357.6h1M362.5 350.5h1M362.5 362.5h1M362.6 35.6h1M362.6 42.7h1M362.6 58.3h1M362.6 59.3h1M362.6 354.6h1M362.7 36.5h1M362.7 38.9h1M362.7 56.7h1M362.7 355.3h1M362.7 358.3h1M362.8 56.4h1M362.8 147.3h1M362.8 354.4h1M362.8 361.4h1M362.9 57.4h1M362.9 58.3h1M362.9 60.9h1M362.9 64.2h1M363 71.2h1M363 149.8h1M363 352.4h1M363 384.9h1M363.1 66h1M363.1 149.4h1M363.1 382.5h1M363.2 62.4h1M363.3 60.2h1M363.3 62.9h1M363.3 149.9h1M363.4 66.1h1M363.4 356h1M363.5 64.3h1M363.5 150h1M363.5 361.8h1M363.6 43.5h1M363.7 60.6h1M363.7 64.2h1M363.7 153.9h1M363.8 39.6h1M363.8 61.2h1M363.8 68.5h1M363.8 149.6h1M364 31.8h1M364 150.7h1M364 360.1h1M364.1 59.8h1M364.1 60.3h1M364.1 351.7h1M364.2 42.6h1M364.2 147h1M364.2 350h1M364.4 64.9h1M364.4 360.5h1M364.5 142.1h1M364.6 31.5h1M364.7 147.2h1M364.8 65.6h1M364.8 150.6h1M364.8 152.4h1M365.2 151h1M365.2 352.7h1M365.4 58.7h1M365.4 145.4h1M365.4 148.7h1M365.4 151.7h1M365.5 41.6h1M365.5 355.7h1M365.6 62.8h1M365.8 34.2h1M365.8 154.2h1M365.9 58.7h1M365.9 62h1M366.3 63.4h1M366.5 61.7h1M367 68.2h1M367.4 57.9h1M368 148.1h1M368.2 62.8h1M377.9 475.4h1M378.1 477.9h1M378.6 480.9h1M378.9 479h1M379.2 473.6h1M379.7 479.1h1M379.9 385.2h1M379.9 475.4h1M380.2 379.3h1M380.2 380.3h1M380.2 475.5h1M380.2 475.9h1M380.2 478.5h1M380.4 380.5h1M381.3 381.4h1M381.3 474.5h1M381.3 475.6h1M381.7 478h1M381.7 478.2h1M381.8 472h1M381.9 479.4h1M382.4 476.5h1M382.5 383.4h1M382.5 475.2h1M382.6 376.3h1M382.6 471.9h1M382.7 382.3h1M382.7 471.8h1M382.7 475h1M382.8 479.5h1M382.9 475.6h1M382.9 480.1h1M383 385.5h1M383.1 380.9h1M383.1 479h1M383.1 479.8h1M383.2 472.9h1M383.2 474.6h1M383.2 477.5h1M383.5 472.8h1M383.6 389.3h1M383.6 476.6h1M383.7 387.1h1M383.7 477.9h1M383.8 386.7h1M383.8 475.7h1M384 473.4h1M384 483.2h1M384.1 469.9h1M384.1 471.2h1M384.1 475.6h1M384.1 478.4h1M384.2 382.8h1M384.3 472.7h1M384.3 474.5h1M384.3 481.2h1M384.4 382.8h1M384.4 475.7h1M384.4 480.1h1M384.5 384.3h1M384.5 387.5h1M384.5 476.2h1M384.5 476.3h1M384.7 478.6h1M384.8 382.4h1M384.8 382.8h1M384.8 471.6h1M384.8 475.3h1M384.8 476.4h1M384.9 472.1h1M384.9 481.2h1M385 380.7h1M385 383.3h1M385 474.7h1M385 475.1h1M385.1 474.6h1M385.1 475.3h1M385.1 483.8h1M385.2 384h1M385.3 378h1M385.3 474.4h1M385.4 474.6h1M385.4 477h1M385.5 379.8h1M385.5 389.9h1M385.5 471.2h1M385.5 472.7h1M385.5 473.2h1M385.6 383.9h1M385.6 477.7h1M385.6 478.9h1M385.6 482.4h1M385.7 380.1h1M385.7 472.4h1M385.8 475.6h1M385.8 477.9h1M385.8 478.6h1M385.9 384.2h1M385.9 385.7h1M385.9 386.2h1M385.9 476.6h1M386 379.5h1M386 379.6h1M386 386.6h1M386 475.2h1M386.1 382.7h1M386.1 472.4h1M386.1 478h1M386.2 474.9h1M386.2 479.2h1M386.3 382.2h1M386.4 475h1M386.5 469h1M386.5 475.3h1M386.5 479.1h1M386.6 376.6h1M386.7 472.8h1M386.7 473h1M386.9 473.9h1M386.9 479.4h1M387 471.5h1M387.2 380h1M387.2 481.1h1M387.3 382.4h1M387.3 476.5h1M387.4 474h1M387.4 475h1M387.5 471h1M387.5 476.7h1M387.6 379.4h1M387.6 477.5h1M387.7 377.9h1M387.7 386h1M387.7 480.1h1M387.8 382.4h1M387.8 484h1M387.9 373.2h1M388.1 380.8h1M388.1 385.6h1M388.1 478.4h1M388.2 385.7h1M388.2 476.4h1M388.2 478.2h1M388.3 380.2h1M388.3 391.5h1M388.3 474.1h1M388.3 475.7h1M388.3 479.4h1M388.4 381.2h1M388.4 381.4h1M388.4 473.5h1M388.5 472.7h1M388.6 380.8h1M388.6 382.9h1M388.6 472h1M388.6 472.8h1M388.7 386.2h1M388.7 387.6h1M388.8 374.6h1M388.8 482.3h1M388.9 377.8h1M388.9 383h1M388.9 472.2h1M388.9 472.7h1M389 473.9h1M389 474h1M389 476.6h1M389.1 379.6h1M389.2 377.7h1M389.2 471.2h1M389.3 378.3h1M389.3 381.3h1M389.3 383.1h1M389.3 383.6h1M389.3 386.4h1M389.4 382h1M389.4 385.7h1M389.4 473.9h1M389.4 475.4h1M389.5 381.8h1M389.5 382.8h1M389.5 476.7h1M389.6 469.2h1M389.6 477.6h1M389.6 477.9h1M389.7 376.8h1M389.7 379.4h1M389.8 380.5h1M389.8 382h1M389.8 386.5h1M389.8 389.2h1M389.8 476.2h1M389.9 382.4h1M389.9 384h1M389.9 385.3h1M389.9 472.9h1M389.9 476.9h1M390 380.5h1M390 382.5h1M390 477.9h1M390.1 377.6h1M390.1 382.7h1M390.1 383.5h1M390.1 384.8h1M390.1 385.2h1M390.1 471.5h1M390.2 380.4h1M390.2 383.9h1M390.2 384.3h1M390.2 481.6h1M390.3 377.2h1M390.3 382.1h1M390.4 385.3h1M390.5 376.2h1M390.5 380.6h1M390.5 381.9h1M390.5 382.5h1M390.5 474.9h1M390.5 478.9h1M390.6 378.2h1M390.6 391.5h1M390.6 470.7h1M390.7 382.2h1M390.7 385.6h1M390.7 475.9h1M390.7 480.5h1M390.8 472.7h1M390.9 382h1M390.9 382.9h1M391 375.9h1M391 379.2h1M391 388.7h1M391 474.3h1M391 478.1h1M391.1 373.1h1M391.1 382.6h1M391.1 390.1h1M391.1 479.1h1M391.2 378.4h1M391.2 384.8h1M391.2 473.9h1M391.2 476.3h1M391.3 381.9h1M391.3 383h1M391.3 383.9h1M391.3 475.7h1M391.4 475.9h1M391.4 478.1h1M391.4 480h1M391.4 480.6h1M391.5 475.5h1M391.6 382.3h1M391.6 476.4h1M391.6 476.6h1M391.7 382.6h1M391.7 383h1M391.7 390.6h1M391.8 378.2h1M391.8 382.5h1M391.8 384.8h1M391.9 381.3h1M391.9 381.7h1M391.9 387.3h1M392 377.5h1M392 378.9h1M392 383.7h1M392 385.4h1M392 481.7h1M392.1 385.5h1M392.2 479.6h1M392.3 379.8h1M392.3 382.8h1M392.3 471.2h1M392.3 476.4h1M392.4 378.4h1M392.4 378.8h1M392.4 384.7h1M392.4 385.7h1M392.4 388.3h1M392.4 473.7h1M392.4 475.7h1M392.5 383.2h1M392.5 472.8h1M392.6 474.3h1M392.6 476.4h1M392.7 477.4h1M392.8 378.8h1M392.8 383.5h1M392.8 383.7h1M392.8 384.7h1M392.8 470.2h1M392.9 381.6h1M392.9 474.8h1M393 385.6h1M393.1 382.6h1M393.1 388.6h1M393.2 373.2h1M393.2 382.3h1M393.2 385.2h1M393.2 385.4h1M393.2 469.1h1M393.2 472.6h1M393.2 479.6h1M393.3 385.4h1M393.4 380.4h1M393.5 377.9h1M393.5 477.2h1M393.6 379.8h1M393.6 383.5h1M393.6 384.7h1M393.6 385h1M393.7 473.5h1M393.8 477.5h1M393.9 471.8h1M393.9 476.3h1M393.9 477.1h1M394 383.7h1M394 384.5h1M394 473.2h1M394 479.5h1M394.1 472.4h1M394.3 376.9h1M394.4 380.8h1M394.4 470h1M394.4 473h1M394.5 383h1M394.5 383.8h1M394.6 379.3h1M394.7 386.1h1M394.8 385.5h1M394.8 474.2h1M394.8 475.4h1M394.9 388.9h1M395 479.9h1M395.3 383.2h1M395.3 475.2h1M395.4 470.7h1M395.5 383.1h1M395.5 472.5h1M395.6 385.8h1M395.6 476h1M395.6 479.7h1M395.7 385.7h1M395.7 471.5h1M395.8 379.8h1M395.8 381.7h1M395.9 381.6h1M396 379.1h1M396 380.6h1M396 386h1M396 387.7h1M396.1 376.2h1M396.2 384.6h1M396.3 383.2h1M396.4 386.6h1M396.4 477h1M396.5 377.4h1M396.9 383.7h1M396.9 386.5h1M397.1 478h1M397.4 378.6h1M397.6 382.2h1M398.4 476h1M398.5 385.5h1M398.6 386.3h1M398.6 388.2h1M398.6 475.4h1M398.7 383.4h1M398.7 473.2h1M398.8 385.8h1M398.9 384.4h1M399.9 380.5h1M400.1 383.9h1M400.4 381.4h1M400.4 383.9h1M400.6 383.6h1M447.6 268.6h1M447.6 270h1M447.7 266.4h1M447.8 174.4h1M447.9 474.7h1M448.1 263h1M448.1 264h1M448.6 265.5h1M448.6 269.3h1M448.6 478h1M448.9 264.6h1M449.1 263.1h1M449.1 263.3h1M449.1 473.2h1M449.2 266.7h1M449.2 477.5h1M449.5 260.8h1M449.5 261.6h1M449.6 268.2h1M449.6 385.5h1M449.6 476.6h1M449.7 264.6h1M449.7 441.4h1M449.8 172.5h1M449.8 179.5h1M449.8 269h1M449.9 381.1h1M449.9 469.4h1M450 262.9h1M450 269.6h1M450.1 171.1h1M450.2 67.4h1M450.2 446.6h1M450.2 473.3h1M450.3 266.1h1M450.3 268.7h1M450.3 468.2h1M450.5 176.4h1M450.5 177.9h1M450.5 180.8h1M450.5 445.7h1M450.6 257.9h1M450.6 264.4h1M450.6 266.4h1M450.6 474.3h1M450.7 172.8h1M450.7 177.2h1M450.7 272.8h1M450.8 177.2h1M450.9 259.3h1M450.9 263h1M450.9 444.2h1M451 177.4h1M451 266.9h1M451 269.7h1M451 388.8h1M451.1 173h1M451.1 264.2h1M451.1 265.4h1M451.1 266.1h1M451.1 267.1h1M451.1 451.6h1M451.2 261.7h1M451.2 264.1h1M451.2 443.7h1M451.2 469.1h1M451.2 479.1h1M451.3 266.2h1M451.3 268.5h1M451.3 473.1h1M451.4 172h1M451.4 172.8h1M451.4 178.9h1M451.4 273.6h1M451.4 441.6h1M451.4 471.1h1M451.4 471.9h1M451.5 174.6h1M451.5 177h1M451.5 447.3h1M451.5 447.7h1M451.5 471.8h1M451.6 65.6h1M451.6 169.2h1M451.6 171.8h1M451.6 266.7h1M451.6 268.7h1M451.6 383.5h1M451.6 477.2h1M451.7 177.3h1M451.7 388.4h1M451.7 446.3h1M451.7 482.8h1M451.8 266.3h1M451.8 446.4h1M451.8 449.1h1M451.9 166.1h1M451.9 175.8h1M451.9 263.2h1M451.9 265.8h1M451.9 267.4h1M451.9 470h1M452 270.4h1M452 271.8h1M452 470.9h1M452 476.3h1M452 477.8h1M452.1 171.7h1M452.1 177.2h1M452.1 263.2h1M452.1 264.5h1M452.1 273.9h1M452.1 388.2h1M452.1 474.4h1M452.1 476.6h1M452.2 64.5h1M452.2 166.8h1M452.2 449.1h1M452.2 479.4h1M452.2 481.3h1M452.3 69.6h1M452.3 177.7h1M452.3 270.2h1M452.3 376.7h1M452.3 385.3h1M452.3 471.1h1M452.4 172h1M452.4 172.9h1M452.4 263.7h1M452.4 380.8h1M452.4 383h1M452.5 60.7h1M452.5 267.4h1M452.5 448h1M452.5 472.2h1M452.5 475.7h1M452.5 482.6h1M452.6 174.6h1M452.6 177.9h1M452.6 376.9h1M452.6 387.1h1M452.6 470.8h1M452.6 474.3h1M452.7 67.9h1M452.7 167.9h1M452.7 168.8h1M452.7 469.5h1M452.7 470.3h1M452.8 176.4h1M452.8 273.4h1M452.8 444.2h1M452.9 172.6h1M452.9 269.6h1M452.9 469.7h1M453 67.6h1M453 171.7h1M453 171.8h1M453 176.8h1M453 177.3h1M453 442.8h1M453.1 69.2h1M453.1 185.1h1M453.1 442.8h1M453.1 469.9h1M453.1 476.4h1M453.2 171.7h1M453.2 176.8h1M453.2 260h1M453.2 261.1h1M453.2 382.2h1M453.2 383.6h1M453.2 471.5h1M453.2 476.5h1M453.3 173.3h1M453.3 260.4h1M453.3 387.6h1M453.3 440.9h1M453.3 479.1h1M453.3 482.5h1M453.4 59.2h1M453.4 260.2h1M453.4 385h1M453.4 469.4h1M453.5 66h1M453.5 169.2h1M453.5 172.8h1M453.5 441.7h1M453.5 445.9h1M453.5 470h1M453.5 481.3h1M453.5 484.1h1M453.5 484.6h1M453.6 65.2h1M453.6 182.2h1M453.6 375.9h1M453.7 66.1h1M453.7 170h1M453.7 385.1h1M453.7 446.3h1M453.7 447.5h1M453.8 168.5h1M453.8 182.8h1M453.8 383.4h1M453.8 438.7h1M453.8 479.4h1M453.9 62h1M453.9 179.5h1M453.9 257.4h1M453.9 390.7h1M453.9 468h1M454 68.5h1M454 385.6h1M454 390.4h1M454 441.4h1M454 443.4h1M454 446h1M454 446.8h1M454.1 66.9h1M454.1 169.1h1M454.1 180.5h1M454.1 259.2h1M454.1 270.8h1M454.1 272.1h1M454.1 273.3h1M454.2 64h1M454.2 71.4h1M454.2 180.5h1M454.2 182.7h1M454.2 259.3h1M454.2 448.1h1M454.3 63.4h1M454.3 67h1M454.3 69.1h1M454.3 261.1h1M454.3 389h1M454.3 393.6h1M454.3 444.2h1M454.4 64.1h1M454.4 260.7h1M454.4 271.1h1M454.4 381.1h1M454.4 390.3h1M454.4 390.4h1M454.4 391.9h1M454.4 437.8h1M454.5 60.5h1M454.5 61.3h1M454.5 63.7h1M454.5 259.4h1M454.5 260.9h1M454.5 391.5h1M454.6 69.1h1M454.6 169.5h1M454.6 170.5h1M454.6 449.9h1M454.6 467.3h1M454.7 63.6h1M454.7 255.7h1M454.7 274.4h1M454.7 440.6h1M454.7 445.9h1M454.8 62h1M454.8 169.7h1M454.8 390.3h1M454.8 484.9h1M454.9 271.9h1M454.9 272.5h1M454.9 442.8h1M455 166.9h1M455 179.9h1M455 255.5h1M455 379.7h1M455 443.3h1M455 446.3h1M455 468.1h1M455.1 64.9h1M455.1 68.2h1M455.1 443.7h1M455.1 447.7h1M455.1 480.3h1M455.2 61.9h1M455.2 65.9h1M455.2 70.2h1M455.2 258.6h1M455.2 270.7h1M455.2 271.3h1M455.2 442.2h1M455.2 445.9h1M455.2 465.1h1M455.3 68.1h1M455.3 181.7h1M455.3 182.7h1M455.3 257.4h1M455.3 272.3h1M455.3 377.5h1M455.3 392.6h1M455.3 441.7h1M455.3 481.5h1M455.4 169.9h1M455.4 444h1M455.4 445h1M455.4 480.5h1M455.5 61.1h1M455.5 259h1M455.5 259.7h1M455.5 441.8h1M455.5 443.6h1M455.6 377.9h1M455.6 379h1M455.6 440.1h1M455.7 59.3h1M455.7 169.8h1M455.7 271.7h1M455.7 380.8h1M455.7 391.2h1M455.7 480.4h1M455.7 483.9h1M455.8 272h1M455.8 448.6h1M455.8 450.2h1M455.9 62.9h1M455.9 170h1M455.9 181.1h1M456 63h1M456 379.5h1M456 445.4h1M456.1 165.3h1M456.1 271.3h1M456.1 390.3h1M456.2 72.1h1M456.2 466.5h1M456.2 481.3h1M456.3 167.7h1M456.3 168.8h1M456.3 181h1M456.3 182.7h1M456.3 274.5h1M456.3 448.9h1M456.4 390.7h1M456.4 440.4h1M456.4 446.9h1M456.4 465.3h1M456.5 59.2h1M456.5 59.3h1M456.5 60.4h1M456.5 447.6h1M456.5 481.5h1M456.6 71.5h1M456.6 168.7h1M456.6 182.4h1M456.6 185.7h1M456.6 439.5h1M456.6 440.6h1M456.6 444.5h1M456.6 448h1M456.6 450.2h1M456.6 467.1h1M456.7 71.9h1M456.7 391.6h1M456.7 446.1h1M456.7 446.2h1M456.7 467h1M456.8 57.9h1M456.8 59.5h1M456.8 374.9h1M456.8 378.2h1M456.8 465.8h1M456.9 166.3h1M456.9 258.5h1M456.9 259.7h1M456.9 445.3h1M457 61.4h1M457 169.3h1M457 181.7h1M457 271.7h1M457 276.8h1M457 390.7h1M457 440.8h1M457 444.4h1M457 445.9h1M457.1 258.6h1M457.1 259.7h1M457.1 395.8h1M457.2 396.5h1M457.3 168.9h1M457.3 169.3h1M457.3 271.8h1M457.3 272.7h1M457.3 446.1h1M457.3 448.5h1M457.3 466h1M457.3 466.8h1M457.3 482.6h1M457.4 59.1h1M457.4 391.6h1M457.4 393.2h1M457.4 465.3h1M457.5 258.1h1M457.5 275.9h1M457.5 392.4h1M457.6 59.3h1M457.6 443.3h1M457.7 61h1M457.7 377h1M457.7 391.2h1M457.7 442.4h1M457.8 168.8h1M457.8 255.1h1M457.8 272.4h1M457.8 376.8h1M457.8 444.6h1M457.8 444.7h1M457.8 449.3h1M457.8 481.2h1M457.8 481.4h1M457.9 257.9h1M457.9 273.5h1M457.9 391.6h1M457.9 444.9h1M457.9 450.2h1M458 71h1M458 446.9h1M458 448.5h1M458 467.4h1M458 480.5h1M458.1 258.4h1M458.1 377h1M458.1 378.5h1M458.1 391.4h1M458.1 394.1h1M458.1 446.1h1M458.1 447h1M458.1 483.1h1M458.2 73.6h1M458.2 258.2h1M458.2 439.4h1M458.2 451.7h1M458.3 379.1h1M458.3 443.4h1M458.3 449.4h1M458.3 464.5h1M458.4 256.1h1M458.4 258.5h1M458.4 259.8h1M458.4 442.4h1M458.4 445.6h1M458.4 447h1M458.5 185.3h1M458.5 185.9h1M458.5 258.1h1M458.5 271.9h1M458.5 442.6h1M458.5 447.3h1M458.6 257.7h1M458.6 257.8h1M458.6 258.5h1M458.6 444.8h1M458.6 466.7h1M458.6 480.5h1M458.7 257.8h1M458.7 273.5h1M458.7 447.1h1M458.7 462.2h1M458.8 441h1M458.8 443.6h1M458.8 447.8h1M458.8 465.5h1M458.8 482.2h1M458.9 57h1M458.9 446.3h1M458.9 448.4h1M458.9 449.7h1M458.9 451.5h1M459 444.1h1M459.1 71.9h1M459.1 166.4h1M459.1 257.8h1M459.1 259.7h1M459.1 271.3h1M459.1 272.8h1M459.1 393h1M459.1 446.3h1M459.2 58.4h1M459.2 181.1h1M459.2 181.2h1M459.2 272.3h1M459.2 481.5h1M459.3 164.8h1M459.3 184.6h1M459.3 377.7h1M459.3 447.8h1M459.3 465.6h1M459.3 484.7h1M459.4 441.6h1M459.4 442.9h1M459.4 448h1M459.5 57.8h1M459.5 168.8h1M459.5 392.5h1M459.5 467.6h1M459.6 443.1h1M459.6 446h1M459.7 72.4h1M459.7 182h1M459.7 467.2h1M459.7 481.7h1M459.8 259.3h1M459.8 445.2h1M459.8 449.7h1M459.8 464.4h1M459.9 59.6h1M459.9 271.7h1M459.9 272.1h1M459.9 378.8h1M459.9 440.8h1M459.9 441.7h1M459.9 445.4h1M460 444.5h1M460.1 271.8h1M460.1 276.2h1M460.1 378.2h1M460.1 441.9h1M460.1 442.5h1M460.1 447.4h1M460.2 444.2h1M460.2 447.8h1M460.2 467.5h1M460.3 59.8h1M460.3 59.9h1M460.3 258h1M460.3 447.1h1M460.4 59.9h1M460.4 184.2h1M460.4 271.2h1M460.4 392.7h1M460.4 394.4h1M460.4 449.4h1M460.4 466.3h1M460.5 167.6h1M460.5 181.6h1M460.5 259.1h1M460.5 443.3h1M460.5 465.7h1M460.6 71.4h1M460.6 393h1M460.6 440.3h1M460.6 448.5h1M460.7 441.4h1M460.7 442.8h1M460.7 445.3h1M460.7 448.3h1M460.7 467.8h1M460.8 167.5h1M460.8 259.2h1M460.8 463.8h1M460.9 270.8h1M460.9 394h1M461 377.9h1M461 379.4h1M461 446.7h1M461 447.6h1M461 448.8h1M461 467.8h1M461.1 56.3h1M461.1 72h1M461.1 440.6h1M461.1 442.6h1M461.1 444.2h1M461.1 485.9h1M461.2 56h1M461.2 180.6h1M461.2 270.9h1M461.2 273h1M461.2 391.9h1M461.2 440.6h1M461.2 440.8h1M461.2 446.7h1M461.3 378.7h1M461.3 379.2h1M461.3 444.3h1M461.3 481h1M461.3 481.1h1M461.4 167.5h1M461.4 378.8h1M461.4 392.4h1M461.4 447.1h1M461.5 442.9h1M461.5 480h1M461.6 168.9h1M461.6 391.4h1M461.6 446.7h1M461.7 73.8h1M461.7 167.7h1M461.7 379h1M461.7 441.6h1M461.7 445.1h1M461.7 449.4h1M461.8 57.3h1M461.8 270.7h1M461.8 391.1h1M461.8 443.6h1M461.8 445.8h1M461.8 450.8h1M461.8 452h1M461.8 479.7h1M461.9 59h1M461.9 273.7h1M461.9 449.3h1M461.9 480.5h1M462 271.5h1M462 444.5h1M462 448.6h1M462 451.1h1M462.1 164.8h1M462.1 258.8h1M462.1 270.1h1M462.1 379.7h1M462.1 446.1h1M462.2 58.3h1M462.2 446.8h1M462.2 483.8h1M462.3 180.9h1M462.3 378.3h1M462.3 445.9h1M462.3 447.9h1M462.3 453.4h1M462.3 480.2h1M462.4 73.1h1M462.4 167.9h1M462.4 467.4h1M462.5 168h1M462.5 271.9h1M462.5 390.6h1M462.5 390.9h1M462.5 393.6h1M462.5 450.1h1M462.6 180.1h1M462.6 269.7h1M462.6 272.5h1M462.6 378h1M462.6 379.7h1M462.6 451.6h1M462.6 452.4h1M462.6 468.7h1M462.6 469.1h1M462.7 376.7h1M462.7 445.8h1M462.7 447.4h1M462.7 450.1h1M462.8 58.7h1M462.8 258.1h1M462.8 259.4h1M462.8 377.7h1M462.8 380.3h1M462.8 444.5h1M462.9 74.8h1M462.9 271.4h1M462.9 390.4h1M462.9 391.2h1M462.9 391.6h1M462.9 395.1h1M462.9 448.7h1M462.9 465.4h1M462.9 480.3h1M462.9 484.7h1M463 269.6h1M463 444.4h1M463 470.5h1M463 480.8h1M463.1 55.5h1M463.1 379.7h1M463.1 389.6h1M463.1 442.3h1M463.1 447.4h1M463.1 479.4h1M463.1 481.9h1M463.2 60.4h1M463.2 74.3h1M463.2 447.5h1M463.2 467.7h1M463.2 468.9h1M463.3 72.3h1M463.3 179.6h1M463.3 268.7h1M463.3 375h1M463.3 379.4h1M463.3 389.4h1M463.3 443.5h1M463.3 444.6h1M463.3 465.3h1M463.3 469.7h1M463.4 165.1h1M463.4 261h1M463.4 389.3h1M463.4 448.7h1M463.4 449h1M463.4 469.5h1M463.4 477.3h1M463.5 168.6h1M463.5 169.8h1M463.5 259.6h1M463.5 379.4h1M463.5 444.8h1M463.5 467h1M463.5 477.6h1M463.6 58.4h1M463.6 74.5h1M463.6 268.2h1M463.6 269.7h1M463.6 447.1h1M463.6 470.2h1M463.6 475.7h1M463.6 481.2h1M463.7 57.7h1M463.7 70.7h1M463.7 268.2h1M463.7 388.7h1M463.7 443.7h1M463.7 444h1M463.7 446.9h1M463.8 170.4h1M463.8 260.6h1M463.8 262.9h1M463.8 376.4h1M463.8 388.4h1M463.8 443.5h1M463.9 57.2h1M463.9 179.8h1M463.9 446.5h1M463.9 447.6h1M463.9 449h1M463.9 475.3h1M463.9 475.7h1M463.9 476.4h1M464 267.6h1M464 269.2h1M464 376.1h1M464 467.4h1M464 479.5h1M464.1 72.9h1M464.1 181.1h1M464.1 267.9h1M464.1 269.9h1M464.1 380.2h1M464.1 446.4h1M464.1 466.3h1M464.1 471.2h1M464.1 477.7h1M464.2 71.2h1M464.2 73.2h1M464.2 168.7h1M464.2 264.4h1M464.2 264.9h1M464.2 267.2h1M464.2 270.1h1M464.2 390.2h1M464.2 440.7h1M464.2 448.3h1M464.2 470.7h1M464.3 71.1h1M464.3 74.4h1M464.3 173h1M464.3 173.2h1M464.3 263.3h1M464.3 266.5h1M464.3 388.6h1M464.3 390.9h1M464.3 440.4h1M464.3 468.3h1M464.4 58.1h1M464.4 59.7h1M464.4 271.5h1M464.4 271.7h1M464.4 379.2h1M464.4 382.8h1M464.4 390.4h1M464.4 475.2h1M464.5 170.1h1M464.5 176.7h1M464.5 262h1M464.5 263.2h1M464.5 264.2h1M464.5 269.6h1M464.5 387.5h1M464.5 442.8h1M464.5 478.3h1M464.6 73.5h1M464.6 383.2h1M464.6 445.3h1M464.6 467.7h1M464.6 472.4h1M464.7 70.8h1M464.7 167.5h1M464.7 174.5h1M464.7 176.7h1M464.7 264.6h1M464.7 384h1M464.7 384.8h1M464.7 479.3h1M464.8 259.4h1M464.8 260.5h1M464.8 264.9h1M464.8 268.5h1M464.8 269.7h1M464.8 270.2h1M464.8 385.5h1M464.8 472.5h1M464.8 476.5h1M464.8 482.8h1M464.9 70.2h1M464.9 167.8h1M464.9 263.8h1M464.9 266.8h1M464.9 386.2h1M464.9 464.5h1M465 58.7h1M465 167.2h1M465 171h1M465 258.7h1M465.1 174.9h1M465.1 178.1h1M465.1 268.3h1M465.1 377.1h1M465.1 447.3h1M465.1 448.6h1M465.2 60.5h1M465.2 173.4h1M465.2 267h1M465.2 478h1M465.2 478.5h1M465.3 178.8h1M465.3 381.4h1M465.4 58.5h1M465.4 59.3h1M465.4 69.4h1M465.4 171.5h1M465.4 383.1h1M465.4 442.6h1M465.5 390.1h1M465.5 445.5h1M465.5 448.1h1M465.6 378.8h1M465.6 382.9h1M465.6 443h1M465.6 444.8h1M465.6 445.3h1M465.6 474.4h1M465.7 71.7h1M465.7 176.4h1M465.7 177.9h1M465.7 265.6h1M465.7 270.5h1M465.8 59.6h1M465.8 71h1M465.8 175.3h1M465.8 176.5h1M465.8 263h1M465.8 265.7h1M465.8 267.9h1M465.8 476h1M465.9 177.8h1M465.9 264.3h1M465.9 474.6h1M465.9 480.6h1M466 168.9h1M466 271.9h1M466 447h1M466 476.1h1M466.1 60.1h1M466.1 267.8h1M466.1 378.7h1M466.1 383.7h1M466.1 441.7h1M466.1 447.7h1M466.1 482.2h1M466.2 68.6h1M466.3 182.4h1M466.3 262.4h1M466.3 263.6h1M466.3 385.7h1M466.3 445.2h1M466.3 471.8h1M466.4 60.6h1M466.4 61.6h1M466.4 177.8h1M466.4 377.8h1M466.4 449h1M466.5 63.3h1M466.5 63.9h1M466.5 67.8h1M466.5 271.2h1M466.6 59.3h1M466.6 67.1h1M466.6 181.5h1M466.6 265.3h1M466.6 391h1M466.7 63.5h1M466.7 68.9h1M466.7 174.5h1M466.7 387h1M466.7 471.4h1M466.8 57.5h1M466.8 447.7h1M466.9 171.8h1M466.9 269.2h1M466.9 387.1h1M467 66.8h1M467 67.7h1M467 475.7h1M467.1 65h1M467.2 70.8h1M467.2 262.2h1M467.2 390.4h1M467.2 440.9h1M467.2 444.5h1M467.3 269.4h1M467.3 443.3h1M467.3 478.6h1M467.4 64.5h1M467.4 67.8h1M467.4 70.7h1M467.4 177.1h1M467.4 265.4h1M467.5 64.5h1M467.5 172.6h1M467.5 175.8h1M467.5 450.6h1M467.6 66.3h1M467.6 73.1h1M467.6 265.2h1M467.7 385.1h1M467.7 444.5h1M467.7 449.5h1M467.8 59h1M467.8 65.7h1M467.9 380.9h1M468 64.9h1M468.1 61.5h1M468.2 66.8h1M468.2 441.6h1M468.3 68.3h1M468.3 70.4h1M468.3 172.8h1M468.3 445.7h1M468.4 67.6h1M468.5 73.6h1M468.6 381.6h1M468.8 70.1h1M468.8 450.9h1M468.9 447.5h1M469 62.7h1M469.1 177.6h1M469.3 384.4h1M469.3 445.4h1M469.6 69.5h1M469.7 63.3h1M469.8 65.6h1M470.1 447.1h1M470.2 441.6h1M471 361.7h1M471.3 62.8h1M471.9 443.1h1M472 363.9h1M472 444.9h1M473.4 360.6h1M473.5 362.7h1M473.5 363.1h1M474.9 360.8h1M475.1 357.7h1M475.2 360.9h1M475.4 360.2h1M476.3 359h1M476.3 360.1h1M476.7 361.1h1M476.9 359.5h1M477.1 357.5h1M477.2 361.6h1M477.5 356.6h1M477.6 360.6h1M477.9 358.1h1M478.5 356.3h1M478.5 359.5h1M478.7 355.1h1M478.8 355.8h1M478.8 356.4h1M479 360h1M479.1 356h1M479.3 356.5h1M479.4 356.3h1M479.6 356.1h1M479.6 358.6h1M479.7 354.6h1M479.8 357h1M480 355h1M480.1 358.1h1M480.3 354.2h1M481.1 354.6h1M481.1 355.7h1M481.1 357.3h1M481.3 356.5h1M481.3 356.6h1M481.4 355.3h1M481.6 355.6h1M481.7 353.6h1M481.7 355.2h1M481.8 356.3h1M482 355h1M482.2 353.2h1M482.2 355.8h1M482.2 357.9h1M482.3 355.5h1M482.3 358.6h1M482.4 356.1h1M482.7 353.3h1M482.8 354.1h1M483 355.4h1M483.2 354.1h1M483.2 354.9h1M483.3 353.8h1M483.4 356h1M483.5 354.7h1M483.6 355h1M483.7 353h1M483.8 352.9h1M483.8 354.3h1M483.9 351.5h1M484 353.4h1M484 354h1M484.1 351.1h1M484.1 353.8h1M484.1 353.9h1M484.2 354.1h1M484.2 355.7h1M484.4 352.2h1M484.7 355.7h1M485.1 352.4h1M485.1 354.2h1M485.2 351.1h1M485.3 351.1h1M485.3 354.1h1M485.4 354.5h1M485.8 355.2h1M486.1 353.8h1M486.2 353h1M486.4 354h1M486.6 354.5h1M486.7 351.3h1M486.9 351.5h1M486.9 352h1M487 351.6h1M487.2 350.7h1M487.4 350.6h1M487.6 351.3h1M487.6 351.7h1M488.3 350.3h1M488.3 351.6h1M488.4 351.2h1M488.5 349.9h1M488.6 352.1h1M488.9 349.6h1M489 348.5h1M489.2 351.2h1M490 348.3h1M490.1 349.9h1M490.2 347.4h1M490.3 347.1h1M490.5 348.1h1M490.8 348.6h1M491 351.3h1M491.1 348.6h1M491.5 349.2h1M491.7 348.2h1M492.4 349.2h1M492.6 348.3h1M493 347.9h1M493.2 347.5h1M494 348.3h1M494.2 347.8h1M494.3 346.9h1" stroke="#f00" stroke-opacity="0.5" stroke-width="1" transform="translate(0,0.5)"/>
<path d="M242.9 150.5h1M244.4 148.4h1M244.4 150.5h1M244.7 153.4h1M245.2 149.5h1M245.7 146.5h1M245.7 154h1M246 155.2h1M246.1 146.3h1M246.1 149.2h1M246.1 151.2h1M246.3 148h1M246.5 147.2h1M246.6 149.4h1M246.7 153.4h1M247 147.6h1M247.2 149.8h1M247.5 151.2h1M248.4 150.2h1M248.7 148.2h1M248.8 148.9h1M249 146.3h1M249 148h1M249.4 150.1h1M249.4 152.6h1M249.6 153.2h1M249.7 150h1M249.7 151.1h1M249.8 144.4h1M250 150.2h1M250 151.7h1M250.1 148.3h1M250.1 149.8h1M251.3 145.2h1M251.3 148.3h1M251.3 153.8h1M251.4 153.7h1M251.7 151.5h1M252 149.9h1M252 153h1M252.1 151.4h1M252.7 144.8h1M252.8 148.2h1M252.8 153.6h1M253 153.7h1M253.2 154.4h1M253.3 147.1h1M253.5 147.3h1M253.5 148.8h1M255.1 148.1h1M255.2 152.3h1M255.3 153.1h1M255.5 152.5h1M256.5 151.2h1M256.9 148.3h1M257.6 148.7h1M258.4 149.2h1M349 449.7h1M349.5 448.7h1M350 452.3h1M350.4 446.2h1M350.6 444.8h1M350.9 451.6h1M351 445.8h1M351 454.5h1M351.1 451h1M351.9 241.6h1M352.3 443.4h1M352.3 445h1M352.4 454.5h1M352.6 241h1M352.9 447.7h1M353 446.4h1M353.2 237.8h1M353.5 446.3h1M353.5 446.8h1M353.5 453.7h1M353.6 240.9h1M353.9 450.9h1M354 240.7h1M354 450h1M354.1 445.4h1M354.2 450h1M354.2 450.6h1M354.2 453.8h1M354.3 449.6h1M354.3 451.7h1M354.5 451.3h1M354.7 244.7h1M354.7 443.6h1M354.7 447.9h1M354.9 445h1M354.9 446.9h1M354.9 449.5h1M355 443.6h1M355 446.7h1M355.1 237.2h1M355.1 449.8h1M355.2 445.5h1M355.6 450.9h1M355.7 235.9h1M356.3 240.3h1M356.4 237.5h1M356.4 244.4h1M356.5 238.2h1M356.6 452.5h1M356.7 236.6h1M356.7 240.4h1M356.8 234h1M356.8 235.8h1M356.9 445.9h1M356.9 446.7h1M357 445.1h1M357.1 238.5h1M357.1 442.6h1M357.2 447.1h1M357.2 450.7h1M357.2 451.9h1M357.5 233.7h1M357.8 239.1h1M357.9 237.3h1M357.9 239.7h1M357.9 443.7h1M357.9 444.6h1M357.9 448h1M358 446.4h1M358.1 239.8h1M358.1 451.8h1M358.2 239.2h1M358.3 235.4h1M358.3 237.8h1M358.3 441.5h1M358.4 236.4h1M358.4 243.9h1M358.4 446.5h1M358.4 449.8h1M358.6 444.1h1M358.6 450.9h1M358.7 234.7h1M358.8 238.8h1M358.8 440h1M359.3 237.2h1M359.3 237.7h1M359.6 239.7h1M359.7 236.7h1M359.7 237.6h1M359.9 234.7h1M360.1 234.5h1M360.1 237.2h1M360.2 442.5h1M360.5 240.6h1M360.6 237h1M360.6 237.1h1M360.6 442.9h1M360.7 453.9h1M361.1 449.3h1M361.2 239.7h1M361.5 237.1h1M361.5 451.6h1M361.6 445.8h1M361.6 446h1M361.7 237.8h1M361.7 238.3h1M361.7 239h1M361.8 444.1h1M362.1 235.6h1M362.1 238.9h1M362.4 235.2h1M362.5 233.7h1M362.5 236.4h1M362.9 231.7h1M362.9 446.1h1M363.1 449.2h1M363.3 445.4h1M363.5 239.2h1M363.5 245.1h1M363.6 445.5h1M364.4 238.6h1M364.5 444.9h1M364.5 448.2h1M364.9 239.1h1M365.6 239.5h1M365.9 235.8h1M366 239.8h1M367.4 239.4h1M369 237.4h1M369.4 236.2h1" stroke="#f00" stroke-opacity="0.4" stroke-width="1" transform="translate(0,0.5)"/>
<path d="M265.6 174.1h1M266 176.7h1M266.1 172.9h1M266.4 174.2h1M266.8 174.7h1M267.3 173.8h1M267.4 171.8h1M267.6 170.2h1M267.6 171.3h1M267.9 178.2h1M268 173.1h1M268 173.3h1M268.2 173.9h1M268.2 179.1h1M268.3 169.2h1M268.4 171.2h1M268.5 170.2h1M268.5 177.4h1M268.6 168.1h1M268.9 173.2h1M268.9 178.2h1M269.1 176.2h1M269.2 172.3h1M269.3 176h1M269.3 177.3h1M269.6 174.5h1M269.9 174h1M269.9 176.9h1M270 171.9h1M270.1 172.5h1M270.1 172.6h1M270.1 177.9h1M270.2 175.3h1M270.3 172.9h1M270.4 169.9h1M270.4 170.8h1M270.5 173.9h1M270.5 174.3h1M270.6 169.9h1M270.7 169.4h1M270.7 171.9h1M271 167.2h1M271.1 175.6h1M271.3 169.1h1M271.5 171.1h1M271.5 171.9h1M271.6 167.4h1M271.6 174.2h1M271.7 169.2h1M272 171.9h1M272.1 169.4h1M272.2 171.9h1M272.2 172.9h1M272.2 175.3h1M272.3 171.1h1M272.3 173.6h1M272.3 175.8h1M272.4 171.7h1M272.6 170.5h1M272.6 174.7h1M272.6 178.3h1M272.7 170.2h1M272.7 172.8h1M272.7 174.6h1M272.8 170.8h1M272.9 173.7h1M273 170.1h1M273.2 173.4h1M273.2 177.5h1M273.2 178.5h1M273.3 173.5h1M273.3 176.9h1M273.4 168.7h1M273.5 173.2h1M273.6 168.1h1M273.6 170.7h1M273.6 173.2h1M273.6 177.5h1M273.7 166h1M273.7 167.7h1M273.7 168.6h1M273.8 173h1M273.9 166.2h1M273.9 174.1h1M273.9 175h1M274.1 174.5h1M274.2 173.3h1M274.4 177.9h1M274.5 170.8h1M274.5 176h1M274.6 174.2h1M274.7 165.2h1M274.7 172.1h1M274.8 174.1h1M274.8 175.3h1M275 166.7h1M275.1 172.9h1M275.4 167.7h1M275.4 170.3h1M275.9 171.7h1M275.9 174.8h1M276 176.7h1M276.1 169.6h1M276.1 174.1h1M276.1 179.2h1M276.2 176.3h1M276.4 170.1h1M276.4 173.7h1M276.4 173.9h1M276.5 171.5h1M276.5 173h1M276.5 173.1h1M276.5 174.5h1M276.6 171.3h1M276.7 169.7h1M276.8 173.2h1M276.9 170.3h1M276.9 177.9h1M277.1 174.1h1M277.2 165.7h1M277.7 173.3h1M278 165.9h1M278 172.9h1M278 173.5h1M278.1 166.4h1M278.5 168.2h1M278.6 177.4h1M278.7 174h1M279.7 172.1h1M280 171.2h1M280.6 170.2h1" stroke="#3535c0" stroke-opacity="0.5" stroke-width="1" transform="translate(0,0.5)"/>
<path d="M272 141h1M272 142h1M278 141h1M281 142h1M282 142h1M282 147h1M288 142h1M288 148h1M290 153h1M290 155h1M291 156h1M292 151h1M293 157h1M294 145h1M295 140h1M295 145h1M296 154h1M297 141h1" stroke="#aab" stroke-opacity="0.35" stroke-width="1" transform="translate(0,0.5)"/>
<path d="M384.5 172.8h1M385.4 173.4h1M386.6 170.6h1M386.8 175.9h1M387.1 174.7h1M387.2 174.2h1M387.2 174.9h1M387.2 177h1M387.6 173.7h1M387.6 174.2h1M387.7 174.3h1M388.1 174.1h1M388.3 174.8h1M388.4 174.2h1M388.6 172.2h1M388.6 175.2h1M388.7 174.6h1M389.1 175h1M389.3 172.8h1M389.3 173.8h1M389.4 176.4h1M389.9 172.3h1M390 174h1M390 177.3h1M390.1 173.7h1M390.2 175h1M390.5 171.1h1M390.6 171.4h1M390.8 172.3h1M390.9 171.6h1M391 172.5h1M391.2 174.7h1M391.5 172.9h1M391.8 173.8h1M392 173.8h1M392.1 174.3h1M392.4 172.9h1M392.6 173.2h1M392.9 173.8h1M393.5 175.5h1M393.6 172.3h1M393.8 173.8h1M394 171.4h1M394.4 173.6h1M394.6 172.6h1M394.7 173.1h1M395.5 175h1M395.5 176.1h1M395.7 172.2h1M396.7 173.7h1" stroke="#3a3ad0" stroke-opacity="0.45" stroke-width="1" transform="translate(0,0.5)"/>
<path d="M347 474h1M348 474h1M351 481h1M351 487h1M352 479h1M354 484h1M356 469h1M356 470h1M356 480h1M358 487h1M359 469h1M359 477h1M360 483h1M363 465h1M363 487h1M367 471h1M368 472h1M370 140h1M370 480h1M371 367h1M371 467h1M371 471h1M372 142h1M372 359h1M372 367h1M372 465h1M373 351h1M373 483h1M374 478h1M374 482h1M375 159h1M375 360h1M375 364h1M375 469h1M375 481h1M376 485h1M377 164h1M377 353h1M377 364h1M378 166h1M378 360h1M378 366h1M378 484h1M379 142h1M379 144h1M379 150h1M379 158h1M379 361h1M380 357h1M381 355h1M381 366h1M381 478h1M381 480h1M382 363h1M382 483h1M383 149h1M383 150h1M383 160h1M384 144h1M384 477h1M385 144h1M385 163h1M385 365h1M386 151h1M387 166h1M387 470h1M387 479h1M387 488h1M388 168h1M388 359h1M388 363h1M389 366h1M389 466h1M389 483h1M390 358h1M390 366h1M392 487h1M393 143h1M393 152h1M393 158h1M393 159h1M394 149h1M394 166h1M394 357h1M394 360h1M394 480h1M395 163h1M395 363h1M395 465h1M396 146h1M396 351h1M397 486h1M398 163h1M398 167h1M401 142h1M401 164h1M401 367h1M401 475h1M402 351h1M402 355h1M402 472h1M402 479h1M403 362h1M403 487h1M404 353h1" stroke="#f00" stroke-opacity="0.16" stroke-width="1" transform="translate(0,0.5)"/>
<path d="M370.8 165.5h1M373.5 168.9h1M374.4 166.8h1M374.4 168.1h1M375.2 167h1M375.2 172.1h1M375.4 165.6h1M375.5 172.6h1M375.6 167.6h1M376.1 169h1M376.2 169.7h1M376.5 168.7h1M376.7 170.2h1M376.9 166.1h1M377.1 166h1M377.6 162.7h1M377.6 169.2h1M377.7 164.6h1M378 168.2h1M378.4 169.5h1M378.5 165.4h1M378.5 170.2h1M378.7 166.4h1M379.1 166.9h1M379.1 167.6h1M379.2 166.1h1M379.5 165.1h1M379.5 170h1M379.6 169.2h1M379.8 164h1M380.8 166.7h1M380.8 171.1h1M381.2 164h1M381.2 172.3h1M381.3 169h1M381.3 171.7h1M382 170.6h1M383 166.5h1M383.2 166.2h1M383.8 167.6h1M384 166h1M384.2 171.6h1M384.8 170.7h1M385.8 166.9h1M386.5 168.1h1" stroke="#f00" stroke-opacity="0.22" stroke-width="1" transform="translate(0,0.5)"/>
<path d="M472.9 150.6h1M473 150.4h1M473.7 149.8h1M473.8 150.4h1M473.9 148.1h1M474.1 151.1h1M474.3 149.5h1M474.4 149.8h1M474.4 150.2h1M474.7 151.1h1M474.8 150h1M474.9 150.2h1M475.6 148.7h1M476.7 145.6h1M476.7 147.4h1M476.8 146.1h1M476.8 146.6h1M476.8 147.7h1M476.9 147.2h1M476.9 149.5h1M477.2 147.5h1M477.5 147.9h1M477.6 146.2h1M477.9 146.9h1M478.1 145h1M478.1 147.4h1M478.1 147.5h1M478.2 147.9h1M478.5 147.2h1M478.5 147.5h1M478.6 145.9h1M478.7 145.8h1M479 148.2h1M479.1 146.4h1M479.2 145h1M479.5 146.3h1M479.8 146.2h1M480.2 145.8h1M480.4 145.3h1M480.4 145.5h1M480.6 143.5h1M480.9 146.8h1M481 145.2h1M481.1 143h1M481.3 143.2h1M481.4 143.2h1M481.5 145h1" stroke="#5050c0" stroke-opacity="0.4" stroke-width="1" transform="translate(0,0.5)"/>
<path d="M250.2 368.7h1M250.8 367.5h1M251.1 366.2h1M251.6 372.4h1M252.1 369h1M252.8 366h1M253.2 369.7h1M253.7 370.2h1M254.1 368h1M254.1 368.7h1M254.2 366.5h1M254.3 368.1h1M254.9 368.7h1M255.4 368.3h1M255.7 370.1h1M256.4 363.6h1M256.6 367.5h1M256.7 369.2h1M256.7 369.3h1M256.8 366.4h1M257 368h1M257 369.5h1M257.2 368.2h1M257.3 368.1h1M257.5 369h1M257.6 371.3h1M258.2 370.1h1M258.6 369.5h1M258.9 372.2h1M260.6 369.5h1M456 150h1M456 152h1M456 155h1M457 154h1M457 161h1M458 164h1M459 158h1M461 366h1M461 369h1M462 154h1M462 371h1M463 155h1M463 160h1M463 161h1M463 367h1M464 154h1M464 163h1M465 371h1M465 374h1M466 371h1M467 369h1M468 161h1M468 366h1M468 369h1M468 370h1M468 375h1M470 367h1M471 162h1M471 369h1M471 374h1" stroke="#f00" stroke-opacity="0.3" stroke-width="1" transform="translate(0,0.5)"/>
<path d="M247.8 247h1M248.4 248h1M248.7 253.5h1M248.9 251.7h1M249.2 252.2h1M250.7 250.3h1M250.9 249.3h1M251.1 251.4h1M251.3 252.3h1M251.8 248.1h1M252 252.4h1M252 252.8h1M252.1 252.9h1M252.2 254.3h1M252.3 253.8h1M252.5 254.6h1M252.8 252h1M253.1 250.9h1M253.2 249.5h1M253.8 254h1M253.9 255.4h1M254 252.4h1M254.3 251.5h1M254.4 250.5h1M254.4 253.4h1M254.7 253.1h1M254.8 249.6h1M254.8 251.9h1M254.9 248.5h1M254.9 252.8h1M254.9 253.3h1M255.1 249.8h1M255.1 252.4h1M255.2 248.4h1M255.3 251.7h1M255.5 256h1M256.2 250.5h1M256.2 251.3h1M256.4 253.8h1M256.6 252.1h1M257.5 248.9h1M257.8 251.4h1M258.9 248.9h1M259.2 249.8h1M259.6 251.2h1M259.7 250.6h1M260 248.7h1M260.3 249.9h1" stroke="#f00" stroke-opacity="0.35" stroke-width="1" transform="translate(0,0.5)"/>
<path d="M450.8 243.6h1M452.9 243.9h1M453.1 245.2h1M453.4 249.5h1M454.1 246.7h1M455 241.9h1M455.7 243.1h1M455.7 247.8h1M456 246h1M456.6 241.7h1M456.7 244.5h1M457.4 248.8h1M457.9 249.3h1M458.2 243.8h1M458.2 244.5h1M458.3 246.4h1M458.5 246h1M458.7 244.8h1M458.7 245.1h1M459.1 246.3h1M459.1 247.4h1M459.1 249.1h1M459.6 245.8h1M459.9 247.8h1M460 243.1h1M460 245.1h1M460.1 242h1M460.1 249.4h1M460.2 244.8h1M460.4 243.4h1M460.6 241.8h1M460.8 247.6h1M461.2 247.2h1M461.6 243.2h1M461.7 246.8h1M462.2 244.1h1M462.7 246.7h1M462.8 244.9h1M462.9 243.3h1M463 247.8h1M464 243.5h1M464.5 247h1" stroke="#f00" stroke-opacity="0.28" stroke-width="1" transform="translate(0,0.5)"/>
<path d="M266 348h1M270 356h1M270 362h1M270 363h1M273 348h1M274 364h1M274 366h1M275 349h1M276 352h1M277 352h1M277 358h1M280 351h1M282 366h1M283 363h1M285 366h1M285 367h1M286 350h1M287 359h1M289 366h1M291 358h1M291 367h1M292 363h1M295 350h1M297 366h1M297 367h1" stroke="#f00" stroke-opacity="0.18" stroke-width="1" transform="translate(0,0.5)"/>
</g>
<path d="M170.5 33C170.17 31.00 171.42 28.83 173 27.5C174.58 26.17 177.17 25.45 180 25C182.83 24.55 187.17 24.55 190 24.8C192.83 25.05 195.42 25.47 197 26.5C198.58 27.53 199.50 29.33 199.5 31C199.50 32.67 198.58 34.92 197 36.5C195.42 38.08 192.33 39.72 190 40.5C187.67 41.28 185.50 41.37 183 41.2C180.50 41.03 177.08 40.87 175 39.5C172.92 38.13 170.83 35.00 170.5 33Z" fill="none" stroke="#7a4848" stroke-width="0.75"/>
<path d="M165.5 38.2C166.50 38.62 167.80 40.37 169 42C170.20 43.63 172.70 46.53 172.7 48C172.70 49.47 170.78 50.25 169 50.8C167.22 51.35 163.73 51.52 162 51.3C160.27 51.08 158.93 50.72 158.6 49.5C158.27 48.28 159.27 45.67 160 44C160.73 42.33 162.08 40.47 163 39.5C163.92 38.53 164.50 37.78 165.5 38.2Z" fill="none" stroke="#666" stroke-width="0.75"/>
<text x="156.2" y="30.2" font-size="4.0" fill="#333">RBC</text>
<text x="154.6" y="59.5" font-size="4.0" fill="#333">GHOSTS</text>
<path d="M168.2 144C167.87 142.08 169.37 140.23 171 139C172.63 137.77 175.33 137.02 178 136.6C180.67 136.18 184.50 136.18 187 136.5C189.50 136.82 191.73 137.50 193 138.5C194.27 139.50 194.68 141.00 194.6 142.5C194.52 144.00 193.77 146.00 192.5 147.5C191.23 149.00 188.92 150.65 187 151.5C185.08 152.35 183.33 152.77 181 152.6C178.67 152.43 175.13 151.93 173 150.5C170.87 149.07 168.53 145.92 168.2 144Z" fill="none" stroke="#8a6a6a" stroke-width="0.75"/>
<path d="M160.6 152.4C161.65 152.65 163.30 154.40 164.5 156C165.70 157.60 167.72 160.33 167.8 162C167.88 163.67 166.63 165.25 165 166C163.37 166.75 159.78 166.75 158 166.5C156.22 166.25 154.72 165.75 154.3 164.5C153.88 163.25 154.85 160.67 155.5 159C156.15 157.33 157.35 155.60 158.2 154.5C159.05 153.40 159.55 152.15 160.6 152.4Z" fill="none" stroke="#8a7a40" stroke-width="0.75"/>
<text x="158.2" y="141.1" font-size="4.0" fill="#333">RBC</text>
<text x="150.3" y="171" font-size="4.0" fill="#333">GHOSTS</text>
<path d="M164.5 233C164.42 231.67 165.42 230.00 166.5 229C167.58 228.00 169.08 227.53 171 227C172.92 226.47 175.83 226.03 178 225.8C180.17 225.57 182.17 225.23 184 225.6C185.83 225.97 187.40 226.93 189 228C190.60 229.07 193.60 230.75 193.6 232C193.60 233.25 190.93 234.58 189 235.5C187.07 236.42 184.50 237.08 182 237.5C179.50 237.92 176.50 238.08 174 238C171.50 237.92 168.58 237.83 167 237C165.42 236.17 164.58 234.33 164.5 233Z" fill="none" stroke="#4a8a5a" stroke-width="0.75"/>
<path d="M181 225.6C186 225.6 190 228.5 193.6 232C190 235 186 236.8 182 237.5" fill="none" stroke="#b07070" stroke-width="0.75"/>
<path d="M160 239.2C161.58 239.12 164.20 239.37 165.5 240.5C166.80 241.63 167.72 244.17 167.8 246C167.88 247.83 167.47 250.22 166 251.5C164.53 252.78 161.00 253.70 159 253.7C157.00 253.70 154.95 252.78 154 251.5C153.05 250.22 152.97 247.75 153.3 246C153.63 244.25 154.88 242.13 156 241C157.12 239.87 158.42 239.28 160 239.2Z" fill="none" stroke="#777" stroke-width="0.75"/>
<text x="154.5" y="230" font-size="4.0" fill="#333">RBC</text>
<text x="148.7" y="259.6" font-size="4.0" fill="#333">GHOSTS</text>
<path d="M169.5 351C169.75 349.53 170.25 347.63 172 346.7C173.75 345.77 177.00 345.62 180 345.4C183.00 345.18 187.28 344.88 190 345.4C192.72 345.92 195.17 347.23 196.3 348.5C197.43 349.77 197.35 351.50 196.8 353C196.25 354.50 194.80 356.08 193 357.5C191.20 358.92 188.00 360.72 186 361.5C184.00 362.28 182.83 362.53 181 362.2C179.17 361.87 176.75 360.62 175 359.5C173.25 358.38 171.42 356.92 170.5 355.5C169.58 354.08 169.25 352.47 169.5 351Z" fill="none" stroke="#8a6060" stroke-width="0.75"/>
<path d="M162.5 360.2C163.58 360.53 165.20 362.03 166.5 363.5C167.80 364.97 170.05 367.37 170.3 369C170.55 370.63 169.72 372.48 168 373.3C166.28 374.12 161.95 374.28 160 373.9C158.05 373.52 156.72 372.32 156.3 371C155.88 369.68 156.88 367.58 157.5 366C158.12 364.42 159.17 362.47 160 361.5C160.83 360.53 161.42 359.87 162.5 360.2Z" fill="none" stroke="#6a6a90" stroke-width="0.75"/>
<text x="159.3" y="350.4" font-size="4.0" fill="#333">RBC</text>
<text x="151.3" y="379.4" font-size="4.0" fill="#333">GHOSTS</text>
<path d="M163.8 443.5C163.55 442.22 164.38 440.58 165.5 439.5C166.62 438.42 168.25 437.67 170.5 437C172.75 436.33 176.33 435.97 179 435.5C181.67 435.03 184.63 434.03 186.5 434.2C188.37 434.37 189.48 435.37 190.2 436.5C190.92 437.63 191.33 439.42 190.8 441C190.27 442.58 189.13 444.95 187 446C184.87 447.05 181.33 447.10 178 447.3C174.67 447.50 169.37 447.83 167 447.2C164.63 446.57 164.05 444.78 163.8 443.5Z" fill="none" stroke="#5a7a7a" stroke-width="0.75"/>
<path d="M157 451C158.67 451.00 162.30 450.83 163.5 452C164.70 453.17 164.62 456.00 164.2 458C163.78 460.00 162.87 462.80 161 464C159.13 465.20 154.95 465.53 153 465.2C151.05 464.87 149.63 463.53 149.3 462C148.97 460.47 150.30 457.67 151 456C151.70 454.33 152.50 452.83 153.5 452C154.50 451.17 155.33 451.00 157 451Z" fill="none" stroke="#666" stroke-width="0.75"/>
<text x="152" y="438.7" font-size="4.0" fill="#333">RBC</text>
<text x="144" y="470" font-size="4.0" fill="#333">GHOSTS</text>
<rect x="128.5" y="23.5" width="73.0" height="54.0" fill="none" stroke="#9a9a9a" stroke-width="1"/>
<path d="M128.5 25.5V77.5H199.5" fill="none" stroke="#555" stroke-width="1"/>
<path d="M126.7 28.8h1.8M127.5 36.8h1M127.5 34.7h1M127.5 33.3h1M127.5 32.2h1M127.5 31.3h1M127.5 30.6h1M127.5 29.9h1M127.5 29.3h1M126.7 40.2h1.8M127.5 48.1h1M127.5 46.1h1M127.5 44.7h1M127.5 43.6h1M127.5 42.7h1M127.5 41.9h1M127.5 41.3h1M127.5 40.7h1M126.7 51.5h1.8M127.5 59.5h1M127.5 57.5h1M127.5 56.1h1M127.5 55.0h1M127.5 54.1h1M127.5 53.3h1M127.5 52.7h1M127.5 52.1h1M126.7 62.9h1.8M127.5 70.9h1M127.5 68.9h1M127.5 67.5h1M127.5 66.3h1M127.5 65.4h1M127.5 64.7h1M127.5 64.0h1M127.5 63.4h1M126.7 74.3h1.8M130.0 77v1.8M134.9 77v1M137.8 77v1M139.9 77v1M141.4 77v1M142.7 77v1M143.8 77v1M144.8 77v1M145.6 77v1M146.4 77v1.8M151.3 77v1M154.2 77v1M156.2 77v1M157.8 77v1M159.1 77v1M160.2 77v1M161.2 77v1M162.0 77v1M162.8 77v1.8M167.7 77v1M170.6 77v1M172.6 77v1M174.2 77v1M175.5 77v1M176.6 77v1M177.5 77v1M178.4 77v1M179.1 77v1.8M184.1 77v1M186.9 77v1M189.0 77v1M190.6 77v1M191.9 77v1M193.0 77v1M193.9 77v1M194.8 77v1M195.5 77v1.8" stroke="#333" stroke-width="0.75" fill="none"/>
<text transform="translate(124.9,28.8) rotate(-90)" font-size="3.6" text-anchor="middle" fill="#444">10<tspan dy="-1.1" font-size="2.5">5</tspan></text>
<text transform="translate(124.9,40.17) rotate(-90)" font-size="3.6" text-anchor="middle" fill="#444">10<tspan dy="-1.1" font-size="2.5">4</tspan></text>
<text transform="translate(124.9,51.55) rotate(-90)" font-size="3.6" text-anchor="middle" fill="#444">10<tspan dy="-1.1" font-size="2.5">3</tspan></text>
<text transform="translate(124.9,62.92) rotate(-90)" font-size="3.6" text-anchor="middle" fill="#444">10<tspan dy="-1.1" font-size="2.5">2</tspan></text>
<text transform="translate(124.9,74.3) rotate(-90)" font-size="3.6" text-anchor="middle" fill="#444">10<tspan dy="-1.1" font-size="2.5">1</tspan></text>
<text x="130.0" y="83.6" font-size="3.6" text-anchor="middle" fill="#444">10<tspan dy="-1.1" font-size="2.5">1</tspan></text>
<text x="146.38" y="83.6" font-size="3.6" text-anchor="middle" fill="#444">10<tspan dy="-1.1" font-size="2.5">2</tspan></text>
<text x="162.75" y="83.6" font-size="3.6" text-anchor="middle" fill="#444">10<tspan dy="-1.1" font-size="2.5">3</tspan></text>
<text x="179.12" y="83.6" font-size="3.6" text-anchor="middle" fill="#444">10<tspan dy="-1.1" font-size="2.5">4</tspan></text>
<text x="195.5" y="83.6" font-size="3.6" text-anchor="middle" fill="#444">10<tspan dy="-1.1" font-size="2.5">5</tspan></text>
<text transform="translate(119.7,50.0) rotate(-90)" font-size="3.7" text-anchor="middle" fill="#444">FSC-A</text>
<text x="164.75" y="88.4" font-size="3.7" text-anchor="middle" fill="#444">SSC-A</text>
<rect x="129.5" y="134.5" width="67.0" height="55.0" fill="none" stroke="#9a9a9a" stroke-width="1"/>
<path d="M129.5 136.5V189.5H194.5" fill="none" stroke="#555" stroke-width="1"/>
<path d="M127.7 140.3h1.8M128.5 148.4h1M128.5 146.4h1M128.5 144.9h1M128.5 143.8h1M128.5 142.9h1M128.5 142.1h1M128.5 141.4h1M128.5 140.8h1M127.7 151.9h1.8M128.5 160.1h1M128.5 158.0h1M128.5 156.6h1M128.5 155.4h1M128.5 154.5h1M128.5 153.7h1M128.5 153.1h1M128.5 152.5h1M127.7 163.6h1.8M128.5 171.7h1M128.5 169.6h1M128.5 168.2h1M128.5 167.0h1M128.5 166.1h1M128.5 165.4h1M128.5 164.7h1M128.5 164.1h1M127.7 175.2h1.8M128.5 183.3h1M128.5 181.3h1M128.5 179.8h1M128.5 178.7h1M128.5 177.8h1M128.5 177.0h1M128.5 176.3h1M128.5 175.7h1M127.7 186.8h1.8M131.0 189.5v1.8M135.5 189.5v1M138.2 189.5v1M140.0 189.5v1M141.5 189.5v1M142.7 189.5v1M143.7 189.5v1M144.5 189.5v1M145.3 189.5v1M146.0 189.5v1.8M150.5 189.5v1M153.2 189.5v1M155.0 189.5v1M156.5 189.5v1M157.7 189.5v1M158.7 189.5v1M159.5 189.5v1M160.3 189.5v1M161.0 189.5v1.8M165.5 189.5v1M168.2 189.5v1M170.0 189.5v1M171.5 189.5v1M172.7 189.5v1M173.7 189.5v1M174.5 189.5v1M175.3 189.5v1M176.0 189.5v1.8M180.5 189.5v1M183.2 189.5v1M185.0 189.5v1M186.5 189.5v1M187.7 189.5v1M188.7 189.5v1M189.5 189.5v1M190.3 189.5v1M191.0 189.5v1.8" stroke="#333" stroke-width="0.75" fill="none"/>
<text transform="translate(125.9,140.3) rotate(-90)" font-size="3.6" text-anchor="middle" fill="#444">10<tspan dy="-1.1" font-size="2.5">5</tspan></text>
<text transform="translate(125.9,151.93) rotate(-90)" font-size="3.6" text-anchor="middle" fill="#444">10<tspan dy="-1.1" font-size="2.5">4</tspan></text>
<text transform="translate(125.9,163.55) rotate(-90)" font-size="3.6" text-anchor="middle" fill="#444">10<tspan dy="-1.1" font-size="2.5">3</tspan></text>
<text transform="translate(125.9,175.18) rotate(-90)" font-size="3.6" text-anchor="middle" fill="#444">10<tspan dy="-1.1" font-size="2.5">2</tspan></text>
<text transform="translate(125.9,186.8) rotate(-90)" font-size="3.6" text-anchor="middle" fill="#444">10<tspan dy="-1.1" font-size="2.5">1</tspan></text>
<text x="131.0" y="196.1" font-size="3.6" text-anchor="middle" fill="#444">10<tspan dy="-1.1" font-size="2.5">1</tspan></text>
<text x="146.0" y="196.1" font-size="3.6" text-anchor="middle" fill="#444">10<tspan dy="-1.1" font-size="2.5">2</tspan></text>
<text x="161.0" y="196.1" font-size="3.6" text-anchor="middle" fill="#444">10<tspan dy="-1.1" font-size="2.5">3</tspan></text>
<text x="176.0" y="196.1" font-size="3.6" text-anchor="middle" fill="#444">10<tspan dy="-1.1" font-size="2.5">4</tspan></text>
<text x="191.0" y="196.1" font-size="3.6" text-anchor="middle" fill="#444">10<tspan dy="-1.1" font-size="2.5">5</tspan></text>
<text transform="translate(120.7,162.0) rotate(-90)" font-size="3.7" text-anchor="middle" fill="#444">FSC-A</text>
<text x="163.0" y="200.9" font-size="3.7" text-anchor="middle" fill="#444">SSC-A</text>
<rect x="127.5" y="224.5" width="70.0" height="56.0" fill="none" stroke="#9a9a9a" stroke-width="1"/>
<path d="M127.5 226.5V280.5H195.5" fill="none" stroke="#555" stroke-width="1"/>
<path d="M125.7 229.8h1.8M126.5 238.2h1M126.5 236.1h1M126.5 234.6h1M126.5 233.4h1M126.5 232.5h1M126.5 231.7h1M126.5 231.0h1M126.5 230.3h1M125.7 241.8h1.8M126.5 250.2h1M126.5 248.1h1M126.5 246.6h1M126.5 245.4h1M126.5 244.5h1M126.5 243.7h1M126.5 243.0h1M126.5 242.3h1M125.7 253.8h1.8M126.5 262.2h1M126.5 260.1h1M126.5 258.6h1M126.5 257.4h1M126.5 256.5h1M126.5 255.7h1M126.5 255.0h1M126.5 254.3h1M125.7 265.8h1.8M126.5 274.2h1M126.5 272.1h1M126.5 270.6h1M126.5 269.4h1M126.5 268.5h1M126.5 267.7h1M126.5 267.0h1M126.5 266.3h1M125.7 277.8h1.8M129.0 280.5v1.8M133.7 280.5v1M136.5 280.5v1M138.5 280.5v1M140.0 280.5v1M141.3 280.5v1M142.3 280.5v1M143.2 280.5v1M144.0 280.5v1M144.8 280.5v1.8M149.5 280.5v1M152.3 280.5v1M154.2 280.5v1M155.8 280.5v1M157.0 280.5v1M158.1 280.5v1M159.0 280.5v1M159.8 280.5v1M160.5 280.5v1.8M165.2 280.5v1M168.0 280.5v1M170.0 280.5v1M171.5 280.5v1M172.8 280.5v1M173.8 280.5v1M174.7 280.5v1M175.5 280.5v1M176.2 280.5v1.8M181.0 280.5v1M183.8 280.5v1M185.7 280.5v1M187.3 280.5v1M188.5 280.5v1M189.6 280.5v1M190.5 280.5v1M191.3 280.5v1M192.0 280.5v1.8" stroke="#333" stroke-width="0.75" fill="none"/>
<text transform="translate(123.9,229.8) rotate(-90)" font-size="3.6" text-anchor="middle" fill="#444">10<tspan dy="-1.1" font-size="2.5">5</tspan></text>
<text transform="translate(123.9,241.8) rotate(-90)" font-size="3.6" text-anchor="middle" fill="#444">10<tspan dy="-1.1" font-size="2.5">4</tspan></text>
<text transform="translate(123.9,253.8) rotate(-90)" font-size="3.6" text-anchor="middle" fill="#444">10<tspan dy="-1.1" font-size="2.5">3</tspan></text>
<text transform="translate(123.9,265.8) rotate(-90)" font-size="3.6" text-anchor="middle" fill="#444">10<tspan dy="-1.1" font-size="2.5">2</tspan></text>
<text transform="translate(123.9,277.8) rotate(-90)" font-size="3.6" text-anchor="middle" fill="#444">10<tspan dy="-1.1" font-size="2.5">1</tspan></text>
<text x="129.0" y="287.1" font-size="3.6" text-anchor="middle" fill="#444">10<tspan dy="-1.1" font-size="2.5">1</tspan></text>
<text x="144.75" y="287.1" font-size="3.6" text-anchor="middle" fill="#444">10<tspan dy="-1.1" font-size="2.5">2</tspan></text>
<text x="160.5" y="287.1" font-size="3.6" text-anchor="middle" fill="#444">10<tspan dy="-1.1" font-size="2.5">3</tspan></text>
<text x="176.25" y="287.1" font-size="3.6" text-anchor="middle" fill="#444">10<tspan dy="-1.1" font-size="2.5">4</tspan></text>
<text x="192.0" y="287.1" font-size="3.6" text-anchor="middle" fill="#444">10<tspan dy="-1.1" font-size="2.5">5</tspan></text>
<text transform="translate(118.7,252.25) rotate(-90)" font-size="3.7" text-anchor="middle" fill="#444">FSC-A</text>
<text x="162.5" y="291.9" font-size="3.7" text-anchor="middle" fill="#444">SSC-A</text>
<rect x="129.5" y="343.5" width="69.0" height="56.0" fill="none" stroke="#9a9a9a" stroke-width="1"/>
<path d="M129.5 345.5V399.5H196.5" fill="none" stroke="#555" stroke-width="1"/>
<path d="M127.7 349.3h1.8M128.5 357.6h1M128.5 355.5h1M128.5 354.0h1M128.5 352.9h1M128.5 351.9h1M128.5 351.1h1M128.5 350.5h1M128.5 349.8h1M127.7 361.2h1.8M128.5 369.5h1M128.5 367.4h1M128.5 365.9h1M128.5 364.7h1M128.5 363.8h1M128.5 363.0h1M128.5 362.3h1M128.5 361.7h1M127.7 373.1h1.8M128.5 381.4h1M128.5 379.3h1M128.5 377.8h1M128.5 376.6h1M128.5 375.7h1M128.5 374.9h1M128.5 374.2h1M128.5 373.6h1M127.7 384.9h1.8M128.5 393.2h1M128.5 391.1h1M128.5 389.7h1M128.5 388.5h1M128.5 387.6h1M128.5 386.8h1M128.5 386.1h1M128.5 385.5h1M127.7 396.8h1.8M131.0 399.5v1.8M135.7 399.5v1M138.4 399.5v1M140.3 399.5v1M141.8 399.5v1M143.1 399.5v1M144.1 399.5v1M145.0 399.5v1M145.8 399.5v1M146.5 399.5v1.8M151.2 399.5v1M153.9 399.5v1M155.8 399.5v1M157.3 399.5v1M158.6 399.5v1M159.6 399.5v1M160.5 399.5v1M161.3 399.5v1M162.0 399.5v1.8M166.7 399.5v1M169.4 399.5v1M171.3 399.5v1M172.8 399.5v1M174.1 399.5v1M175.1 399.5v1M176.0 399.5v1M176.8 399.5v1M177.5 399.5v1.8M182.2 399.5v1M184.9 399.5v1M186.8 399.5v1M188.3 399.5v1M189.6 399.5v1M190.6 399.5v1M191.5 399.5v1M192.3 399.5v1M193.0 399.5v1.8" stroke="#333" stroke-width="0.75" fill="none"/>
<text transform="translate(125.9,349.3) rotate(-90)" font-size="3.6" text-anchor="middle" fill="#444">10<tspan dy="-1.1" font-size="2.5">5</tspan></text>
<text transform="translate(125.9,361.18) rotate(-90)" font-size="3.6" text-anchor="middle" fill="#444">10<tspan dy="-1.1" font-size="2.5">4</tspan></text>
<text transform="translate(125.9,373.05) rotate(-90)" font-size="3.6" text-anchor="middle" fill="#444">10<tspan dy="-1.1" font-size="2.5">3</tspan></text>
<text transform="translate(125.9,384.93) rotate(-90)" font-size="3.6" text-anchor="middle" fill="#444">10<tspan dy="-1.1" font-size="2.5">2</tspan></text>
<text transform="translate(125.9,396.8) rotate(-90)" font-size="3.6" text-anchor="middle" fill="#444">10<tspan dy="-1.1" font-size="2.5">1</tspan></text>
<text x="131.0" y="406.1" font-size="3.6" text-anchor="middle" fill="#444">10<tspan dy="-1.1" font-size="2.5">1</tspan></text>
<text x="146.5" y="406.1" font-size="3.6" text-anchor="middle" fill="#444">10<tspan dy="-1.1" font-size="2.5">2</tspan></text>
<text x="162.0" y="406.1" font-size="3.6" text-anchor="middle" fill="#444">10<tspan dy="-1.1" font-size="2.5">3</tspan></text>
<text x="177.5" y="406.1" font-size="3.6" text-anchor="middle" fill="#444">10<tspan dy="-1.1" font-size="2.5">4</tspan></text>
<text x="193.0" y="406.1" font-size="3.6" text-anchor="middle" fill="#444">10<tspan dy="-1.1" font-size="2.5">5</tspan></text>
<text transform="translate(120.7,371.5) rotate(-90)" font-size="3.7" text-anchor="middle" fill="#444">FSC-A</text>
<text x="164.0" y="410.9" font-size="3.7" text-anchor="middle" fill="#444">SSC-A</text>
<rect x="127.5" y="433.5" width="70.0" height="56.0" fill="none" stroke="#9a9a9a" stroke-width="1"/>
<path d="M127.5 435.5V489.5H195.5" fill="none" stroke="#555" stroke-width="1"/>
<path d="M125.7 439.3h1.8M126.5 447.6h1M126.5 445.5h1M126.5 444.0h1M126.5 442.9h1M126.5 441.9h1M126.5 441.1h1M126.5 440.5h1M126.5 439.8h1M125.7 451.2h1.8M126.5 459.5h1M126.5 457.4h1M126.5 455.9h1M126.5 454.8h1M126.5 453.8h1M126.5 453.0h1M126.5 452.4h1M126.5 451.7h1M125.7 463.1h1.8M126.5 471.4h1M126.5 469.3h1M126.5 467.8h1M126.5 466.7h1M126.5 465.7h1M126.5 464.9h1M126.5 464.3h1M126.5 463.6h1M125.7 475.0h1.8M126.5 483.3h1M126.5 481.2h1M126.5 479.7h1M126.5 478.6h1M126.5 477.6h1M126.5 476.8h1M126.5 476.2h1M126.5 475.5h1M125.7 486.9h1.8M129.0 489.6v1.8M133.7 489.6v1M136.5 489.6v1M138.4 489.6v1M139.9 489.6v1M141.2 489.6v1M142.2 489.6v1M143.1 489.6v1M143.9 489.6v1M144.6 489.6v1.8M149.3 489.6v1M152.1 489.6v1M154.0 489.6v1M155.5 489.6v1M156.8 489.6v1M157.8 489.6v1M158.7 489.6v1M159.5 489.6v1M160.2 489.6v1.8M165.0 489.6v1M167.7 489.6v1M169.7 489.6v1M171.2 489.6v1M172.4 489.6v1M173.5 489.6v1M174.4 489.6v1M175.2 489.6v1M175.9 489.6v1.8M180.6 489.6v1M183.3 489.6v1M185.3 489.6v1M186.8 489.6v1M188.0 489.6v1M189.1 489.6v1M190.0 489.6v1M190.8 489.6v1M191.5 489.6v1.8" stroke="#333" stroke-width="0.75" fill="none"/>
<text transform="translate(123.9,439.3) rotate(-90)" font-size="3.6" text-anchor="middle" fill="#444">10<tspan dy="-1.1" font-size="2.5">5</tspan></text>
<text transform="translate(123.9,451.2) rotate(-90)" font-size="3.6" text-anchor="middle" fill="#444">10<tspan dy="-1.1" font-size="2.5">4</tspan></text>
<text transform="translate(123.9,463.1) rotate(-90)" font-size="3.6" text-anchor="middle" fill="#444">10<tspan dy="-1.1" font-size="2.5">3</tspan></text>
<text transform="translate(123.9,475.0) rotate(-90)" font-size="3.6" text-anchor="middle" fill="#444">10<tspan dy="-1.1" font-size="2.5">2</tspan></text>
<text transform="translate(123.9,486.9) rotate(-90)" font-size="3.6" text-anchor="middle" fill="#444">10<tspan dy="-1.1" font-size="2.5">1</tspan></text>
<text x="129.0" y="496.2" font-size="3.6" text-anchor="middle" fill="#444">10<tspan dy="-1.1" font-size="2.5">1</tspan></text>
<text x="144.62" y="496.2" font-size="3.6" text-anchor="middle" fill="#444">10<tspan dy="-1.1" font-size="2.5">2</tspan></text>
<text x="160.25" y="496.2" font-size="3.6" text-anchor="middle" fill="#444">10<tspan dy="-1.1" font-size="2.5">3</tspan></text>
<text x="175.88" y="496.2" font-size="3.6" text-anchor="middle" fill="#444">10<tspan dy="-1.1" font-size="2.5">4</tspan></text>
<text x="191.5" y="496.2" font-size="3.6" text-anchor="middle" fill="#444">10<tspan dy="-1.1" font-size="2.5">5</tspan></text>
<text transform="translate(118.7,461.55) rotate(-90)" font-size="3.7" text-anchor="middle" fill="#444">FSC-A</text>
<text x="162.25" y="501.0" font-size="3.7" text-anchor="middle" fill="#444">SSC-A</text>
<path d="M268.5 23.5V77.5M238.5 48.5H301.5" stroke="#858585" stroke-width="1" fill="none"/>
<rect x="238.5" y="23.5" width="63.0" height="54.0" fill="none" stroke="#9a9a9a" stroke-width="1"/>
<path d="M238.5 25.5V77.5H299.5" fill="none" stroke="#555" stroke-width="1"/>
<text x="241.5" y="29" font-size="4.2" text-anchor="start" fill="#444">Q1</text>
<text x="300.0" y="29" font-size="4.2" text-anchor="end" fill="#444">Q2</text>
<text x="241.5" y="74.0" font-size="4.2" text-anchor="start" fill="#444">Q3</text>
<text x="300.0" y="74.0" font-size="4.2" text-anchor="end" fill="#444">Q4</text>
<path d="M236.7 28.8h1.8M237.5 36.8h1M237.5 34.8h1M237.5 33.4h1M237.5 32.3h1M237.5 31.4h1M237.5 30.6h1M237.5 29.9h1M237.5 29.3h1M236.7 40.3h1.8M237.5 48.3h1M237.5 46.3h1M237.5 44.9h1M237.5 43.8h1M237.5 42.9h1M237.5 42.1h1M237.5 41.4h1M237.5 40.8h1M236.7 51.8h1.8M237.5 59.8h1M237.5 57.8h1M237.5 56.4h1M237.5 55.3h1M237.5 54.4h1M237.5 53.6h1M237.5 52.9h1M237.5 52.3h1M236.7 63.3h1.8M237.5 71.3h1M237.5 69.3h1M237.5 67.9h1M237.5 66.8h1M237.5 65.9h1M237.5 65.1h1M237.5 64.4h1M237.5 63.8h1M236.7 74.8h1.8M239.0 77.5v1.8M242.6 77.5v1M244.7 77.5v1M246.2 77.5v1M247.4 77.5v1M248.3 77.5v1M249.1 77.5v1M249.8 77.5v1M250.5 77.5v1M251.0 77.5v1.8M255.5 77.5v1M258.2 77.5v1M260.0 77.5v1M261.5 77.5v1M262.7 77.5v1M263.7 77.5v1M264.5 77.5v1M265.3 77.5v1M266.0 77.5v1.8M270.5 77.5v1M273.2 77.5v1M275.0 77.5v1M276.5 77.5v1M277.7 77.5v1M278.7 77.5v1M279.5 77.5v1M280.3 77.5v1M281.0 77.5v1.8M285.5 77.5v1M288.2 77.5v1M290.0 77.5v1M291.5 77.5v1M292.7 77.5v1M293.7 77.5v1M294.5 77.5v1M295.3 77.5v1M296.0 77.5v1.8" stroke="#333" stroke-width="0.75" fill="none"/>
<text transform="translate(234.9,28.8) rotate(-90)" font-size="3.6" text-anchor="middle" fill="#444">10<tspan dy="-1.1" font-size="2.5">5</tspan></text>
<text transform="translate(234.9,40.3) rotate(-90)" font-size="3.6" text-anchor="middle" fill="#444">10<tspan dy="-1.1" font-size="2.5">4</tspan></text>
<text transform="translate(234.9,51.8) rotate(-90)" font-size="3.6" text-anchor="middle" fill="#444">10<tspan dy="-1.1" font-size="2.5">3</tspan></text>
<text transform="translate(234.9,63.3) rotate(-90)" font-size="3.6" text-anchor="middle" fill="#444">0</text>
<text transform="translate(234.9,74.8) rotate(-90)" font-size="3.6" text-anchor="middle" fill="#444">-336</text>
<text x="239.0" y="85.1" font-size="3.6" text-anchor="middle" fill="#444">-974</text>
<text x="251.0" y="85.1" font-size="3.6" text-anchor="middle" fill="#444">0</text>
<text x="266.0" y="85.1" font-size="3.6" text-anchor="middle" fill="#444">10<tspan dy="-1.1" font-size="2.5">3</tspan></text>
<text x="281.0" y="85.1" font-size="3.6" text-anchor="middle" fill="#444">10<tspan dy="-1.1" font-size="2.5">4</tspan></text>
<text x="296.0" y="85.1" font-size="3.6" text-anchor="middle" fill="#444">10<tspan dy="-1.1" font-size="2.5">5</tspan></text>
<text transform="translate(229.5,50.25) rotate(-90)" font-size="3.7" text-anchor="middle" fill="#444">CD59 APC-A</text>
<text x="270.0" y="88.9" font-size="3.7" text-anchor="middle" fill="#444">7C12 FITC-A</text>
<path d="M372.5 23.5V78.5M342.5 52.5H406.5" stroke="#858585" stroke-width="1" fill="none"/>
<rect x="342.5" y="23.5" width="64.0" height="55.0" fill="none" stroke="#9a9a9a" stroke-width="1"/>
<path d="M342.5 25.5V78.5H404.5" fill="none" stroke="#555" stroke-width="1"/>
<text x="360.5" y="45.7" font-size="4.2" text-anchor="middle" fill="#444">Q1-1</text>
<text x="383" y="45.7" font-size="4.2" text-anchor="middle" fill="#444">Q2-1</text>
<text x="360.5" y="63.5" font-size="4.2" text-anchor="middle" fill="#444">Q3-1</text>
<text x="383" y="63.5" font-size="4.2" text-anchor="middle" fill="#444">Q4-1</text>
<path d="M340.7 28.8h1.8M341.5 36.9h1M341.5 34.9h1M341.5 33.4h1M341.5 32.3h1M341.5 31.4h1M341.5 30.6h1M341.5 29.9h1M341.5 29.3h1M340.7 40.4h1.8M341.5 48.6h1M341.5 46.5h1M341.5 45.1h1M341.5 43.9h1M341.5 43.0h1M341.5 42.2h1M341.5 41.6h1M341.5 41.0h1M340.7 52.0h1.8M341.5 60.2h1M341.5 58.1h1M341.5 56.7h1M341.5 55.5h1M341.5 54.6h1M341.5 53.9h1M341.5 53.2h1M341.5 52.6h1M340.7 63.7h1.8M341.5 71.8h1M341.5 69.8h1M341.5 68.3h1M341.5 67.2h1M341.5 66.3h1M341.5 65.5h1M341.5 64.8h1M341.5 64.2h1M340.7 75.3h1.8M343.0 78v1.8M346.6 78v1M348.7 78v1M350.2 78v1M351.4 78v1M352.3 78v1M353.1 78v1M353.8 78v1M354.5 78v1M355.0 78v1.8M359.5 78v1M362.2 78v1M364.0 78v1M365.5 78v1M366.7 78v1M367.7 78v1M368.5 78v1M369.3 78v1M370.0 78v1.8M374.5 78v1M377.2 78v1M379.0 78v1M380.5 78v1M381.7 78v1M382.7 78v1M383.5 78v1M384.3 78v1M385.0 78v1.8M389.5 78v1M392.2 78v1M394.0 78v1M395.5 78v1M396.7 78v1M397.7 78v1M398.5 78v1M399.3 78v1M400.0 78v1.8" stroke="#333" stroke-width="0.75" fill="none"/>
<text transform="translate(338.9,28.8) rotate(-90)" font-size="3.6" text-anchor="middle" fill="#444">10<tspan dy="-1.1" font-size="2.5">5</tspan></text>
<text transform="translate(338.9,40.42) rotate(-90)" font-size="3.6" text-anchor="middle" fill="#444">10<tspan dy="-1.1" font-size="2.5">4</tspan></text>
<text transform="translate(338.9,52.05) rotate(-90)" font-size="3.6" text-anchor="middle" fill="#444">10<tspan dy="-1.1" font-size="2.5">3</tspan></text>
<text transform="translate(338.9,63.67) rotate(-90)" font-size="3.6" text-anchor="middle" fill="#444">0</text>
<text transform="translate(338.9,75.3) rotate(-90)" font-size="3.6" text-anchor="middle" fill="#444">-336</text>
<text x="343.0" y="85.6" font-size="3.6" text-anchor="middle" fill="#444">-436</text>
<text x="355.0" y="85.6" font-size="3.6" text-anchor="middle" fill="#444">0</text>
<text x="370.0" y="85.6" font-size="3.6" text-anchor="middle" fill="#444">10<tspan dy="-1.1" font-size="2.5">3</tspan></text>
<text x="385.0" y="85.6" font-size="3.6" text-anchor="middle" fill="#444">10<tspan dy="-1.1" font-size="2.5">4</tspan></text>
<text x="400.0" y="85.6" font-size="3.6" text-anchor="middle" fill="#444">10<tspan dy="-1.1" font-size="2.5">5</tspan></text>
<text transform="translate(333.5,50.5) rotate(-90)" font-size="3.7" text-anchor="middle" fill="#444">CD59 APC-A</text>
<text x="374.5" y="89.4" font-size="3.7" text-anchor="middle" fill="#444">A702-STREPT PE-A</text>
<path d="M471.5 22.5V77.5M448.5 53.5H513.5" stroke="#858585" stroke-width="1" fill="none"/>
<rect x="448.5" y="22.5" width="65.0" height="55.0" fill="none" stroke="#9a9a9a" stroke-width="1"/>
<path d="M448.5 24.5V77.5H511.5" fill="none" stroke="#555" stroke-width="1"/>
<text x="460.8" y="47.1" font-size="4.2" text-anchor="middle" fill="#444">Q1-2</text>
<text x="483.8" y="47.1" font-size="4.2" text-anchor="middle" fill="#444">Q2-2</text>
<text x="460.8" y="64.4" font-size="4.2" text-anchor="middle" fill="#444">Q3-2</text>
<text x="483.8" y="64.4" font-size="4.2" text-anchor="middle" fill="#444">Q4-2</text>
<path d="M446.2 28.3h1.8M447.0 36.4h1M447.0 34.4h1M447.0 32.9h1M447.0 31.8h1M447.0 30.9h1M447.0 30.1h1M447.0 29.4h1M447.0 28.8h1M446.2 39.9h1.8M447.0 48.1h1M447.0 46.0h1M447.0 44.6h1M447.0 43.4h1M447.0 42.5h1M447.0 41.7h1M447.0 41.1h1M447.0 40.5h1M446.2 51.5h1.8M447.0 59.7h1M447.0 57.6h1M447.0 56.2h1M447.0 55.0h1M447.0 54.1h1M447.0 53.4h1M447.0 52.7h1M447.0 52.1h1M446.2 63.2h1.8M447.0 71.3h1M447.0 69.3h1M447.0 67.8h1M447.0 66.7h1M447.0 65.8h1M447.0 65.0h1M447.0 64.3h1M447.0 63.7h1M446.2 74.8h1.8M448.5 77.5v1.8M452.1 77.5v1M454.2 77.5v1M455.7 77.5v1M456.9 77.5v1M457.8 77.5v1M458.6 77.5v1M459.3 77.5v1M460.0 77.5v1M460.5 77.5v1.8M465.0 77.5v1M467.7 77.5v1M469.5 77.5v1M471.0 77.5v1M472.2 77.5v1M473.2 77.5v1M474.0 77.5v1M474.8 77.5v1M475.5 77.5v1.8M480.0 77.5v1M482.7 77.5v1M484.5 77.5v1M486.0 77.5v1M487.2 77.5v1M488.2 77.5v1M489.0 77.5v1M489.8 77.5v1M490.5 77.5v1.8M495.0 77.5v1M497.7 77.5v1M499.5 77.5v1M501.0 77.5v1M502.2 77.5v1M503.2 77.5v1M504.0 77.5v1M504.8 77.5v1M505.5 77.5v1.8" stroke="#333" stroke-width="0.75" fill="none"/>
<text transform="translate(444.4,28.3) rotate(-90)" font-size="3.6" text-anchor="middle" fill="#444">10<tspan dy="-1.1" font-size="2.5">5</tspan></text>
<text transform="translate(444.4,39.92) rotate(-90)" font-size="3.6" text-anchor="middle" fill="#444">10<tspan dy="-1.1" font-size="2.5">4</tspan></text>
<text transform="translate(444.4,51.55) rotate(-90)" font-size="3.6" text-anchor="middle" fill="#444">10<tspan dy="-1.1" font-size="2.5">3</tspan></text>
<text transform="translate(444.4,63.17) rotate(-90)" font-size="3.6" text-anchor="middle" fill="#444">0</text>
<text transform="translate(444.4,74.8) rotate(-90)" font-size="3.6" text-anchor="middle" fill="#444">-336</text>
<text x="448.5" y="85.1" font-size="3.6" text-anchor="middle" fill="#444">-464</text>
<text x="460.5" y="85.1" font-size="3.6" text-anchor="middle" fill="#444">0</text>
<text x="475.5" y="85.1" font-size="3.6" text-anchor="middle" fill="#444">10<tspan dy="-1.1" font-size="2.5">3</tspan></text>
<text x="490.5" y="85.1" font-size="3.6" text-anchor="middle" fill="#444">10<tspan dy="-1.1" font-size="2.5">4</tspan></text>
<text x="505.5" y="85.1" font-size="3.6" text-anchor="middle" fill="#444">10<tspan dy="-1.1" font-size="2.5">5</tspan></text>
<text transform="translate(439.0,50.0) rotate(-90)" font-size="3.7" text-anchor="middle" fill="#444">A702-STREPT PE-A</text>
<text x="480.5" y="88.9" font-size="3.7" text-anchor="middle" fill="#444">3E7 FITC-A</text>
<path d="M265.5 134.5V189.5M237.5 160.5H302.5" stroke="#858585" stroke-width="1" fill="none"/>
<rect x="237.5" y="134.5" width="65.0" height="55.0" fill="none" stroke="#9a9a9a" stroke-width="1"/>
<path d="M237.5 136.5V189.5H300.5" fill="none" stroke="#555" stroke-width="1"/>
<text x="243.1" y="141.9" font-size="4.2" text-anchor="start" fill="#444">Q1</text>
<text x="296.7" y="141.9" font-size="4.2" text-anchor="end" fill="#444">Q2</text>
<text x="243.1" y="183.3" font-size="4.2" text-anchor="start" fill="#444">Q3</text>
<text x="296.7" y="183.3" font-size="4.2" text-anchor="end" fill="#444">Q4</text>
<path d="M235.7 140.3h1.8M236.5 148.3h1M236.5 146.3h1M236.5 144.9h1M236.5 143.8h1M236.5 142.9h1M236.5 142.1h1M236.5 141.4h1M236.5 140.8h1M235.7 151.8h1.8M236.5 159.8h1M236.5 157.8h1M236.5 156.4h1M236.5 155.3h1M236.5 154.4h1M236.5 153.6h1M236.5 152.9h1M236.5 152.3h1M235.7 163.3h1.8M236.5 171.3h1M236.5 169.3h1M236.5 167.9h1M236.5 166.8h1M236.5 165.9h1M236.5 165.1h1M236.5 164.4h1M236.5 163.8h1M235.7 174.8h1.8M236.5 182.8h1M236.5 180.8h1M236.5 179.4h1M236.5 178.3h1M236.5 177.4h1M236.5 176.6h1M236.5 175.9h1M236.5 175.3h1M235.7 186.3h1.8M238.0 189v1.8M241.6 189v1M243.7 189v1M245.2 189v1M246.4 189v1M247.3 189v1M248.1 189v1M248.8 189v1M249.5 189v1M250.0 189v1.8M254.5 189v1M257.2 189v1M259.0 189v1M260.5 189v1M261.7 189v1M262.7 189v1M263.5 189v1M264.3 189v1M265.0 189v1.8M269.5 189v1M272.2 189v1M274.0 189v1M275.5 189v1M276.7 189v1M277.7 189v1M278.5 189v1M279.3 189v1M280.0 189v1.8M284.5 189v1M287.2 189v1M289.0 189v1M290.5 189v1M291.7 189v1M292.7 189v1M293.5 189v1M294.3 189v1M295.0 189v1.8" stroke="#333" stroke-width="0.75" fill="none"/>
<text transform="translate(233.9,140.3) rotate(-90)" font-size="3.6" text-anchor="middle" fill="#444">10<tspan dy="-1.1" font-size="2.5">5</tspan></text>
<text transform="translate(233.9,151.8) rotate(-90)" font-size="3.6" text-anchor="middle" fill="#444">10<tspan dy="-1.1" font-size="2.5">4</tspan></text>
<text transform="translate(233.9,163.3) rotate(-90)" font-size="3.6" text-anchor="middle" fill="#444">10<tspan dy="-1.1" font-size="2.5">3</tspan></text>
<text transform="translate(233.9,174.8) rotate(-90)" font-size="3.6" text-anchor="middle" fill="#444">0</text>
<text transform="translate(233.9,186.3) rotate(-90)" font-size="3.6" text-anchor="middle" fill="#444">-336</text>
<text x="238.0" y="196.6" font-size="3.6" text-anchor="middle" fill="#444">-974</text>
<text x="250.0" y="196.6" font-size="3.6" text-anchor="middle" fill="#444">0</text>
<text x="265.0" y="196.6" font-size="3.6" text-anchor="middle" fill="#444">10<tspan dy="-1.1" font-size="2.5">3</tspan></text>
<text x="280.0" y="196.6" font-size="3.6" text-anchor="middle" fill="#444">10<tspan dy="-1.1" font-size="2.5">4</tspan></text>
<text x="295.0" y="196.6" font-size="3.6" text-anchor="middle" fill="#444">10<tspan dy="-1.1" font-size="2.5">5</tspan></text>
<text transform="translate(228.5,161.75) rotate(-90)" font-size="3.7" text-anchor="middle" fill="#444">CD59 APC-A</text>
<text x="269.75" y="200.4" font-size="3.7" text-anchor="middle" fill="#444">7C12 FITC-A</text>
<path d="M367.5 134.5V189.5M339.5 162.5H406.5" stroke="#858585" stroke-width="1" fill="none"/>
<rect x="339.5" y="134.5" width="67.0" height="55.0" fill="none" stroke="#9a9a9a" stroke-width="1"/>
<path d="M339.5 136.5V189.5H404.5" fill="none" stroke="#555" stroke-width="1"/>
<text x="355.8" y="155.6" font-size="4.2" text-anchor="middle" fill="#444">Q1-1</text>
<text x="378.3" y="155.6" font-size="4.2" text-anchor="middle" fill="#444">Q2-1</text>
<text x="355.8" y="173.4" font-size="4.2" text-anchor="middle" fill="#444">Q3-1</text>
<text x="378.3" y="173.4" font-size="4.2" text-anchor="middle" fill="#444">Q4-1</text>
<path d="M337.7 140.3h1.8M338.5 148.4h1M338.5 146.4h1M338.5 144.9h1M338.5 143.8h1M338.5 142.9h1M338.5 142.1h1M338.5 141.4h1M338.5 140.8h1M337.7 151.9h1.8M338.5 160.1h1M338.5 158.0h1M338.5 156.6h1M338.5 155.4h1M338.5 154.5h1M338.5 153.7h1M338.5 153.1h1M338.5 152.5h1M337.7 163.6h1.8M338.5 171.7h1M338.5 169.6h1M338.5 168.2h1M338.5 167.0h1M338.5 166.1h1M338.5 165.4h1M338.5 164.7h1M338.5 164.1h1M337.7 175.2h1.8M338.5 183.3h1M338.5 181.3h1M338.5 179.8h1M338.5 178.7h1M338.5 177.8h1M338.5 177.0h1M338.5 176.3h1M338.5 175.7h1M337.7 186.8h1.8M340.0 189.5v1.8M343.6 189.5v1M345.7 189.5v1M347.2 189.5v1M348.4 189.5v1M349.3 189.5v1M350.1 189.5v1M350.8 189.5v1M351.5 189.5v1M352.0 189.5v1.8M356.5 189.5v1M359.2 189.5v1M361.0 189.5v1M362.5 189.5v1M363.7 189.5v1M364.7 189.5v1M365.5 189.5v1M366.3 189.5v1M367.0 189.5v1.8M371.5 189.5v1M374.2 189.5v1M376.0 189.5v1M377.5 189.5v1M378.7 189.5v1M379.7 189.5v1M380.5 189.5v1M381.3 189.5v1M382.0 189.5v1.8M386.5 189.5v1M389.2 189.5v1M391.0 189.5v1M392.5 189.5v1M393.7 189.5v1M394.7 189.5v1M395.5 189.5v1M396.3 189.5v1M397.0 189.5v1.8" stroke="#333" stroke-width="0.75" fill="none"/>
<text transform="translate(335.9,140.3) rotate(-90)" font-size="3.6" text-anchor="middle" fill="#444">10<tspan dy="-1.1" font-size="2.5">5</tspan></text>
<text transform="translate(335.9,151.93) rotate(-90)" font-size="3.6" text-anchor="middle" fill="#444">10<tspan dy="-1.1" font-size="2.5">4</tspan></text>
<text transform="translate(335.9,163.55) rotate(-90)" font-size="3.6" text-anchor="middle" fill="#444">10<tspan dy="-1.1" font-size="2.5">3</tspan></text>
<text transform="translate(335.9,175.18) rotate(-90)" font-size="3.6" text-anchor="middle" fill="#444">0</text>
<text transform="translate(335.9,186.8) rotate(-90)" font-size="3.6" text-anchor="middle" fill="#444">-336</text>
<text x="340.0" y="197.1" font-size="3.6" text-anchor="middle" fill="#444">-436</text>
<text x="352.0" y="197.1" font-size="3.6" text-anchor="middle" fill="#444">0</text>
<text x="367.0" y="197.1" font-size="3.6" text-anchor="middle" fill="#444">10<tspan dy="-1.1" font-size="2.5">3</tspan></text>
<text x="382.0" y="197.1" font-size="3.6" text-anchor="middle" fill="#444">10<tspan dy="-1.1" font-size="2.5">4</tspan></text>
<text x="397.0" y="197.1" font-size="3.6" text-anchor="middle" fill="#444">10<tspan dy="-1.1" font-size="2.5">5</tspan></text>
<text transform="translate(330.5,162.0) rotate(-90)" font-size="3.7" text-anchor="middle" fill="#444">CD59 APC-A</text>
<text x="373.0" y="200.9" font-size="3.7" text-anchor="middle" fill="#444">A702-STREPT PE-A</text>
<path d="M470.5 134.5V190.5M446.5 164.5H514.5" stroke="#858585" stroke-width="1" fill="none"/>
<rect x="446.5" y="134.5" width="68.0" height="56.0" fill="none" stroke="#9a9a9a" stroke-width="1"/>
<path d="M446.5 136.5V190.5H512.5" fill="none" stroke="#555" stroke-width="1"/>
<text x="459.7" y="158.1" font-size="4.2" text-anchor="middle" fill="#444">Q1-2</text>
<text x="482.7" y="158.1" font-size="4.2" text-anchor="middle" fill="#444">Q2-2</text>
<text x="459.7" y="175.4" font-size="4.2" text-anchor="middle" fill="#444">Q3-2</text>
<text x="482.7" y="175.4" font-size="4.2" text-anchor="middle" fill="#444">Q4-2</text>
<path d="M444.2 140.3h1.8M445.0 148.5h1M445.0 146.4h1M445.0 145.0h1M445.0 143.8h1M445.0 142.9h1M445.0 142.1h1M445.0 141.4h1M445.0 140.8h1M444.2 152.1h1.8M445.0 160.3h1M445.0 158.2h1M445.0 156.7h1M445.0 155.6h1M445.0 154.7h1M445.0 153.9h1M445.0 153.2h1M445.0 152.6h1M444.2 163.8h1.8M445.0 172.0h1M445.0 169.9h1M445.0 168.5h1M445.0 167.3h1M445.0 166.4h1M445.0 165.6h1M445.0 164.9h1M445.0 164.3h1M444.2 175.6h1.8M445.0 183.8h1M445.0 181.7h1M445.0 180.2h1M445.0 179.1h1M445.0 178.2h1M445.0 177.4h1M445.0 176.7h1M445.0 176.1h1M444.2 187.3h1.8M446.5 190v1.8M450.1 190v1M452.2 190v1M453.7 190v1M454.9 190v1M455.8 190v1M456.6 190v1M457.3 190v1M458.0 190v1M458.5 190v1.8M463.0 190v1M465.7 190v1M467.5 190v1M469.0 190v1M470.2 190v1M471.2 190v1M472.0 190v1M472.8 190v1M473.5 190v1.8M478.0 190v1M480.7 190v1M482.5 190v1M484.0 190v1M485.2 190v1M486.2 190v1M487.0 190v1M487.8 190v1M488.5 190v1.8M493.0 190v1M495.7 190v1M497.5 190v1M499.0 190v1M500.2 190v1M501.2 190v1M502.0 190v1M502.8 190v1M503.5 190v1.8" stroke="#333" stroke-width="0.75" fill="none"/>
<text transform="translate(442.4,140.3) rotate(-90)" font-size="3.6" text-anchor="middle" fill="#444">10<tspan dy="-1.1" font-size="2.5">5</tspan></text>
<text transform="translate(442.4,152.05) rotate(-90)" font-size="3.6" text-anchor="middle" fill="#444">10<tspan dy="-1.1" font-size="2.5">4</tspan></text>
<text transform="translate(442.4,163.8) rotate(-90)" font-size="3.6" text-anchor="middle" fill="#444">10<tspan dy="-1.1" font-size="2.5">3</tspan></text>
<text transform="translate(442.4,175.55) rotate(-90)" font-size="3.6" text-anchor="middle" fill="#444">0</text>
<text transform="translate(442.4,187.3) rotate(-90)" font-size="3.6" text-anchor="middle" fill="#444">-336</text>
<text x="446.5" y="197.6" font-size="3.6" text-anchor="middle" fill="#444">-464</text>
<text x="458.5" y="197.6" font-size="3.6" text-anchor="middle" fill="#444">0</text>
<text x="473.5" y="197.6" font-size="3.6" text-anchor="middle" fill="#444">10<tspan dy="-1.1" font-size="2.5">3</tspan></text>
<text x="488.5" y="197.6" font-size="3.6" text-anchor="middle" fill="#444">10<tspan dy="-1.1" font-size="2.5">4</tspan></text>
<text x="503.5" y="197.6" font-size="3.6" text-anchor="middle" fill="#444">10<tspan dy="-1.1" font-size="2.5">5</tspan></text>
<text transform="translate(437.0,162.25) rotate(-90)" font-size="3.7" text-anchor="middle" fill="#444">A702-STREPT PE-A</text>
<text x="480.0" y="201.4" font-size="3.7" text-anchor="middle" fill="#444">3E7 FITC-A</text>
<path d="M265.5 224.5V279.5M237.5 248.5H302.5" stroke="#858585" stroke-width="1" fill="none"/>
<rect x="237.5" y="224.5" width="65.0" height="55.0" fill="none" stroke="#9a9a9a" stroke-width="1"/>
<path d="M237.5 226.5V279.5H300.5" fill="none" stroke="#555" stroke-width="1"/>
<text x="243.1" y="232.7" font-size="4.2" text-anchor="start" fill="#444">Q1</text>
<text x="297.6" y="232.7" font-size="4.2" text-anchor="end" fill="#444">Q2</text>
<text x="243.1" y="273.5" font-size="4.2" text-anchor="start" fill="#444">Q3</text>
<text x="297.6" y="273.5" font-size="4.2" text-anchor="end" fill="#444">Q4</text>
<path d="M235.7 229.8h1.8M236.5 238.0h1M236.5 235.9h1M236.5 234.5h1M236.5 233.3h1M236.5 232.4h1M236.5 231.6h1M236.5 230.9h1M236.5 230.3h1M235.7 241.6h1.8M236.5 249.8h1M236.5 247.7h1M236.5 246.2h1M236.5 245.1h1M236.5 244.2h1M236.5 243.4h1M236.5 242.7h1M236.5 242.1h1M235.7 253.3h1.8M236.5 261.5h1M236.5 259.4h1M236.5 258.0h1M236.5 256.8h1M236.5 255.9h1M236.5 255.1h1M236.5 254.4h1M236.5 253.8h1M235.7 265.1h1.8M236.5 273.3h1M236.5 271.2h1M236.5 269.7h1M236.5 268.6h1M236.5 267.7h1M236.5 266.9h1M236.5 266.2h1M236.5 265.6h1M235.7 276.8h1.8M238.0 279.5v1.8M241.6 279.5v1M243.7 279.5v1M245.2 279.5v1M246.4 279.5v1M247.3 279.5v1M248.1 279.5v1M248.8 279.5v1M249.5 279.5v1M250.0 279.5v1.8M254.5 279.5v1M257.2 279.5v1M259.0 279.5v1M260.5 279.5v1M261.7 279.5v1M262.7 279.5v1M263.5 279.5v1M264.3 279.5v1M265.0 279.5v1.8M269.5 279.5v1M272.2 279.5v1M274.0 279.5v1M275.5 279.5v1M276.7 279.5v1M277.7 279.5v1M278.5 279.5v1M279.3 279.5v1M280.0 279.5v1.8M284.5 279.5v1M287.2 279.5v1M289.0 279.5v1M290.5 279.5v1M291.7 279.5v1M292.7 279.5v1M293.5 279.5v1M294.3 279.5v1M295.0 279.5v1.8" stroke="#333" stroke-width="0.75" fill="none"/>
<text transform="translate(233.9,229.8) rotate(-90)" font-size="3.6" text-anchor="middle" fill="#444">10<tspan dy="-1.1" font-size="2.5">5</tspan></text>
<text transform="translate(233.9,241.55) rotate(-90)" font-size="3.6" text-anchor="middle" fill="#444">10<tspan dy="-1.1" font-size="2.5">4</tspan></text>
<text transform="translate(233.9,253.3) rotate(-90)" font-size="3.6" text-anchor="middle" fill="#444">10<tspan dy="-1.1" font-size="2.5">3</tspan></text>
<text transform="translate(233.9,265.05) rotate(-90)" font-size="3.6" text-anchor="middle" fill="#444">0</text>
<text transform="translate(233.9,276.8) rotate(-90)" font-size="3.6" text-anchor="middle" fill="#444">-336</text>
<text x="238.0" y="287.1" font-size="3.6" text-anchor="middle" fill="#444">-974</text>
<text x="250.0" y="287.1" font-size="3.6" text-anchor="middle" fill="#444">0</text>
<text x="265.0" y="287.1" font-size="3.6" text-anchor="middle" fill="#444">10<tspan dy="-1.1" font-size="2.5">3</tspan></text>
<text x="280.0" y="287.1" font-size="3.6" text-anchor="middle" fill="#444">10<tspan dy="-1.1" font-size="2.5">4</tspan></text>
<text x="295.0" y="287.1" font-size="3.6" text-anchor="middle" fill="#444">10<tspan dy="-1.1" font-size="2.5">5</tspan></text>
<text transform="translate(228.5,251.75) rotate(-90)" font-size="3.7" text-anchor="middle" fill="#444">CD59 APC-A</text>
<text x="269.75" y="290.9" font-size="3.7" text-anchor="middle" fill="#444">7C12 FITC-A</text>
<path d="M374.5 224.5V281.5M343.5 251.5H410.5" stroke="#858585" stroke-width="1" fill="none"/>
<rect x="343.5" y="224.5" width="67.0" height="57.0" fill="none" stroke="#9a9a9a" stroke-width="1"/>
<path d="M343.5 226.5V281.5H408.5" fill="none" stroke="#555" stroke-width="1"/>
<text x="362.7" y="244.2" font-size="4.2" text-anchor="middle" fill="#444">Q1-1</text>
<text x="385.2" y="244.2" font-size="4.2" text-anchor="middle" fill="#444">Q2-1</text>
<text x="362.7" y="262" font-size="4.2" text-anchor="middle" fill="#444">Q3-1</text>
<text x="385.2" y="262" font-size="4.2" text-anchor="middle" fill="#444">Q4-1</text>
<path d="M341.2 230.3h1.8M342.0 238.7h1M342.0 236.6h1M342.0 235.1h1M342.0 233.9h1M342.0 233.0h1M342.0 232.2h1M342.0 231.5h1M342.0 230.8h1M341.2 242.3h1.8M342.0 250.7h1M342.0 248.6h1M342.0 247.1h1M342.0 245.9h1M342.0 245.0h1M342.0 244.2h1M342.0 243.5h1M342.0 242.8h1M341.2 254.3h1.8M342.0 262.7h1M342.0 260.6h1M342.0 259.1h1M342.0 257.9h1M342.0 257.0h1M342.0 256.2h1M342.0 255.5h1M342.0 254.8h1M341.2 266.3h1.8M342.0 274.7h1M342.0 272.6h1M342.0 271.1h1M342.0 269.9h1M342.0 269.0h1M342.0 268.2h1M342.0 267.5h1M342.0 266.8h1M341.2 278.3h1.8M343.5 281v1.8M347.1 281v1M349.2 281v1M350.7 281v1M351.9 281v1M352.8 281v1M353.6 281v1M354.3 281v1M355.0 281v1M355.5 281v1.8M360.0 281v1M362.7 281v1M364.5 281v1M366.0 281v1M367.2 281v1M368.2 281v1M369.0 281v1M369.8 281v1M370.5 281v1.8M375.0 281v1M377.7 281v1M379.5 281v1M381.0 281v1M382.2 281v1M383.2 281v1M384.0 281v1M384.8 281v1M385.5 281v1.8M390.0 281v1M392.7 281v1M394.5 281v1M396.0 281v1M397.2 281v1M398.2 281v1M399.0 281v1M399.8 281v1M400.5 281v1.8" stroke="#333" stroke-width="0.75" fill="none"/>
<text transform="translate(339.4,230.3) rotate(-90)" font-size="3.6" text-anchor="middle" fill="#444">10<tspan dy="-1.1" font-size="2.5">5</tspan></text>
<text transform="translate(339.4,242.3) rotate(-90)" font-size="3.6" text-anchor="middle" fill="#444">10<tspan dy="-1.1" font-size="2.5">4</tspan></text>
<text transform="translate(339.4,254.3) rotate(-90)" font-size="3.6" text-anchor="middle" fill="#444">10<tspan dy="-1.1" font-size="2.5">3</tspan></text>
<text transform="translate(339.4,266.3) rotate(-90)" font-size="3.6" text-anchor="middle" fill="#444">0</text>
<text transform="translate(339.4,278.3) rotate(-90)" font-size="3.6" text-anchor="middle" fill="#444">-336</text>
<text x="343.5" y="288.6" font-size="3.6" text-anchor="middle" fill="#444">-436</text>
<text x="355.5" y="288.6" font-size="3.6" text-anchor="middle" fill="#444">0</text>
<text x="370.5" y="288.6" font-size="3.6" text-anchor="middle" fill="#444">10<tspan dy="-1.1" font-size="2.5">3</tspan></text>
<text x="385.5" y="288.6" font-size="3.6" text-anchor="middle" fill="#444">10<tspan dy="-1.1" font-size="2.5">4</tspan></text>
<text x="400.5" y="288.6" font-size="3.6" text-anchor="middle" fill="#444">10<tspan dy="-1.1" font-size="2.5">5</tspan></text>
<text transform="translate(334.0,252.75) rotate(-90)" font-size="3.7" text-anchor="middle" fill="#444">CD59 APC-A</text>
<text x="376.75" y="292.4" font-size="3.7" text-anchor="middle" fill="#444">A702-STREPT PE-A</text>
<path d="M470.5 224.5V280.5M446.5 254.5H514.5" stroke="#858585" stroke-width="1" fill="none"/>
<rect x="446.5" y="224.5" width="68.0" height="56.0" fill="none" stroke="#9a9a9a" stroke-width="1"/>
<path d="M446.5 226.5V280.5H512.5" fill="none" stroke="#555" stroke-width="1"/>
<text x="459.7" y="248.1" font-size="4.2" text-anchor="middle" fill="#444">Q1-2</text>
<text x="482.7" y="248.1" font-size="4.2" text-anchor="middle" fill="#444">Q2-2</text>
<text x="459.7" y="265.4" font-size="4.2" text-anchor="middle" fill="#444">Q3-2</text>
<text x="482.7" y="265.4" font-size="4.2" text-anchor="middle" fill="#444">Q4-2</text>
<path d="M444.7 230.3h1.8M445.5 238.6h1M445.5 236.5h1M445.5 235.0h1M445.5 233.9h1M445.5 232.9h1M445.5 232.1h1M445.5 231.5h1M445.5 230.8h1M444.7 242.2h1.8M445.5 250.5h1M445.5 248.4h1M445.5 246.9h1M445.5 245.7h1M445.5 244.8h1M445.5 244.0h1M445.5 243.3h1M445.5 242.7h1M444.7 254.1h1.8M445.5 262.4h1M445.5 260.3h1M445.5 258.8h1M445.5 257.6h1M445.5 256.7h1M445.5 255.9h1M445.5 255.2h1M445.5 254.6h1M444.7 265.9h1.8M445.5 274.2h1M445.5 272.1h1M445.5 270.7h1M445.5 269.5h1M445.5 268.6h1M445.5 267.8h1M445.5 267.1h1M445.5 266.5h1M444.7 277.8h1.8M447.0 280.5v1.8M450.6 280.5v1M452.7 280.5v1M454.2 280.5v1M455.4 280.5v1M456.3 280.5v1M457.1 280.5v1M457.8 280.5v1M458.5 280.5v1M459.0 280.5v1.8M463.5 280.5v1M466.2 280.5v1M468.0 280.5v1M469.5 280.5v1M470.7 280.5v1M471.7 280.5v1M472.5 280.5v1M473.3 280.5v1M474.0 280.5v1.8M478.5 280.5v1M481.2 280.5v1M483.0 280.5v1M484.5 280.5v1M485.7 280.5v1M486.7 280.5v1M487.5 280.5v1M488.3 280.5v1M489.0 280.5v1.8M493.5 280.5v1M496.2 280.5v1M498.0 280.5v1M499.5 280.5v1M500.7 280.5v1M501.7 280.5v1M502.5 280.5v1M503.3 280.5v1M504.0 280.5v1.8" stroke="#333" stroke-width="0.75" fill="none"/>
<text transform="translate(442.9,230.3) rotate(-90)" font-size="3.6" text-anchor="middle" fill="#444">10<tspan dy="-1.1" font-size="2.5">5</tspan></text>
<text transform="translate(442.9,242.18) rotate(-90)" font-size="3.6" text-anchor="middle" fill="#444">10<tspan dy="-1.1" font-size="2.5">4</tspan></text>
<text transform="translate(442.9,254.05) rotate(-90)" font-size="3.6" text-anchor="middle" fill="#444">10<tspan dy="-1.1" font-size="2.5">3</tspan></text>
<text transform="translate(442.9,265.93) rotate(-90)" font-size="3.6" text-anchor="middle" fill="#444">0</text>
<text transform="translate(442.9,277.8) rotate(-90)" font-size="3.6" text-anchor="middle" fill="#444">-336</text>
<text x="447.0" y="288.1" font-size="3.6" text-anchor="middle" fill="#444">-464</text>
<text x="459.0" y="288.1" font-size="3.6" text-anchor="middle" fill="#444">0</text>
<text x="474.0" y="288.1" font-size="3.6" text-anchor="middle" fill="#444">10<tspan dy="-1.1" font-size="2.5">3</tspan></text>
<text x="489.0" y="288.1" font-size="3.6" text-anchor="middle" fill="#444">10<tspan dy="-1.1" font-size="2.5">4</tspan></text>
<text x="504.0" y="288.1" font-size="3.6" text-anchor="middle" fill="#444">10<tspan dy="-1.1" font-size="2.5">5</tspan></text>
<text transform="translate(437.5,252.5) rotate(-90)" font-size="3.7" text-anchor="middle" fill="#444">A702-STREPT PE-A</text>
<text x="480.25" y="291.9" font-size="3.7" text-anchor="middle" fill="#444">3E7 FITC-A</text>
<path d="M263.5 344.5V399.5M237.5 370.5H300.5" stroke="#858585" stroke-width="1" fill="none"/>
<rect x="237.5" y="344.5" width="63.0" height="55.0" fill="none" stroke="#9a9a9a" stroke-width="1"/>
<path d="M237.5 346.5V399.5H298.5" fill="none" stroke="#555" stroke-width="1"/>
<text x="244.9" y="353" font-size="4.2" text-anchor="start" fill="#444">Q1</text>
<text x="293.1" y="353" font-size="4.2" text-anchor="end" fill="#444">Q2</text>
<text x="244.9" y="392.5" font-size="4.2" text-anchor="start" fill="#444">Q3</text>
<text x="293.1" y="392.5" font-size="4.2" text-anchor="end" fill="#444">Q4</text>
<path d="M235.7 349.8h1.8M236.5 358.0h1M236.5 355.9h1M236.5 354.5h1M236.5 353.3h1M236.5 352.4h1M236.5 351.6h1M236.5 350.9h1M236.5 350.3h1M235.7 361.6h1.8M236.5 369.8h1M236.5 367.7h1M236.5 366.2h1M236.5 365.1h1M236.5 364.2h1M236.5 363.4h1M236.5 362.7h1M236.5 362.1h1M235.7 373.3h1.8M236.5 381.5h1M236.5 379.4h1M236.5 378.0h1M236.5 376.8h1M236.5 375.9h1M236.5 375.1h1M236.5 374.4h1M236.5 373.8h1M235.7 385.1h1.8M236.5 393.3h1M236.5 391.2h1M236.5 389.7h1M236.5 388.6h1M236.5 387.7h1M236.5 386.9h1M236.5 386.2h1M236.5 385.6h1M235.7 396.8h1.8M238.0 399.5v1.8M241.6 399.5v1M243.7 399.5v1M245.2 399.5v1M246.4 399.5v1M247.3 399.5v1M248.1 399.5v1M248.8 399.5v1M249.5 399.5v1M250.0 399.5v1.8M254.5 399.5v1M257.2 399.5v1M259.0 399.5v1M260.5 399.5v1M261.7 399.5v1M262.7 399.5v1M263.5 399.5v1M264.3 399.5v1M265.0 399.5v1.8M269.5 399.5v1M272.2 399.5v1M274.0 399.5v1M275.5 399.5v1M276.7 399.5v1M277.7 399.5v1M278.5 399.5v1M279.3 399.5v1M280.0 399.5v1.8M284.5 399.5v1M287.2 399.5v1M289.0 399.5v1M290.5 399.5v1M291.7 399.5v1M292.7 399.5v1M293.5 399.5v1M294.3 399.5v1M295.0 399.5v1.8" stroke="#333" stroke-width="0.75" fill="none"/>
<text transform="translate(233.9,349.8) rotate(-90)" font-size="3.6" text-anchor="middle" fill="#444">10<tspan dy="-1.1" font-size="2.5">5</tspan></text>
<text transform="translate(233.9,361.55) rotate(-90)" font-size="3.6" text-anchor="middle" fill="#444">10<tspan dy="-1.1" font-size="2.5">4</tspan></text>
<text transform="translate(233.9,373.3) rotate(-90)" font-size="3.6" text-anchor="middle" fill="#444">10<tspan dy="-1.1" font-size="2.5">3</tspan></text>
<text transform="translate(233.9,385.05) rotate(-90)" font-size="3.6" text-anchor="middle" fill="#444">0</text>
<text transform="translate(233.9,396.8) rotate(-90)" font-size="3.6" text-anchor="middle" fill="#444">-336</text>
<text x="238.0" y="407.1" font-size="3.6" text-anchor="middle" fill="#444">-974</text>
<text x="250.0" y="407.1" font-size="3.6" text-anchor="middle" fill="#444">0</text>
<text x="265.0" y="407.1" font-size="3.6" text-anchor="middle" fill="#444">10<tspan dy="-1.1" font-size="2.5">3</tspan></text>
<text x="280.0" y="407.1" font-size="3.6" text-anchor="middle" fill="#444">10<tspan dy="-1.1" font-size="2.5">4</tspan></text>
<text x="295.0" y="407.1" font-size="3.6" text-anchor="middle" fill="#444">10<tspan dy="-1.1" font-size="2.5">5</tspan></text>
<text transform="translate(228.5,371.75) rotate(-90)" font-size="3.7" text-anchor="middle" fill="#444">CD59 APC-A</text>
<text x="269.0" y="410.9" font-size="3.7" text-anchor="middle" fill="#444">7C12 FITC-A</text>
<path d="M366.5 343.5V399.5M338.5 371.5H405.5" stroke="#858585" stroke-width="1" fill="none"/>
<rect x="338.5" y="343.5" width="67.0" height="56.0" fill="none" stroke="#9a9a9a" stroke-width="1"/>
<path d="M338.5 345.5V399.5H403.5" fill="none" stroke="#555" stroke-width="1"/>
<text x="355.1" y="364.2" font-size="4.2" text-anchor="middle" fill="#444">Q1-1</text>
<text x="377.6" y="364.2" font-size="4.2" text-anchor="middle" fill="#444">Q2-1</text>
<text x="355.1" y="382" font-size="4.2" text-anchor="middle" fill="#444">Q3-1</text>
<text x="377.6" y="382" font-size="4.2" text-anchor="middle" fill="#444">Q4-1</text>
<path d="M336.7 349.3h1.8M337.5 357.6h1M337.5 355.5h1M337.5 354.0h1M337.5 352.9h1M337.5 351.9h1M337.5 351.1h1M337.5 350.5h1M337.5 349.8h1M336.7 361.2h1.8M337.5 369.5h1M337.5 367.4h1M337.5 365.9h1M337.5 364.8h1M337.5 363.8h1M337.5 363.0h1M337.5 362.4h1M337.5 361.7h1M336.7 373.1h1.8M337.5 381.4h1M337.5 379.3h1M337.5 377.8h1M337.5 376.7h1M337.5 375.7h1M337.5 374.9h1M337.5 374.3h1M337.5 373.6h1M336.7 385.0h1.8M337.5 393.3h1M337.5 391.2h1M337.5 389.7h1M337.5 388.6h1M337.5 387.6h1M337.5 386.8h1M337.5 386.2h1M337.5 385.5h1M336.7 396.9h1.8M339.0 399.6v1.8M342.6 399.6v1M344.7 399.6v1M346.2 399.6v1M347.4 399.6v1M348.3 399.6v1M349.1 399.6v1M349.8 399.6v1M350.5 399.6v1M351.0 399.6v1.8M355.5 399.6v1M358.2 399.6v1M360.0 399.6v1M361.5 399.6v1M362.7 399.6v1M363.7 399.6v1M364.5 399.6v1M365.3 399.6v1M366.0 399.6v1.8M370.5 399.6v1M373.2 399.6v1M375.0 399.6v1M376.5 399.6v1M377.7 399.6v1M378.7 399.6v1M379.5 399.6v1M380.3 399.6v1M381.0 399.6v1.8M385.5 399.6v1M388.2 399.6v1M390.0 399.6v1M391.5 399.6v1M392.7 399.6v1M393.7 399.6v1M394.5 399.6v1M395.3 399.6v1M396.0 399.6v1.8" stroke="#333" stroke-width="0.75" fill="none"/>
<text transform="translate(334.9,349.3) rotate(-90)" font-size="3.6" text-anchor="middle" fill="#444">10<tspan dy="-1.1" font-size="2.5">5</tspan></text>
<text transform="translate(334.9,361.2) rotate(-90)" font-size="3.6" text-anchor="middle" fill="#444">10<tspan dy="-1.1" font-size="2.5">4</tspan></text>
<text transform="translate(334.9,373.1) rotate(-90)" font-size="3.6" text-anchor="middle" fill="#444">10<tspan dy="-1.1" font-size="2.5">3</tspan></text>
<text transform="translate(334.9,385.0) rotate(-90)" font-size="3.6" text-anchor="middle" fill="#444">0</text>
<text transform="translate(334.9,396.9) rotate(-90)" font-size="3.6" text-anchor="middle" fill="#444">-336</text>
<text x="339.0" y="407.2" font-size="3.6" text-anchor="middle" fill="#444">-436</text>
<text x="351.0" y="407.2" font-size="3.6" text-anchor="middle" fill="#444">0</text>
<text x="366.0" y="407.2" font-size="3.6" text-anchor="middle" fill="#444">10<tspan dy="-1.1" font-size="2.5">3</tspan></text>
<text x="381.0" y="407.2" font-size="3.6" text-anchor="middle" fill="#444">10<tspan dy="-1.1" font-size="2.5">4</tspan></text>
<text x="396.0" y="407.2" font-size="3.6" text-anchor="middle" fill="#444">10<tspan dy="-1.1" font-size="2.5">5</tspan></text>
<text transform="translate(329.5,371.55) rotate(-90)" font-size="3.7" text-anchor="middle" fill="#444">CD59 APC-A</text>
<text x="372.0" y="411.0" font-size="3.7" text-anchor="middle" fill="#444">A702-STREPT PE-A</text>
<path d="M470.5 343.5V399.5M446.5 374.5H512.5" stroke="#858585" stroke-width="1" fill="none"/>
<rect x="446.5" y="343.5" width="66.0" height="56.0" fill="none" stroke="#9a9a9a" stroke-width="1"/>
<path d="M446.5 345.5V399.5H510.5" fill="none" stroke="#555" stroke-width="1"/>
<text x="459.3" y="368.1" font-size="4.2" text-anchor="middle" fill="#444">Q1-2</text>
<text x="482.3" y="368.1" font-size="4.2" text-anchor="middle" fill="#444">Q2-2</text>
<text x="459.3" y="385.4" font-size="4.2" text-anchor="middle" fill="#444">Q3-2</text>
<text x="482.3" y="385.4" font-size="4.2" text-anchor="middle" fill="#444">Q4-2</text>
<path d="M444.7 349.3h1.8M445.5 357.5h1M445.5 355.4h1M445.5 354.0h1M445.5 352.8h1M445.5 351.9h1M445.5 351.1h1M445.5 350.4h1M445.5 349.8h1M444.7 361.1h1.8M445.5 369.3h1M445.5 367.2h1M445.5 365.7h1M445.5 364.6h1M445.5 363.7h1M445.5 362.9h1M445.5 362.2h1M445.5 361.6h1M444.7 372.8h1.8M445.5 381.0h1M445.5 378.9h1M445.5 377.5h1M445.5 376.3h1M445.5 375.4h1M445.5 374.6h1M445.5 373.9h1M445.5 373.3h1M444.7 384.6h1.8M445.5 392.8h1M445.5 390.7h1M445.5 389.2h1M445.5 388.1h1M445.5 387.2h1M445.5 386.4h1M445.5 385.7h1M445.5 385.1h1M444.7 396.3h1.8M447.0 399v1.8M450.6 399v1M452.7 399v1M454.2 399v1M455.4 399v1M456.3 399v1M457.1 399v1M457.8 399v1M458.5 399v1M459.0 399v1.8M463.5 399v1M466.2 399v1M468.0 399v1M469.5 399v1M470.7 399v1M471.7 399v1M472.5 399v1M473.3 399v1M474.0 399v1.8M478.5 399v1M481.2 399v1M483.0 399v1M484.5 399v1M485.7 399v1M486.7 399v1M487.5 399v1M488.3 399v1M489.0 399v1.8M493.5 399v1M496.2 399v1M498.0 399v1M499.5 399v1M500.7 399v1M501.7 399v1M502.5 399v1M503.3 399v1M504.0 399v1.8" stroke="#333" stroke-width="0.75" fill="none"/>
<text transform="translate(442.9,349.3) rotate(-90)" font-size="3.6" text-anchor="middle" fill="#444">10<tspan dy="-1.1" font-size="2.5">5</tspan></text>
<text transform="translate(442.9,361.05) rotate(-90)" font-size="3.6" text-anchor="middle" fill="#444">10<tspan dy="-1.1" font-size="2.5">4</tspan></text>
<text transform="translate(442.9,372.8) rotate(-90)" font-size="3.6" text-anchor="middle" fill="#444">10<tspan dy="-1.1" font-size="2.5">3</tspan></text>
<text transform="translate(442.9,384.55) rotate(-90)" font-size="3.6" text-anchor="middle" fill="#444">0</text>
<text transform="translate(442.9,396.3) rotate(-90)" font-size="3.6" text-anchor="middle" fill="#444">-336</text>
<text x="447.0" y="406.6" font-size="3.6" text-anchor="middle" fill="#444">-464</text>
<text x="459.0" y="406.6" font-size="3.6" text-anchor="middle" fill="#444">0</text>
<text x="474.0" y="406.6" font-size="3.6" text-anchor="middle" fill="#444">10<tspan dy="-1.1" font-size="2.5">3</tspan></text>
<text x="489.0" y="406.6" font-size="3.6" text-anchor="middle" fill="#444">10<tspan dy="-1.1" font-size="2.5">4</tspan></text>
<text x="504.0" y="406.6" font-size="3.6" text-anchor="middle" fill="#444">10<tspan dy="-1.1" font-size="2.5">5</tspan></text>
<text transform="translate(437.5,371.25) rotate(-90)" font-size="3.7" text-anchor="middle" fill="#444">A702-STREPT PE-A</text>
<text x="479.25" y="410.4" font-size="3.7" text-anchor="middle" fill="#444">3E7 FITC-A</text>
<path d="M265.5 433.5V490.5M237.5 461.5H301.5" stroke="#858585" stroke-width="1" fill="none"/>
<rect x="237.5" y="433.5" width="64.0" height="57.0" fill="none" stroke="#9a9a9a" stroke-width="1"/>
<path d="M237.5 435.5V490.5H299.5" fill="none" stroke="#555" stroke-width="1"/>
<text x="242.5" y="445.1" font-size="4.2" text-anchor="start" fill="#444">Q1</text>
<text x="297.7" y="445.1" font-size="4.2" text-anchor="end" fill="#444">Q2</text>
<text x="242.5" y="486.2" font-size="4.2" text-anchor="start" fill="#444">Q3</text>
<text x="297.7" y="486.2" font-size="4.2" text-anchor="end" fill="#444">Q4</text>
<path d="M235.7 439.3h1.8M236.5 447.8h1M236.5 445.6h1M236.5 444.1h1M236.5 442.9h1M236.5 442.0h1M236.5 441.2h1M236.5 440.5h1M236.5 439.9h1M235.7 451.4h1.8M236.5 459.9h1M236.5 457.8h1M236.5 456.3h1M236.5 455.1h1M236.5 454.1h1M236.5 453.3h1M236.5 452.6h1M236.5 452.0h1M235.7 463.6h1.8M236.5 472.0h1M236.5 469.9h1M236.5 468.4h1M236.5 467.2h1M236.5 466.2h1M236.5 465.4h1M236.5 464.7h1M236.5 464.1h1M235.7 475.7h1.8M236.5 484.2h1M236.5 482.0h1M236.5 480.5h1M236.5 479.3h1M236.5 478.4h1M236.5 477.6h1M236.5 476.9h1M236.5 476.2h1M235.7 487.8h1.8M238.0 490.5v1.8M241.6 490.5v1M243.7 490.5v1M245.2 490.5v1M246.4 490.5v1M247.3 490.5v1M248.1 490.5v1M248.8 490.5v1M249.5 490.5v1M250.0 490.5v1.8M254.5 490.5v1M257.2 490.5v1M259.0 490.5v1M260.5 490.5v1M261.7 490.5v1M262.7 490.5v1M263.5 490.5v1M264.3 490.5v1M265.0 490.5v1.8M269.5 490.5v1M272.2 490.5v1M274.0 490.5v1M275.5 490.5v1M276.7 490.5v1M277.7 490.5v1M278.5 490.5v1M279.3 490.5v1M280.0 490.5v1.8M284.5 490.5v1M287.2 490.5v1M289.0 490.5v1M290.5 490.5v1M291.7 490.5v1M292.7 490.5v1M293.5 490.5v1M294.3 490.5v1M295.0 490.5v1.8" stroke="#333" stroke-width="0.75" fill="none"/>
<text transform="translate(233.9,439.3) rotate(-90)" font-size="3.6" text-anchor="middle" fill="#444">10<tspan dy="-1.1" font-size="2.5">5</tspan></text>
<text transform="translate(233.9,451.43) rotate(-90)" font-size="3.6" text-anchor="middle" fill="#444">10<tspan dy="-1.1" font-size="2.5">4</tspan></text>
<text transform="translate(233.9,463.55) rotate(-90)" font-size="3.6" text-anchor="middle" fill="#444">10<tspan dy="-1.1" font-size="2.5">3</tspan></text>
<text transform="translate(233.9,475.68) rotate(-90)" font-size="3.6" text-anchor="middle" fill="#444">0</text>
<text transform="translate(233.9,487.8) rotate(-90)" font-size="3.6" text-anchor="middle" fill="#444">-336</text>
<text x="238.0" y="498.1" font-size="3.6" text-anchor="middle" fill="#444">-974</text>
<text x="250.0" y="498.1" font-size="3.6" text-anchor="middle" fill="#444">0</text>
<text x="265.0" y="498.1" font-size="3.6" text-anchor="middle" fill="#444">10<tspan dy="-1.1" font-size="2.5">3</tspan></text>
<text x="280.0" y="498.1" font-size="3.6" text-anchor="middle" fill="#444">10<tspan dy="-1.1" font-size="2.5">4</tspan></text>
<text x="295.0" y="498.1" font-size="3.6" text-anchor="middle" fill="#444">10<tspan dy="-1.1" font-size="2.5">5</tspan></text>
<text transform="translate(228.5,462.0) rotate(-90)" font-size="3.7" text-anchor="middle" fill="#444">CD59 APC-A</text>
<text x="269.5" y="501.9" font-size="3.7" text-anchor="middle" fill="#444">7C12 FITC-A</text>
<path d="M371.5 434.5V490.5M340.5 462.5H406.5" stroke="#858585" stroke-width="1" fill="none"/>
<rect x="340.5" y="434.5" width="66.0" height="56.0" fill="none" stroke="#9a9a9a" stroke-width="1"/>
<path d="M340.5 436.5V490.5H404.5" fill="none" stroke="#555" stroke-width="1"/>
<text x="360.2" y="455.4" font-size="4.2" text-anchor="middle" fill="#444">Q1-1</text>
<text x="382.7" y="455.4" font-size="4.2" text-anchor="middle" fill="#444">Q2-1</text>
<text x="360.2" y="473.2" font-size="4.2" text-anchor="middle" fill="#444">Q3-1</text>
<text x="382.7" y="473.2" font-size="4.2" text-anchor="middle" fill="#444">Q4-1</text>
<path d="M338.7 439.8h1.8M339.5 448.1h1M339.5 446.0h1M339.5 444.5h1M339.5 443.4h1M339.5 442.4h1M339.5 441.6h1M339.5 441.0h1M339.5 440.3h1M338.7 451.7h1.8M339.5 460.0h1M339.5 457.9h1M339.5 456.4h1M339.5 455.2h1M339.5 454.3h1M339.5 453.5h1M339.5 452.8h1M339.5 452.2h1M338.7 463.6h1.8M339.5 471.9h1M339.5 469.8h1M339.5 468.3h1M339.5 467.1h1M339.5 466.2h1M339.5 465.4h1M339.5 464.7h1M339.5 464.1h1M338.7 475.4h1.8M339.5 483.7h1M339.5 481.6h1M339.5 480.2h1M339.5 479.0h1M339.5 478.1h1M339.5 477.3h1M339.5 476.6h1M339.5 476.0h1M338.7 487.3h1.8M341.0 490v1.8M344.6 490v1M346.7 490v1M348.2 490v1M349.4 490v1M350.3 490v1M351.1 490v1M351.8 490v1M352.5 490v1M353.0 490v1.8M357.5 490v1M360.2 490v1M362.0 490v1M363.5 490v1M364.7 490v1M365.7 490v1M366.5 490v1M367.3 490v1M368.0 490v1.8M372.5 490v1M375.2 490v1M377.0 490v1M378.5 490v1M379.7 490v1M380.7 490v1M381.5 490v1M382.3 490v1M383.0 490v1.8M387.5 490v1M390.2 490v1M392.0 490v1M393.5 490v1M394.7 490v1M395.7 490v1M396.5 490v1M397.3 490v1M398.0 490v1.8" stroke="#333" stroke-width="0.75" fill="none"/>
<text transform="translate(336.9,439.8) rotate(-90)" font-size="3.6" text-anchor="middle" fill="#444">10<tspan dy="-1.1" font-size="2.5">5</tspan></text>
<text transform="translate(336.9,451.68) rotate(-90)" font-size="3.6" text-anchor="middle" fill="#444">10<tspan dy="-1.1" font-size="2.5">4</tspan></text>
<text transform="translate(336.9,463.55) rotate(-90)" font-size="3.6" text-anchor="middle" fill="#444">10<tspan dy="-1.1" font-size="2.5">3</tspan></text>
<text transform="translate(336.9,475.43) rotate(-90)" font-size="3.6" text-anchor="middle" fill="#444">0</text>
<text transform="translate(336.9,487.3) rotate(-90)" font-size="3.6" text-anchor="middle" fill="#444">-336</text>
<text x="341.0" y="497.6" font-size="3.6" text-anchor="middle" fill="#444">-436</text>
<text x="353.0" y="497.6" font-size="3.6" text-anchor="middle" fill="#444">0</text>
<text x="368.0" y="497.6" font-size="3.6" text-anchor="middle" fill="#444">10<tspan dy="-1.1" font-size="2.5">3</tspan></text>
<text x="383.0" y="497.6" font-size="3.6" text-anchor="middle" fill="#444">10<tspan dy="-1.1" font-size="2.5">4</tspan></text>
<text x="398.0" y="497.6" font-size="3.6" text-anchor="middle" fill="#444">10<tspan dy="-1.1" font-size="2.5">5</tspan></text>
<text transform="translate(331.5,462.0) rotate(-90)" font-size="3.7" text-anchor="middle" fill="#444">CD59 APC-A</text>
<text x="373.5" y="501.4" font-size="3.7" text-anchor="middle" fill="#444">A702-STREPT PE-A</text>
<path d="M475.5 433.5V489.5M447.5 459.5H514.5" stroke="#858585" stroke-width="1" fill="none"/>
<rect x="447.5" y="433.5" width="67.0" height="56.0" fill="none" stroke="#9a9a9a" stroke-width="1"/>
<path d="M447.5 435.5V489.5H512.5" fill="none" stroke="#555" stroke-width="1"/>
<text x="464.8" y="453.1" font-size="4.2" text-anchor="middle" fill="#444">Q1-2</text>
<text x="487.8" y="453.1" font-size="4.2" text-anchor="middle" fill="#444">Q2-2</text>
<text x="464.8" y="470.4" font-size="4.2" text-anchor="middle" fill="#444">Q3-2</text>
<text x="487.8" y="470.4" font-size="4.2" text-anchor="middle" fill="#444">Q4-2</text>
<path d="M445.5 439.1h1.8M446.3 447.3h1M446.3 445.3h1M446.3 443.8h1M446.3 442.7h1M446.3 441.7h1M446.3 440.9h1M446.3 440.2h1M446.3 439.6h1M445.5 450.9h1.8M446.3 459.1h1M446.3 457.1h1M446.3 455.6h1M446.3 454.5h1M446.3 453.5h1M446.3 452.7h1M446.3 452.0h1M446.3 451.4h1M445.5 462.7h1.8M446.3 470.9h1M446.3 468.9h1M446.3 467.4h1M446.3 466.3h1M446.3 465.3h1M446.3 464.5h1M446.3 463.8h1M446.3 463.2h1M445.5 474.5h1.8M446.3 482.7h1M446.3 480.7h1M446.3 479.2h1M446.3 478.1h1M446.3 477.1h1M446.3 476.3h1M446.3 475.6h1M446.3 475.0h1M445.5 486.3h1.8M447.8 489v1.8M451.4 489v1M453.5 489v1M455.0 489v1M456.2 489v1M457.1 489v1M457.9 489v1M458.6 489v1M459.3 489v1M459.8 489v1.8M464.3 489v1M467.0 489v1M468.8 489v1M470.3 489v1M471.5 489v1M472.5 489v1M473.3 489v1M474.1 489v1M474.8 489v1.8M479.3 489v1M482.0 489v1M483.8 489v1M485.3 489v1M486.5 489v1M487.5 489v1M488.3 489v1M489.1 489v1M489.8 489v1.8M494.3 489v1M497.0 489v1M498.8 489v1M500.3 489v1M501.5 489v1M502.5 489v1M503.3 489v1M504.1 489v1M504.8 489v1.8" stroke="#333" stroke-width="0.75" fill="none"/>
<text transform="translate(443.7,439.1) rotate(-90)" font-size="3.6" text-anchor="middle" fill="#444">10<tspan dy="-1.1" font-size="2.5">5</tspan></text>
<text transform="translate(443.7,450.9) rotate(-90)" font-size="3.6" text-anchor="middle" fill="#444">10<tspan dy="-1.1" font-size="2.5">4</tspan></text>
<text transform="translate(443.7,462.7) rotate(-90)" font-size="3.6" text-anchor="middle" fill="#444">10<tspan dy="-1.1" font-size="2.5">3</tspan></text>
<text transform="translate(443.7,474.5) rotate(-90)" font-size="3.6" text-anchor="middle" fill="#444">0</text>
<text transform="translate(443.7,486.3) rotate(-90)" font-size="3.6" text-anchor="middle" fill="#444">-336</text>
<text x="447.8" y="496.6" font-size="3.6" text-anchor="middle" fill="#444">-464</text>
<text x="459.8" y="496.6" font-size="3.6" text-anchor="middle" fill="#444">0</text>
<text x="474.8" y="496.6" font-size="3.6" text-anchor="middle" fill="#444">10<tspan dy="-1.1" font-size="2.5">3</tspan></text>
<text x="489.8" y="496.6" font-size="3.6" text-anchor="middle" fill="#444">10<tspan dy="-1.1" font-size="2.5">4</tspan></text>
<text x="504.8" y="496.6" font-size="3.6" text-anchor="middle" fill="#444">10<tspan dy="-1.1" font-size="2.5">5</tspan></text>
<text transform="translate(438.3,461.15) rotate(-90)" font-size="3.7" text-anchor="middle" fill="#444">A702-STREPT PE-A</text>
<text x="480.65" y="500.4" font-size="3.7" text-anchor="middle" fill="#444">3E7 FITC-A</text>
<rect x="334.3" y="400.7" width="3" height="2.2" fill="#24248c" fill-opacity="0.9"/>
<rect x="442.3" y="400.2" width="3" height="2.2" fill="#24248c" fill-opacity="0.9"/>
<rect x="337" y="489.3" width="3" height="2.2" fill="#24248c" fill-opacity="0.9"/>
<rect x="442.8" y="489.9" width="3" height="2.2" fill="#24248c" fill-opacity="0.9"/>
<text x="116.3" y="10.2" font-size="11.4" font-weight="bold" stroke="#000" stroke-width="0.22" text-anchor="start" fill="#000">A</text>
<text x="222.3" y="10" font-size="11.4" font-weight="bold" stroke="#000" stroke-width="0.22" text-anchor="start" fill="#000">B</text>
<text x="325" y="10" font-size="11.4" font-weight="bold" stroke="#000" stroke-width="0.22" text-anchor="start" fill="#000">C</text>
<text x="432.8" y="10.2" font-size="11.4" font-weight="bold" stroke="#000" stroke-width="0.22" text-anchor="start" fill="#000">D</text>
<text x="116.8" y="124.2" font-size="11.4" font-weight="bold" stroke="#000" stroke-width="0.22" text-anchor="start" fill="#000">E</text>
<text x="222" y="124.2" font-size="11.4" font-weight="bold" stroke="#000" stroke-width="0.22" text-anchor="start" fill="#000">F</text>
<text x="324.5" y="123.8" font-size="11.4" font-weight="bold" stroke="#000" stroke-width="0.22" text-anchor="start" fill="#000">G</text>
<text x="433.5" y="124.3" font-size="11.4" font-weight="bold" stroke="#000" stroke-width="0.22" text-anchor="start" fill="#000">H</text>
<text x="116.2" y="214.5" font-size="11.4" font-weight="bold" stroke="#000" stroke-width="0.22" text-anchor="start" fill="#000">I</text>
<text x="221.2" y="215.5" font-size="11.4" font-weight="bold" stroke="#000" stroke-width="0.22" text-anchor="start" fill="#000">J</text>
<text x="325.3" y="215.5" font-size="11.4" font-weight="bold" stroke="#000" stroke-width="0.22" text-anchor="start" fill="#000">K</text>
<text x="433.5" y="215.2" font-size="11.4" font-weight="bold" stroke="#000" stroke-width="0.22" text-anchor="start" fill="#000">L</text>
<text x="116.6" y="333.5" font-size="11.4" font-weight="bold" stroke="#000" stroke-width="0.22" text-anchor="start" fill="#000">M</text>
<text x="221.6" y="333.6" font-size="11.4" font-weight="bold" stroke="#000" stroke-width="0.22" text-anchor="start" fill="#000">N</text>
<text x="324.4" y="333.0" font-size="11.4" font-weight="bold" stroke="#000" stroke-width="0.22" text-anchor="start" fill="#000">O</text>
<text x="433.5" y="333.4" font-size="11.4" font-weight="bold" stroke="#000" stroke-width="0.22" text-anchor="start" fill="#000">P</text>
<text x="116.3" y="424" font-size="11.4" font-weight="bold" stroke="#000" stroke-width="0.22" text-anchor="start" fill="#000">Q</text>
<text x="221.6" y="424" font-size="11.4" font-weight="bold" stroke="#000" stroke-width="0.22" text-anchor="start" fill="#000">R</text>
<text x="325.6" y="424" font-size="11.4" font-weight="bold" stroke="#000" stroke-width="0.22" text-anchor="start" fill="#000">S</text>
<text x="433.3" y="424.3" font-size="11.4" font-weight="bold" stroke="#000" stroke-width="0.22" text-anchor="start" fill="#000">T</text>
<text x="162.1" y="104" font-size="9.2" font-weight="bold" stroke="#000" stroke-width="0.22" text-anchor="middle" fill="#000" textLength="18.9" lengthAdjust="spacingAndGlyphs">SSC</text>
<text x="268.4" y="104" font-size="9.2" font-weight="bold" stroke="#000" stroke-width="0.22" text-anchor="middle" fill="#000" textLength="86.3" lengthAdjust="spacingAndGlyphs">7C12 C3b/iC3b FITC</text>
<text x="369.4" y="104" font-size="9.2" font-weight="bold" stroke="#000" stroke-width="0.22" text-anchor="middle" fill="#000" textLength="89.6" lengthAdjust="spacingAndGlyphs">A702 C3d strepta-PE</text>
<text x="476.5" y="104" font-size="9.2" font-weight="bold" stroke="#000" stroke-width="0.22" text-anchor="middle" fill="#000" textLength="80.0" lengthAdjust="spacingAndGlyphs">3E7 C3b/iC3b FITC</text>
<text x="162" y="309.7" font-size="9.2" font-weight="bold" stroke="#000" stroke-width="0.22" text-anchor="middle" fill="#000" textLength="18.9" lengthAdjust="spacingAndGlyphs">SSC</text>
<text x="268.4" y="309.7" font-size="9.2" font-weight="bold" stroke="#000" stroke-width="0.22" text-anchor="middle" fill="#000" textLength="86.3" lengthAdjust="spacingAndGlyphs">7C12 C3b/iC3b FITC</text>
<text x="370" y="309.7" font-size="9.2" font-weight="bold" stroke="#000" stroke-width="0.22" text-anchor="middle" fill="#000" textLength="89.6" lengthAdjust="spacingAndGlyphs">A702 C3d strepta-PE</text>
<text x="476.7" y="309.7" font-size="9.2" font-weight="bold" stroke="#000" stroke-width="0.22" text-anchor="middle" fill="#000" textLength="80.0" lengthAdjust="spacingAndGlyphs">3E7 C3b/iC3b FITC</text>
<text x="160" y="515.2" font-size="9.2" font-weight="bold" stroke="#000" stroke-width="0.22" text-anchor="middle" fill="#000" textLength="18.9" lengthAdjust="spacingAndGlyphs">SSC</text>
<text x="266.6" y="515.2" font-size="9.2" font-weight="bold" stroke="#000" stroke-width="0.22" text-anchor="middle" fill="#000" textLength="86.3" lengthAdjust="spacingAndGlyphs">7C12 C3b/iC3b FITC</text>
<text x="366.5" y="515.2" font-size="9.2" font-weight="bold" stroke="#000" stroke-width="0.22" text-anchor="middle" fill="#000" textLength="89.6" lengthAdjust="spacingAndGlyphs">A702 C3d strepta-PE</text>
<text x="474.4" y="515.2" font-size="9.2" font-weight="bold" stroke="#000" stroke-width="0.22" text-anchor="middle" fill="#000" textLength="80.0" lengthAdjust="spacingAndGlyphs">3E7 C3b/iC3b FITC</text>
<text transform="translate(111.8,52.5) rotate(-90)" font-size="9.2" font-weight="bold" stroke="#000" stroke-width="0.22" text-anchor="middle" fill="#000">FSC</text>
<text transform="translate(218.4,52.5) rotate(-90)" font-size="9.2" font-weight="bold" stroke="#000" stroke-width="0.22" text-anchor="middle" fill="#000">CD59 APC</text>
<text transform="translate(317.5,52.5) rotate(-90)" font-size="9.2" font-weight="bold" stroke="#000" stroke-width="0.22" text-anchor="middle" fill="#000">CD59 APC</text>
<text transform="translate(427.6,52.5) rotate(-90)" font-size="9.2" font-weight="bold" stroke="#000" stroke-width="0.22" text-anchor="middle" fill="#000">A702 C3d strepta-PE</text>
<text transform="translate(110.2,210.6) rotate(-90)" font-size="9.2" font-weight="bold" stroke="#000" stroke-width="0.22" text-anchor="middle" fill="#000">FSC</text>
<text transform="translate(217.3,210.6) rotate(-90)" font-size="9.2" font-weight="bold" stroke="#000" stroke-width="0.22" text-anchor="middle" fill="#000">CD59 APC</text>
<text transform="translate(315.7,210.6) rotate(-90)" font-size="9.2" font-weight="bold" stroke="#000" stroke-width="0.22" text-anchor="middle" fill="#000">CD59 APC</text>
<text transform="translate(426.8,210.2) rotate(-90)" font-size="9.2" font-weight="bold" stroke="#000" stroke-width="0.22" text-anchor="middle" fill="#000" textLength="89.3" lengthAdjust="spacingAndGlyphs">A702 C3d strepta-PE</text>
<text transform="translate(108.0,415.4) rotate(-90)" font-size="9.2" font-weight="bold" stroke="#000" stroke-width="0.22" text-anchor="middle" fill="#000">FSC</text>
<text transform="translate(214.6,415.4) rotate(-90)" font-size="9.2" font-weight="bold" stroke="#000" stroke-width="0.22" text-anchor="middle" fill="#000">CD59 APC</text>
<text transform="translate(313.7,415.4) rotate(-90)" font-size="9.2" font-weight="bold" stroke="#000" stroke-width="0.22" text-anchor="middle" fill="#000">CD59 APC</text>
<text transform="translate(425.0,415.4) rotate(-90)" font-size="9.2" font-weight="bold" stroke="#000" stroke-width="0.22" text-anchor="middle" fill="#000">A702 C3d strepta-PE</text>
<text x="30.5" y="48.7" font-size="13.35" font-style="italic" font-weight="bold" stroke="#000" stroke-width="0.12" text-anchor="start" fill="#000">Baseline</text>
<text x="60.5" y="171.9" font-size="13.35" font-style="italic" font-weight="bold" stroke="#000" stroke-width="0.12" text-anchor="start" fill="#000">1&#160;&#160;h</text>
<text x="4.3" y="215.5" font-size="13.35" font-style="italic" font-weight="bold" stroke="#000" stroke-width="0.12" text-anchor="start" fill="#000">aNHS</text>
<text x="56" y="262.2" font-size="13.35" font-style="italic" font-weight="bold" stroke="#000" stroke-width="0.12" text-anchor="start" fill="#000">24 h</text>
<text x="58.2" y="378.0" font-size="13.35" font-style="italic" font-weight="bold" stroke="#000" stroke-width="0.12" text-anchor="start" fill="#000">1&#160;&#160;h</text>
<text x="2.2" y="419.8" font-size="13.35" font-style="italic" font-weight="bold" stroke="#000" stroke-width="0.12" text-anchor="start" fill="#000">aEcuHS</text>
<text x="54.5" y="466.8" font-size="13.35" font-style="italic" font-weight="bold" stroke="#000" stroke-width="0.12" text-anchor="start" fill="#000">24 h</text>
</svg>
</body></html>
